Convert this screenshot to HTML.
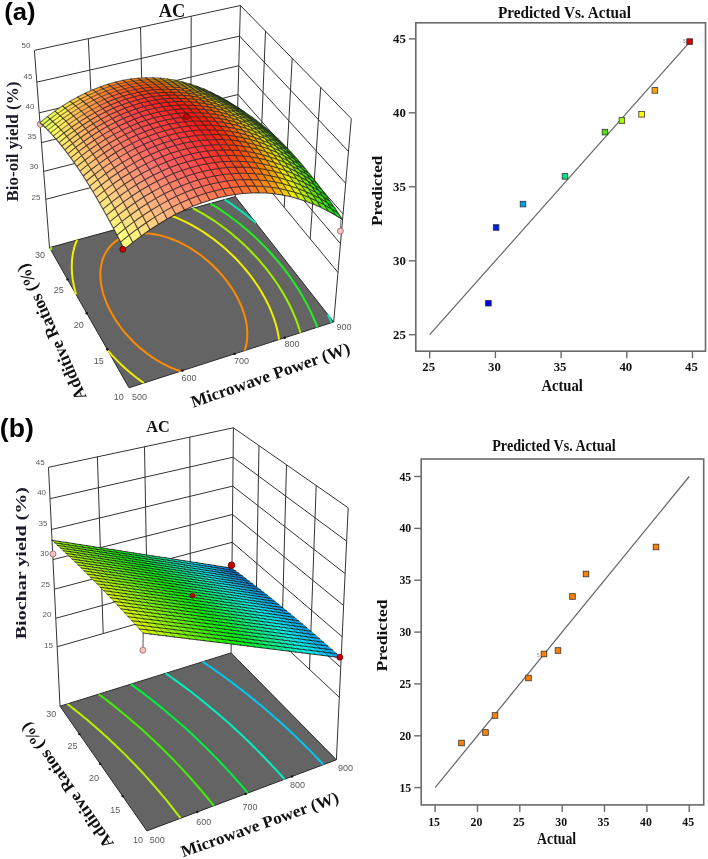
<!DOCTYPE html>
<html><head><meta charset="utf-8"><style>html,body{margin:0;padding:0;background:#fff;}svg{display:block;filter:blur(0.35px);}</style></head>
<body><svg width="708" height="859" viewBox="0 0 708 859">
<rect width="708" height="859" fill="#fff"/>
<path d="M49.5 247.6L34.4 50.4 M95.5 186.4L88.3 38.7 M143.8 173.8L140.5 27.3 M190.8 161.5L191.2 16.3 M235.3 196.6L240.4 5.5 M45.8 199.3L236.5 149.6 M43.7 171.4L237.3 122.4 M41.5 142.6L238.0 94.5 M39.2 112.8L238.8 65.7 M36.9 82.1L239.6 36.1 M34.4 50.4L240.4 5.5 M333.7 322.0L351.3 118.6 M310.2 238.8L320.7 87.4 M284.2 207.3L292.2 58.3 M259.6 177.6L265.5 31.0 M236.5 149.6L338.0 272.5 M237.3 122.4L340.5 243.7 M238.0 94.5L343.1 214.0 M238.8 65.7L345.7 183.3 M239.6 36.1L348.5 151.5 M240.4 5.5L351.3 118.6" stroke="#333" stroke-width="1" fill="none"/>
<polygon points="49.5,247.6 235.3,196.6 333.7,322.0 129.0,387.8" fill="#646464" stroke="#2a2a2a" stroke-width="1"/>
<polyline points="180.4,371.3 175.9,369.6 172.8,368.4 169.6,367.0 165.8,365.2 162.2,363.3 158.8,361.4 155.5,359.4 152.4,357.4 149.5,355.3 146.6,353.2 143.1,350.4 140.0,347.9 137.6,345.7 134.3,342.7 131.9,340.2 129.1,337.3 126.7,334.6 123.8,331.3 122.0,329.0 119.4,325.5 117.0,322.1 114.7,318.6 112.6,315.1 110.7,311.6 108.9,308.0 107.2,304.5 106.2,302.0 104.9,298.5 103.6,294.9 102.9,292.5 102.0,288.8 101.5,286.3 101.0,283.4 100.6,280.1 100.5,277.6 100.4,275.1 100.4,272.6 100.6,269.7 100.9,267.0 101.3,264.6 101.9,262.1 102.7,259.4 103.7,256.7 104.7,254.5 105.8,252.4 107.5,249.8 108.8,248.0 110.6,245.8 113.0,243.5 115.4,241.5 118.0,239.7 120.8,238.2 125.2,236.3 128.2,235.3 131.8,234.4 136.5,233.6 140.0,233.3 144.3,233.3 147.9,233.5 151.4,233.8 155.6,234.4 159.0,235.1 162.1,235.9 165.6,236.9 169.2,238.1 171.7,239.0 174.9,240.3 178.3,241.7 181.5,243.3 184.5,244.8 187.5,246.5 190.3,248.1 193.0,249.8 195.6,251.6 199.1,254.0 201.8,256.0 204.1,257.9 207.5,260.7 209.7,262.6 212.9,265.5 214.9,267.5 217.8,270.5 220.6,273.6 222.4,275.7 225.1,278.8 227.5,282.1 229.9,285.4 232.2,288.7 234.3,292.1 235.8,294.8 237.5,298.0 239.3,301.6 240.4,304.0 242.0,307.7 242.9,310.3 244.2,314.1 244.9,316.7 245.7,319.9 246.4,323.4 246.8,326.2 247.1,329.0 247.3,331.9 247.3,334.8 247.2,337.8 246.9,340.9 246.4,344.0 245.9,346.4 245.1,349.0 244.5,350.7" fill="none" stroke="#ff8a00" stroke-width="2"/>
<polyline points="143.8,383.0 140.8,380.9 137.9,378.7 135.0,376.5 131.6,373.8 128.3,371.0 125.7,368.8 123.2,366.5 119.7,363.1 117.4,360.9 114.1,357.4 111.9,355.2 108.8,351.7 107.9,350.7" fill="none" stroke="#f0f000" stroke-width="2"/>
<polyline points="77.1,240.0 76.0,242.7 75.0,245.3 74.2,247.9 73.7,250.1 73.1,252.5 72.7,255.0 72.3,257.6 72.0,260.4 71.9,263.2 71.8,265.7 71.8,268.2 71.9,270.6 72.1,273.8 72.4,276.8 72.7,279.2 73.3,282.6 73.8,285.3 74.4,288.0 75.2,291.3 76.1,294.6 76.1,294.6" fill="none" stroke="#f0f000" stroke-width="2"/>
<polyline points="279.0,339.6 278.6,336.7 278.1,333.9 277.3,330.1 276.5,327.0 275.8,324.3 274.8,321.2 273.7,317.8 272.7,315.2 271.2,311.4 270.2,308.9 268.5,305.2 267.3,302.7 265.5,299.1 263.5,295.5 262.2,293.2 260.1,289.7 258.0,286.3 255.7,283.0 253.4,279.6 251.0,276.4 248.5,273.2 245.9,270.0 243.3,266.9 240.6,263.8 238.7,261.8 235.9,258.8 232.9,255.8 230.9,253.9 227.8,251.0 225.7,249.1 222.5,246.3 220.3,244.4 216.9,241.7 214.6,239.9 212.0,238.0 208.6,235.6 206.1,233.9 203.6,232.2 201.0,230.5 197.7,228.5 194.5,226.6 191.4,224.9 188.5,223.4 185.6,221.9 182.8,220.6 180.1,219.4 177.5,218.2 174.1,216.8 170.6,215.5 168.7,214.9" fill="none" stroke="#f0f000" stroke-width="2"/>
<polyline points="51.3,247.1 50.9,249.6 50.8,250.0" fill="none" stroke="#a0f000" stroke-width="2"/>
<polyline points="300.5,332.7 299.6,330.0 298.3,326.0 297.4,323.3 296.3,320.4 294.9,316.8 293.8,314.3 292.2,310.5 291.0,308.0 289.2,304.3 287.3,300.7 286.0,298.3 284.0,294.8 282.0,291.3 280.5,289.0 278.4,285.5 276.1,282.2 273.8,278.8 271.4,275.5 269.0,272.3 266.5,269.1 263.9,265.9 261.3,262.8 258.6,259.7 256.3,257.1 254.0,254.7 251.2,251.7 248.3,248.8 246.3,246.9 243.3,244.0 240.9,241.8 238.2,239.3 235.3,236.9 232.8,234.7 230.4,232.8 227.2,230.3 225.0,228.5 221.7,226.1 219.1,224.2 216.7,222.5 214.0,220.7 210.5,218.4 207.9,216.8 205.3,215.2 202.6,213.6 199.9,212.0 197.1,210.5 194.3,209.0 192.9,208.2" fill="none" stroke="#a0f000" stroke-width="2"/>
<polyline points="317.3,327.3 316.3,324.6 314.8,320.9 313.6,318.2 312.2,314.9 310.8,311.8 308.9,308.1 307.7,305.6 305.8,302.0 304.4,299.6 302.4,296.0 300.3,292.5 298.5,289.5 296.7,286.7 294.5,283.3 292.2,280.0 289.9,276.7 287.5,273.4 285.0,270.1 282.5,266.9 280.0,263.8 277.4,260.6 274.7,257.6 272.0,254.5 269.3,251.5 267.3,249.4 264.6,246.6 261.7,243.6 258.8,240.8 256.8,238.9 253.8,236.0 251.8,234.2 248.7,231.4 246.2,229.3 243.4,226.9 241.1,225.0 237.9,222.5 235.7,220.7 232.2,218.2 229.9,216.5 227.6,214.8 224.0,212.3 221.6,210.6 219.2,209.0 216.7,207.4 213.3,205.3 210.3,203.5 210.3,203.5" fill="none" stroke="#20f020" stroke-width="2"/>
<polyline points="256.1,223.1 253.1,220.6 250.8,218.7 247.7,216.2 245.5,214.4 242.1,211.9 239.9,210.2 237.2,208.2 234.1,206.0 231.8,204.4 229.3,202.7 225.8,200.3 224.5,199.5" fill="none" stroke="#00e8b0" stroke-width="2"/>
<polyline points="331.6,322.7 330.5,320.1 328.7,316.3 327.9,314.6" fill="none" stroke="#00e8b0" stroke-width="2"/>
<circle cx="107.2" cy="349.3" r="1.2" fill="#111"/>
<circle cx="86.7" cy="313.2" r="1.2" fill="#111"/>
<circle cx="67.5" cy="279.4" r="1.2" fill="#111"/>
<circle cx="182.5" cy="370.6" r="1.2" fill="#111"/>
<circle cx="234.5" cy="353.9" r="1.2" fill="#111"/>
<circle cx="284.8" cy="337.7" r="1.2" fill="#111"/>
<circle cx="40.4" cy="124.2" r="3.1" fill="#f4c4c4" stroke="#9a6060" stroke-width="0.8"/>
<polygon points="124.2,249.4 132.8,242.4 129.1,235.2 120.5,242.1" fill="#fbff80"/>
<polygon points="132.8,242.4 141.4,235.9 137.7,228.7 129.1,235.2" fill="#ffef80"/>
<polygon points="141.4,235.9 150.0,229.8 146.2,222.7 137.7,228.7" fill="#ffde80"/>
<polygon points="150.0,229.8 158.6,224.2 154.8,217.1 146.2,222.7" fill="#ffce80"/>
<polygon points="158.6,224.2 167.2,219.0 163.4,211.9 154.8,217.1" fill="#ffc080"/>
<polygon points="167.2,219.0 175.8,214.3 171.9,207.3 163.4,211.9" fill="#ffb37d"/>
<polygon points="175.8,214.3 184.4,210.1 180.5,203.1 171.9,207.3" fill="#ffa677"/>
<polygon points="120.5,242.1 129.1,235.2 125.5,228.2 116.9,235.1" fill="#fffc80"/>
<polygon points="129.1,235.2 137.7,228.7 134.0,221.7 125.5,228.2" fill="#ffe880"/>
<polygon points="137.7,228.7 146.2,222.7 142.5,215.7 134.0,221.7" fill="#ffd680"/>
<polygon points="146.2,222.7 154.8,217.1 151.1,210.2 142.5,215.7" fill="#ffc780"/>
<polygon points="184.4,210.1 192.9,206.3 189.0,199.3 180.5,203.1" fill="#ff9971"/>
<polygon points="154.8,217.1 163.4,211.9 159.6,205.1 151.1,210.2" fill="#ffb980"/>
<polygon points="163.4,211.9 171.9,207.3 168.1,200.5 159.6,205.1" fill="#ffab7c"/>
<polygon points="192.9,206.3 201.4,203.0 197.4,196.1 189.0,199.3" fill="#ff8d69"/>
<polygon points="171.9,207.3 180.5,203.1 176.6,196.3 168.1,200.5" fill="#ff9d76"/>
<polygon points="116.9,235.1 125.5,228.2 121.9,221.4 113.4,228.3" fill="#fff580"/>
<polygon points="125.5,228.2 134.0,221.7 130.4,215.0 121.9,221.4" fill="#ffe280"/>
<polygon points="134.0,221.7 142.5,215.7 138.9,209.0 130.4,215.0" fill="#ffd080"/>
<polygon points="201.4,203.0 209.9,200.2 205.9,193.3 197.4,196.1" fill="#ff8361"/>
<polygon points="142.5,215.7 151.1,210.2 147.3,203.5 138.9,209.0" fill="#ffc080"/>
<polygon points="180.5,203.1 189.0,199.3 185.1,192.6 176.6,196.3" fill="#ff906f"/>
<polygon points="151.1,210.2 159.6,205.1 155.8,198.4 147.3,203.5" fill="#ffb27f"/>
<polygon points="159.6,205.1 168.1,200.5 164.3,193.8 155.8,198.4" fill="#ffa37a"/>
<polygon points="209.9,200.2 218.3,197.8 214.3,190.9 205.9,193.3" fill="#ff7a58"/>
<polygon points="189.0,199.3 197.4,196.1 193.5,189.3 185.1,192.6" fill="#ff8367"/>
<polygon points="168.1,200.5 176.6,196.3 172.8,189.7 164.3,193.8" fill="#ff9574"/>
<polygon points="113.4,228.3 121.9,221.4 118.3,214.8 109.9,221.7" fill="#fff080"/>
<polygon points="121.9,221.4 130.4,215.0 126.8,208.5 118.3,214.8" fill="#ffdc80"/>
<polygon points="130.4,215.0 138.9,209.0 135.2,202.5 126.8,208.5" fill="#ffca80"/>
<polygon points="197.4,196.1 205.9,193.3 201.9,186.6 193.5,189.3" fill="#ff785f"/>
<polygon points="218.3,197.8 226.7,195.9 222.6,189.0 214.3,190.9" fill="#ff734f"/>
<polygon points="138.9,209.0 147.3,203.5 143.7,197.0 135.2,202.5" fill="#ffba80"/>
<polygon points="176.6,196.3 185.1,192.6 181.2,186.0 172.8,189.7" fill="#ff876d"/>
<polygon points="147.3,203.5 155.8,198.4 152.1,192.0 143.7,197.0" fill="#ffab7d"/>
<polygon points="205.9,193.3 214.3,190.9 210.3,184.3 201.9,186.6" fill="#ff6f56"/>
<polygon points="155.8,198.4 164.3,193.8 160.6,187.4 152.1,192.0" fill="#ff9c78"/>
<polygon points="185.1,192.6 193.5,189.3 189.6,182.8 181.2,186.0" fill="#ff7a66"/>
<polygon points="226.7,195.9 235.0,194.4 230.9,187.6 222.6,189.0" fill="#ff7045"/>
<polygon points="164.3,193.8 172.8,189.7 169.0,183.3 160.6,187.4" fill="#ff8d72"/>
<polygon points="109.9,221.7 118.3,214.8 114.8,208.5 106.4,215.3" fill="#ffea80"/>
<polygon points="118.3,214.8 126.8,208.5 123.2,202.1 114.8,208.5" fill="#ffd780"/>
<polygon points="193.5,189.3 201.9,186.6 198.0,180.1 189.6,182.8" fill="#ff6f5d"/>
<polygon points="126.8,208.5 135.2,202.5 131.6,196.2 123.2,202.1" fill="#ffc580"/>
<polygon points="214.3,190.9 222.6,189.0 218.6,182.4 210.3,184.3" fill="#ff684d"/>
<polygon points="135.2,202.5 143.7,197.0 140.0,190.8 131.6,196.2" fill="#ffb580"/>
<polygon points="172.8,189.7 181.2,186.0 177.4,179.7 169.0,183.3" fill="#ff7f6b"/>
<polygon points="143.7,197.0 152.1,192.0 148.5,185.8 140.0,190.8" fill="#ffa57b"/>
<polygon points="235.0,194.4 243.2,193.4 239.1,186.7 230.9,187.6" fill="#ff6f3a"/>
<polygon points="201.9,186.6 210.3,184.3 206.4,177.8 198.0,180.1" fill="#ff6554"/>
<polygon points="152.1,192.0 160.6,187.4 156.9,181.2 148.5,185.8" fill="#ff9576"/>
<polygon points="181.2,186.0 189.6,182.8 185.8,176.5 177.4,179.7" fill="#ff7264"/>
<polygon points="222.6,189.0 230.9,187.6 226.9,181.0 218.6,182.4" fill="#ff6443"/>
<polygon points="160.6,187.4 169.0,183.3 165.3,177.2 156.9,181.2" fill="#ff8670"/>
<polygon points="106.4,215.3 114.8,208.5 111.3,202.3 102.9,209.1" fill="#ffe680"/>
<polygon points="114.8,208.5 123.2,202.1 119.7,196.0 111.3,202.3" fill="#ffd280"/>
<polygon points="189.6,182.8 198.0,180.1 194.1,173.8 185.8,176.5" fill="#ff665b"/>
<polygon points="123.2,202.1 131.6,196.2 128.1,190.1 119.7,196.0" fill="#ffc080"/>
<polygon points="210.3,184.3 218.6,182.4 214.6,176.0 206.4,177.8" fill="#ff5e4b"/>
<polygon points="243.2,193.4 251.4,192.9 247.3,186.1 239.1,186.7" fill="#fe7230"/>
<polygon points="131.6,196.2 140.0,190.8 136.4,184.7 128.1,190.1" fill="#ffb07e"/>
<polygon points="169.0,183.3 177.4,179.7 173.6,173.6 165.3,177.2" fill="#ff7769"/>
<polygon points="230.9,187.6 239.1,186.7 235.1,180.1 226.9,181.0" fill="#ff6338"/>
<polygon points="140.0,190.8 148.5,185.8 144.8,179.7 136.4,184.7" fill="#ff9f7a"/>
<polygon points="198.0,180.1 206.4,177.8 202.5,171.6 194.1,173.8" fill="#ff5c52"/>
<polygon points="177.4,179.7 185.8,176.5 182.0,170.4 173.6,173.6" fill="#ff6961"/>
<polygon points="148.5,185.8 156.9,181.2 153.2,175.3 144.8,179.7" fill="#ff8f74"/>
<polygon points="218.6,182.4 226.9,181.0 222.9,174.6 214.6,176.0" fill="#ff5941"/>
<polygon points="251.4,192.9 259.5,192.8 255.4,186.1 247.3,186.1" fill="#fc7925"/>
<polygon points="156.9,181.2 165.3,177.2 161.6,171.2 153.2,175.3" fill="#ff7f6e"/>
<polygon points="102.9,209.1 111.3,202.3 107.9,196.3 99.5,203.1" fill="#ffe280"/>
<polygon points="111.3,202.3 119.7,196.0 116.2,190.1 107.9,196.3" fill="#ffce80"/>
<polygon points="185.8,176.5 194.1,173.8 190.3,167.7 182.0,170.4" fill="#ff5d59"/>
<polygon points="239.1,186.7 247.3,186.1 243.2,179.6 235.1,180.1" fill="#fd652e"/>
<polygon points="206.4,177.8 214.6,176.0 210.7,169.8 202.5,171.6" fill="#ff5449"/>
<polygon points="119.7,196.0 128.1,190.1 124.5,184.2 116.2,190.1" fill="#ffbd80"/>
<polygon points="165.3,177.2 173.6,173.6 169.9,167.6 161.6,171.2" fill="#ff7067"/>
<polygon points="128.1,190.1 136.4,184.7 132.9,178.8 124.5,184.2" fill="#ffab7c"/>
<polygon points="226.9,181.0 235.1,180.1 231.1,173.7 222.9,174.6" fill="#ff5736"/>
<polygon points="136.4,184.7 144.8,179.7 141.2,173.9 132.9,178.8" fill="#ff9977"/>
<polygon points="194.1,173.8 202.5,171.6 198.6,165.5 190.3,167.7" fill="#ff5350"/>
<polygon points="173.6,173.6 182.0,170.4 178.2,164.5 169.9,167.6" fill="#ff625f"/>
<polygon points="259.5,192.8 267.5,193.1 263.4,186.5 255.4,186.1" fill="#fa851a"/>
<polygon points="144.8,179.7 153.2,175.3 149.6,169.5 141.2,173.9" fill="#ff8972"/>
<polygon points="214.6,176.0 222.9,174.6 218.9,168.4 210.7,169.8" fill="#ff4e3f"/>
<polygon points="247.3,186.1 255.4,186.1 251.3,179.6 243.2,179.6" fill="#fc6c23"/>
<polygon points="153.2,175.3 161.6,171.2 157.9,165.5 149.6,169.5" fill="#ff796c"/>
<polygon points="235.1,180.1 243.2,179.6 239.2,173.3 231.1,173.7" fill="#fd592c"/>
<polygon points="99.5,203.1 107.9,196.3 104.4,190.6 96.2,197.3" fill="#ffdf80"/>
<polygon points="182.0,170.4 190.3,167.7 186.5,161.9 178.2,164.5" fill="#ff5757"/>
<polygon points="202.5,171.6 210.7,169.8 206.8,163.8 198.6,165.5" fill="#ff4a47"/>
<polygon points="107.9,196.3 116.2,190.1 112.7,184.3 104.4,190.6" fill="#ffcb80"/>
<polygon points="116.2,190.1 124.5,184.2 121.0,178.5 112.7,184.3" fill="#ffb97e"/>
<polygon points="161.6,171.2 169.9,167.6 166.2,161.9 157.9,165.5" fill="#ff6965"/>
<polygon points="124.5,184.2 132.9,178.8 129.4,173.2 121.0,178.5" fill="#ffa67a"/>
<polygon points="222.9,174.6 231.1,173.7 227.1,167.6 218.9,168.4" fill="#fe4d34"/>
<polygon points="132.9,178.8 141.2,173.9 137.7,168.3 129.4,173.2" fill="#ff9475"/>
<polygon points="267.5,193.1 275.5,193.9 271.3,187.3 263.4,186.5" fill="#f8960f"/>
<polygon points="190.3,167.7 198.6,165.5 194.8,159.7 186.5,161.9" fill="#ff4e4e"/>
<polygon points="255.4,186.1 263.4,186.5 259.3,180.0 251.3,179.6" fill="#fa7818"/>
<polygon points="169.9,167.6 178.2,164.5 174.5,158.8 166.2,161.9" fill="#ff5d5d"/>
<polygon points="210.7,169.8 218.9,168.4 215.0,162.4 206.8,163.8" fill="#ff453d"/>
<polygon points="141.2,173.9 149.6,169.5 146.0,163.9 137.7,168.3" fill="#ff8370"/>
<polygon points="243.2,179.6 251.3,179.6 247.2,173.3 239.2,173.3" fill="#fb6021"/>
<polygon points="149.6,169.5 157.9,165.5 154.3,159.9 146.0,163.9" fill="#ff736a"/>
<polygon points="231.1,173.7 239.2,173.3 235.2,167.1 227.1,167.6" fill="#fd4e29"/>
<polygon points="198.6,165.5 206.8,163.8 203.0,157.9 194.8,159.7" fill="#ff4444"/>
<polygon points="178.2,164.5 186.5,161.9 182.7,156.2 174.5,158.8" fill="#ff5555"/>
<polygon points="96.2,197.3 104.4,190.6 101.1,185.0 92.8,191.6" fill="#ffdc80"/>
<polygon points="104.4,190.6 112.7,184.3 109.3,178.8 101.1,185.0" fill="#ffc980"/>
<polygon points="112.7,184.3 121.0,178.5 117.6,173.0 109.3,178.8" fill="#ffb57c"/>
<polygon points="218.9,168.4 227.1,167.6 223.1,161.6 215.0,162.4" fill="#fe4332"/>
<polygon points="157.9,165.5 166.2,161.9 162.5,156.4 154.3,159.9" fill="#ff6363"/>
<polygon points="121.0,178.5 129.4,173.2 125.9,167.7 117.6,173.0" fill="#ffa278"/>
<polygon points="275.5,193.9 283.4,195.2 279.2,188.5 271.3,187.3" fill="#f6ad04"/>
<polygon points="263.4,186.5 271.3,187.3 267.2,180.8 259.3,180.0" fill="#f8880d"/>
<polygon points="129.4,173.2 137.7,168.3 134.1,162.9 125.9,167.7" fill="#ff9073"/>
<polygon points="251.3,179.6 259.3,180.0 255.2,173.7 247.2,173.3" fill="#f96b16"/>
<polygon points="186.5,161.9 194.8,159.7 191.0,154.0 182.7,156.2" fill="#ff4c4c"/>
<polygon points="206.8,163.8 215.0,162.4 211.1,156.7 203.0,157.9" fill="#ff3c3a"/>
<polygon points="166.2,161.9 174.5,158.8 170.8,153.3 162.5,156.4" fill="#ff5b5b"/>
<polygon points="239.2,173.3 247.2,173.3 243.2,167.1 235.2,167.1" fill="#fb551f"/>
<polygon points="137.7,168.3 146.0,163.9 142.4,158.5 134.1,162.9" fill="#ff7f6e"/>
<polygon points="227.1,167.6 235.2,167.1 231.2,161.2 223.1,161.6" fill="#fc4427"/>
<polygon points="146.0,163.9 154.3,159.9 150.7,154.5 142.4,158.5" fill="#ff6e67"/>
<polygon points="194.8,159.7 203.0,157.9 199.1,152.3 191.0,154.0" fill="#ff4242"/>
<polygon points="174.5,158.8 182.7,156.2 179.0,150.7 170.8,153.3" fill="#ff5252"/>
<polygon points="92.8,191.6 101.1,185.0 97.8,179.6 89.6,186.2" fill="#ffda80"/>
<polygon points="101.1,185.0 109.3,178.8 106.0,173.5 97.8,179.6" fill="#ffc67d"/>
<polygon points="109.3,178.8 117.6,173.0 114.2,167.7 106.0,173.5" fill="#ffb27a"/>
<polygon points="215.0,162.4 223.1,161.6 219.2,155.8 211.1,156.7" fill="#fe3a30"/>
<polygon points="283.4,195.2 291.1,196.8 286.9,190.2 279.2,188.5" fill="#f4cb00"/>
<polygon points="271.3,187.3 279.2,188.5 275.0,182.1 267.2,180.8" fill="#f59f02"/>
<polygon points="154.3,159.9 162.5,156.4 158.9,151.0 150.7,154.5" fill="#ff6060"/>
<polygon points="259.3,180.0 267.2,180.8 263.1,174.6 255.2,173.7" fill="#f77c0b"/>
<polygon points="117.6,173.0 125.9,167.7 122.4,162.5 114.2,167.7" fill="#ff9f76"/>
<polygon points="247.2,173.3 255.2,173.7 251.1,167.6 243.2,167.1" fill="#f96014"/>
<polygon points="125.9,167.7 134.1,162.9 130.7,157.6 122.4,162.5" fill="#ff8c71"/>
<polygon points="182.7,156.2 191.0,154.0 187.2,148.6 179.0,150.7" fill="#ff4949"/>
<polygon points="203.0,157.9 211.1,156.7 207.3,151.1 199.1,152.3" fill="#ff3838"/>
<polygon points="235.2,167.1 243.2,167.1 239.2,161.2 231.2,161.2" fill="#fa4a1c"/>
<polygon points="162.5,156.4 170.8,153.3 167.1,148.0 158.9,151.0" fill="#ff5959"/>
<polygon points="134.1,162.9 142.4,158.5 138.9,153.3 130.7,157.6" fill="#ff7b6b"/>
<polygon points="223.1,161.6 231.2,161.2 227.2,155.5 219.2,155.8" fill="#fc3b25"/>
<polygon points="142.4,158.5 150.7,154.5 147.1,149.4 138.9,153.3" fill="#ff6a65"/>
<polygon points="191.0,154.0 199.1,152.3 195.3,146.9 187.2,148.6" fill="#ff4040"/>
<polygon points="170.8,153.3 179.0,150.7 175.3,145.4 167.1,148.0" fill="#ff5050"/>
<polygon points="89.6,186.2 97.8,179.6 94.5,174.5 86.3,181.0" fill="#ffd97e"/>
<polygon points="279.2,188.5 286.9,190.2 282.8,183.8 275.0,182.1" fill="#f3be00"/>
<polygon points="97.8,179.6 106.0,173.5 102.6,168.3 94.5,174.5" fill="#ffc47b"/>
<polygon points="267.2,180.8 275.0,182.1 270.9,175.9 263.1,174.6" fill="#f59200"/>
<polygon points="291.1,196.8 298.8,198.9 294.6,192.3 286.9,190.2" fill="#f2ee00"/>
<polygon points="211.1,156.7 219.2,155.8 215.3,150.3 207.3,151.1" fill="#fd322d"/>
<polygon points="106.0,173.5 114.2,167.7 110.8,162.6 102.6,168.3" fill="#ffaf78"/>
<polygon points="255.2,173.7 263.1,174.6 259.0,168.5 251.1,167.6" fill="#f77009"/>
<polygon points="150.7,154.5 158.9,151.0 155.3,145.9 147.1,149.4" fill="#ff5e5e"/>
<polygon points="114.2,167.7 122.4,162.5 119.0,157.4 110.8,162.6" fill="#ff9c73"/>
<polygon points="243.2,167.1 251.1,167.6 247.1,161.7 239.2,161.2" fill="#f85511"/>
<polygon points="179.0,150.7 187.2,148.6 183.5,143.3 175.3,145.4" fill="#ff4747"/>
<polygon points="122.4,162.5 130.7,157.6 127.2,152.6 119.0,157.4" fill="#ff896f"/>
<polygon points="199.1,152.3 207.3,151.1 203.4,145.7 195.3,146.9" fill="#ff3636"/>
<polygon points="231.2,161.2 239.2,161.2 235.2,155.5 227.2,155.5" fill="#fa411a"/>
<polygon points="158.9,151.0 167.1,148.0 163.5,142.9 155.3,145.9" fill="#ff5656"/>
<polygon points="130.7,157.6 138.9,153.3 135.4,148.3 127.2,152.6" fill="#ff7769"/>
<polygon points="219.2,155.8 227.2,155.5 223.3,149.9 215.3,150.3" fill="#fc3323"/>
<polygon points="138.9,153.3 147.1,149.4 143.6,144.4 135.4,148.3" fill="#ff6663"/>
<polygon points="187.2,148.6 195.3,146.9 191.6,141.7 183.5,143.3" fill="#ff3d3d"/>
<polygon points="275.0,182.1 282.8,183.8 278.6,177.6 270.9,175.9" fill="#f3b200"/>
<polygon points="167.1,148.0 175.3,145.4 171.7,140.4 163.5,142.9" fill="#ff4e4e"/>
<polygon points="263.1,174.6 270.9,175.9 266.8,169.8 259.0,168.5" fill="#f48700"/>
<polygon points="286.9,190.2 294.6,192.3 290.4,185.9 282.8,183.8" fill="#f1e000"/>
<polygon points="86.3,181.0 94.5,174.5 91.2,169.5 83.1,176.0" fill="#ffd87c"/>
<polygon points="251.1,167.6 259.0,168.5 255.0,162.6 247.1,161.7" fill="#f66506"/>
<polygon points="298.8,198.9 306.4,201.4 302.1,194.8 294.6,192.3" fill="#d1f000"/>
<polygon points="207.3,151.1 215.3,150.3 211.5,144.9 203.4,145.7" fill="#fd2b2b"/>
<polygon points="94.5,174.5 102.6,168.3 99.4,163.4 91.2,169.5" fill="#ffc279"/>
<polygon points="102.6,168.3 110.8,162.6 107.5,157.7 99.4,163.4" fill="#ffad75"/>
<polygon points="147.1,149.4 155.3,145.9 151.8,141.0 143.6,144.4" fill="#ff5b5b"/>
<polygon points="239.2,161.2 247.1,161.7 243.1,156.0 235.2,155.5" fill="#f84c0f"/>
<polygon points="110.8,162.6 119.0,157.4 115.7,152.5 107.5,157.7" fill="#ff9a71"/>
<polygon points="175.3,145.4 183.5,143.3 179.8,138.3 171.7,140.4" fill="#ff4444"/>
<polygon points="227.2,155.5 235.2,155.5 231.3,150.0 223.3,149.9" fill="#fa3918"/>
<polygon points="119.0,157.4 127.2,152.6 123.8,147.8 115.7,152.5" fill="#ff876c"/>
<polygon points="195.3,146.9 203.4,145.7 199.6,140.5 191.6,141.7" fill="#fe3333"/>
<polygon points="155.3,145.9 163.5,142.9 159.9,138.0 151.8,141.0" fill="#ff5454"/>
<polygon points="127.2,152.6 135.4,148.3 132.0,143.5 123.8,147.8" fill="#ff7466"/>
<polygon points="215.3,150.3 223.3,149.9 219.5,144.6 211.5,144.9" fill="#fb2c20"/>
<polygon points="270.9,175.9 278.6,177.6 274.5,171.6 266.8,169.8" fill="#f2a700"/>
<polygon points="282.8,183.8 290.4,185.9 286.2,179.7 278.6,177.6" fill="#f1d500"/>
<polygon points="259.0,168.5 266.8,169.8 262.7,164.0 255.0,162.6" fill="#f47e00"/>
<polygon points="183.5,143.3 191.6,141.7 187.9,136.7 179.8,138.3" fill="#ff3b3b"/>
<polygon points="135.4,148.3 143.6,144.4 140.1,139.6 132.0,143.5" fill="#ff6360"/>
<polygon points="294.6,192.3 302.1,194.8 297.9,188.5 290.4,185.9" fill="#dcf000"/>
<polygon points="163.5,142.9 171.7,140.4 168.0,135.5 159.9,138.0" fill="#ff4b4b"/>
<polygon points="247.1,161.7 255.0,162.6 251.0,157.0 243.1,156.0" fill="#f65c04"/>
<polygon points="203.4,145.7 211.5,144.9 207.7,139.7 199.6,140.5" fill="#fd2929"/>
<polygon points="306.4,201.4 313.8,204.3 309.6,197.7 302.1,194.8" fill="#aaee00"/>
<polygon points="83.1,176.0 91.2,169.5 88.0,164.7 80.0,171.2" fill="#ffd77a"/>
<polygon points="91.2,169.5 99.4,163.4 96.1,158.6 88.0,164.7" fill="#ffc177"/>
<polygon points="235.2,155.5 243.1,156.0 239.2,150.5 231.3,150.0" fill="#f8430d"/>
<polygon points="99.4,163.4 107.5,157.7 104.2,153.0 96.1,158.6" fill="#ffac73"/>
<polygon points="143.6,144.4 151.8,141.0 148.3,136.2 140.1,139.6" fill="#ff5959"/>
<polygon points="107.5,157.7 115.7,152.5 112.3,147.8 104.2,153.0" fill="#ff986f"/>
<polygon points="223.3,149.9 231.3,150.0 227.4,144.7 219.5,144.6" fill="#f93115"/>
<polygon points="171.7,140.4 179.8,138.3 176.1,133.4 168.0,135.5" fill="#ff4242"/>
<polygon points="191.6,141.7 199.6,140.5 195.9,135.5 187.9,136.7" fill="#fe3131"/>
<polygon points="115.7,152.5 123.8,147.8 120.5,143.1 112.3,147.8" fill="#ff856a"/>
<polygon points="151.8,141.0 159.9,138.0 156.4,133.3 148.3,136.2" fill="#ff5151"/>
<polygon points="211.5,144.9 219.5,144.6 215.6,139.4 207.7,139.7" fill="#fb251e"/>
<polygon points="123.8,147.8 132.0,143.5 128.6,138.8 120.5,143.1" fill="#ff7264"/>
<polygon points="266.8,169.8 274.5,171.6 270.4,165.8 262.7,164.0" fill="#f29d00"/>
<polygon points="278.6,177.6 286.2,179.7 282.1,173.8 274.5,171.6" fill="#f1ca00"/>
<polygon points="255.0,162.6 262.7,164.0 258.7,158.3 251.0,157.0" fill="#f47500"/>
<polygon points="290.4,185.9 297.9,188.5 293.8,182.3 286.2,179.7" fill="#e5ef00"/>
<polygon points="179.8,138.3 187.9,136.7 184.2,131.8 176.1,133.4" fill="#ff3838"/>
<polygon points="243.1,156.0 251.0,157.0 247.0,151.5 239.2,150.5" fill="#f55302"/>
<polygon points="302.1,194.8 309.6,197.7 305.4,191.4 297.9,188.5" fill="#b4ee00"/>
<polygon points="132.0,143.5 140.1,139.6 136.7,135.0 128.6,138.8" fill="#ff615e"/>
<polygon points="159.9,138.0 168.0,135.5 164.5,130.8 156.4,133.3" fill="#ff4949"/>
<polygon points="199.6,140.5 207.7,139.7 203.9,134.7 195.9,135.5" fill="#fc2626"/>
<polygon points="231.3,150.0 239.2,150.5 235.3,145.2 227.4,144.7" fill="#f73c0a"/>
<polygon points="80.0,171.2 88.0,164.7 84.9,160.1 76.8,166.5" fill="#ffd777"/>
<polygon points="313.8,204.3 321.2,207.6 316.9,201.1 309.6,197.7" fill="#80ec00"/>
<polygon points="88.0,164.7 96.1,158.6 92.9,154.1 84.9,160.1" fill="#ffc174"/>
<polygon points="96.1,158.6 104.2,153.0 101.0,148.5 92.9,154.1" fill="#ffac71"/>
<polygon points="140.1,139.6 148.3,136.2 144.8,131.7 136.7,135.0" fill="#ff5656"/>
<polygon points="104.2,153.0 112.3,147.8 109.1,143.3 101.0,148.5" fill="#ff976c"/>
<polygon points="219.5,144.6 227.4,144.7 223.5,139.6 215.6,139.4" fill="#f92b13"/>
<polygon points="168.0,135.5 176.1,133.4 172.5,128.8 164.5,130.8" fill="#ff3f3f"/>
<polygon points="187.9,136.7 195.9,135.5 192.2,130.7 184.2,131.8" fill="#fd2e2e"/>
<polygon points="112.3,147.8 120.5,143.1 117.1,138.7 109.1,143.3" fill="#ff8467"/>
<polygon points="148.3,136.2 156.4,133.3 152.9,128.7 144.8,131.7" fill="#ff4e4e"/>
<polygon points="207.7,139.7 215.6,139.4 211.8,134.5 203.9,134.7" fill="#fa201b"/>
<polygon points="274.5,171.6 282.1,173.8 278.0,168.0 270.4,165.8" fill="#f0c100"/>
<polygon points="262.7,164.0 270.4,165.8 266.4,160.1 258.7,158.3" fill="#f29500"/>
<polygon points="286.2,179.7 293.8,182.3 289.6,176.3 282.1,173.8" fill="#edef00"/>
<polygon points="120.5,143.1 128.6,138.8 125.2,134.4 117.1,138.7" fill="#ff7161"/>
<polygon points="251.0,157.0 258.7,158.3 254.7,152.9 247.0,151.5" fill="#f36f00"/>
<polygon points="297.9,188.5 305.4,191.4 301.2,185.3 293.8,182.3" fill="#beed00"/>
<polygon points="239.2,150.5 247.0,151.5 243.0,146.2 235.3,145.2" fill="#f54d00"/>
<polygon points="176.1,133.4 184.2,131.8 180.5,127.2 172.5,128.8" fill="#ff3636"/>
<polygon points="128.6,138.8 136.7,135.0 133.3,130.6 125.2,134.4" fill="#ff5f5b"/>
<polygon points="309.6,197.7 316.9,201.1 312.7,194.7 305.4,191.4" fill="#8bec00"/>
<polygon points="156.4,133.3 164.5,130.8 160.9,126.3 152.9,128.7" fill="#ff4646"/>
<polygon points="195.9,135.5 203.9,134.7 200.1,130.0 192.2,130.7" fill="#fc2424"/>
<polygon points="227.4,144.7 235.3,145.2 231.4,140.1 223.5,139.6" fill="#f73608"/>
<polygon points="76.8,166.5 84.9,160.1 81.7,155.7 73.8,162.1" fill="#ffd875"/>
<polygon points="84.9,160.1 92.9,154.1 89.7,149.7 81.7,155.7" fill="#ffc272"/>
<polygon points="321.2,207.6 328.4,211.2 324.2,204.8 316.9,201.1" fill="#54eb00"/>
<polygon points="92.9,154.1 101.0,148.5 97.8,144.1 89.7,149.7" fill="#ffac6e"/>
<polygon points="136.7,135.0 144.8,131.7 141.3,127.3 133.3,130.6" fill="#ff5454"/>
<polygon points="215.6,139.4 223.5,139.6 219.7,134.6 211.8,134.5" fill="#f82611"/>
<polygon points="101.0,148.5 109.1,143.3 105.8,139.0 97.8,144.1" fill="#ff976a"/>
<polygon points="164.5,130.8 172.5,128.8 168.9,124.3 160.9,126.3" fill="#ff3d3d"/>
<polygon points="184.2,131.8 192.2,130.7 188.5,126.0 180.5,127.2" fill="#fd2c2c"/>
<polygon points="109.1,143.3 117.1,138.7 113.8,134.4 105.8,139.0" fill="#ff8465"/>
<polygon points="270.4,165.8 278.0,168.0 274.0,162.4 266.4,160.1" fill="#f0b800"/>
<polygon points="258.7,158.3 266.4,160.1 262.4,154.7 254.7,152.9" fill="#f18e00"/>
<polygon points="282.1,173.8 289.6,176.3 285.5,170.6 278.0,168.0" fill="#eee700"/>
<polygon points="144.8,131.7 152.9,128.7 149.4,124.4 141.3,127.3" fill="#ff4c4c"/>
<polygon points="203.9,134.7 211.8,134.5 208.1,129.7 200.1,130.0" fill="#fa1c19"/>
<polygon points="247.0,151.5 254.7,152.9 250.8,147.6 243.0,146.2" fill="#f36900"/>
<polygon points="293.8,182.3 301.2,185.3 297.1,179.3 289.6,176.3" fill="#c6ed00"/>
<polygon points="117.1,138.7 125.2,134.4 121.9,130.2 113.8,134.4" fill="#ff715f"/>
<polygon points="235.3,145.2 243.0,146.2 239.1,141.1 231.4,140.1" fill="#f44800"/>
<polygon points="305.4,191.4 312.7,194.7 308.5,188.6 301.2,185.3" fill="#94ec00"/>
<polygon points="172.5,128.8 180.5,127.2 176.9,122.7 168.9,124.3" fill="#fe3333"/>
<polygon points="125.2,134.4 133.3,130.6 129.9,126.4 121.9,130.2" fill="#ff5f58"/>
<polygon points="192.2,130.7 200.1,130.0 196.4,125.4 188.5,126.0" fill="#fb2121"/>
<polygon points="152.9,128.7 160.9,126.3 157.4,122.0 149.4,124.4" fill="#ff4343"/>
<polygon points="223.5,139.6 231.4,140.1 227.5,135.2 219.7,134.6" fill="#f63106"/>
<polygon points="316.9,201.1 324.2,204.8 320.0,198.5 312.7,194.7" fill="#5eea00"/>
<polygon points="73.8,162.1 81.7,155.7 78.7,151.4 70.7,157.8" fill="#ffda73"/>
<polygon points="81.7,155.7 89.7,149.7 86.6,145.5 78.7,151.4" fill="#ffc36f"/>
<polygon points="211.8,134.5 219.7,134.6 215.9,129.9 208.1,129.7" fill="#f8220e"/>
<polygon points="133.3,130.6 141.3,127.3 137.9,123.1 129.9,126.4" fill="#ff5151"/>
<polygon points="89.7,149.7 97.8,144.1 94.6,140.0 86.6,145.5" fill="#ffad6c"/>
<polygon points="328.4,211.2 335.6,215.3 331.3,208.8 324.2,204.8" fill="#25e900"/>
<polygon points="97.8,144.1 105.8,139.0 102.6,134.9 94.6,140.0" fill="#ff9867"/>
<polygon points="180.5,127.2 188.5,126.0 184.9,121.6 176.9,122.7" fill="#fd2929"/>
<polygon points="160.9,126.3 168.9,124.3 165.4,120.0 157.4,122.0" fill="#ff3a3a"/>
<polygon points="266.4,160.1 274.0,162.4 269.9,156.9 262.4,154.7" fill="#efb200"/>
<polygon points="278.0,168.0 285.5,170.6 281.5,165.0 274.0,162.4" fill="#eedf00"/>
<polygon points="254.7,152.9 262.4,154.7 258.4,149.5 250.8,147.6" fill="#f18900"/>
<polygon points="289.6,176.3 297.1,179.3 292.9,173.6 285.5,170.6" fill="#ceed00"/>
<polygon points="105.8,139.0 113.8,134.4 110.6,130.3 102.6,134.9" fill="#ff8462"/>
<polygon points="200.1,130.0 208.1,129.7 204.3,125.1 196.4,125.4" fill="#f91916"/>
<polygon points="243.0,146.2 250.8,147.6 246.8,142.6 239.1,141.1" fill="#f26500"/>
<polygon points="141.3,127.3 149.4,124.4 146.0,120.2 137.9,123.1" fill="#ff4949"/>
<polygon points="301.2,185.3 308.5,188.6 304.4,182.7 297.1,179.3" fill="#9deb00"/>
<polygon points="231.4,140.1 239.1,141.1 235.3,136.2 227.5,135.2" fill="#f44500"/>
<polygon points="113.8,134.4 121.9,130.2 118.6,126.1 110.6,130.3" fill="#ff715c"/>
<polygon points="312.7,194.7 320.0,198.5 315.8,192.4 308.5,188.6" fill="#68ea00"/>
<polygon points="168.9,124.3 176.9,122.7 173.4,118.4 165.4,120.0" fill="#fe3030"/>
<polygon points="219.7,134.6 227.5,135.2 223.7,130.5 215.9,129.9" fill="#f62d03"/>
<polygon points="188.5,126.0 196.4,125.4 192.8,120.9 184.9,121.6" fill="#fb1f1f"/>
<polygon points="149.4,124.4 157.4,122.0 153.9,117.8 146.0,120.2" fill="#ff4141"/>
<polygon points="121.9,130.2 129.9,126.4 126.6,122.4 118.6,126.1" fill="#ff5f56"/>
<polygon points="324.2,204.8 331.3,208.8 327.1,202.6 320.0,198.5" fill="#2fe900"/>
<polygon points="70.7,157.8 78.7,151.4 75.6,147.4 67.7,153.8" fill="#ffdc70"/>
<polygon points="78.7,151.4 86.6,145.5 83.5,141.5 75.6,147.4" fill="#ffc56d"/>
<polygon points="208.1,129.7 215.9,129.9 212.1,125.3 204.3,125.1" fill="#f71f0c"/>
<polygon points="129.9,126.4 137.9,123.1 134.6,119.1 126.6,122.4" fill="#ff4e4e"/>
<polygon points="86.6,145.5 94.6,140.0 91.5,136.0 83.5,141.5" fill="#ffaf69"/>
<polygon points="262.4,154.7 269.9,156.9 265.9,151.7 258.4,149.5" fill="#efac00"/>
<polygon points="274.0,162.4 281.5,165.0 277.4,159.6 269.9,156.9" fill="#eed800"/>
<polygon points="176.9,122.7 184.9,121.6 181.3,117.4 173.4,118.4" fill="#fc2626"/>
<polygon points="250.8,147.6 258.4,149.5 254.4,144.4 246.8,142.6" fill="#f08400"/>
<polygon points="157.4,122.0 165.4,120.0 161.9,115.9 153.9,117.8" fill="#ff3737"/>
<polygon points="94.6,140.0 102.6,134.9 99.4,131.0 91.5,136.0" fill="#ff9a64"/>
<polygon points="285.5,170.6 292.9,173.6 288.8,168.0 281.5,165.0" fill="#d4ec00"/>
<polygon points="335.6,215.3 342.6,219.7 338.3,213.3 331.3,208.8" fill="#00e815"/>
<polygon points="239.1,141.1 246.8,142.6 242.9,137.7 235.3,136.2" fill="#f26200"/>
<polygon points="297.1,179.3 304.4,182.7 300.2,177.0 292.9,173.6" fill="#a4eb00"/>
<polygon points="196.4,125.4 204.3,125.1 200.6,120.7 192.8,120.9" fill="#f91714"/>
<polygon points="102.6,134.9 110.6,130.3 107.4,126.4 99.4,131.0" fill="#ff865f"/>
<polygon points="137.9,123.1 146.0,120.2 142.6,116.3 134.6,119.1" fill="#ff4646"/>
<polygon points="227.5,135.2 235.3,136.2 231.4,131.5 223.7,130.5" fill="#f34300"/>
<polygon points="308.5,188.6 315.8,192.4 311.6,186.5 304.4,182.7" fill="#70ea00"/>
<polygon points="110.6,130.3 118.6,126.1 115.4,122.2 107.4,126.4" fill="#ff7259"/>
<polygon points="165.4,120.0 173.4,118.4 169.8,114.4 161.9,115.9" fill="#fd2e2e"/>
<polygon points="215.9,129.9 223.7,130.5 219.9,125.9 212.1,125.3" fill="#f52a01"/>
<polygon points="184.9,121.6 192.8,120.9 189.1,116.7 181.3,117.4" fill="#fa1c1c"/>
<polygon points="320.0,198.5 327.1,202.6 322.9,196.5 315.8,192.4" fill="#39e800"/>
<polygon points="146.0,120.2 153.9,117.8 150.5,113.9 142.6,116.3" fill="#ff3e3e"/>
<polygon points="118.6,126.1 126.6,122.4 123.3,118.5 115.4,122.2" fill="#ff6053"/>
<polygon points="204.3,125.1 212.1,125.3 208.4,120.9 200.6,120.7" fill="#f71d09"/>
<polygon points="331.3,208.8 338.3,213.3 334.1,207.0 327.1,202.6" fill="#00e703"/>
<polygon points="67.7,153.8 75.6,147.4 72.6,143.5 64.8,149.9" fill="#ffdf6e"/>
<polygon points="269.9,156.9 277.4,159.6 273.4,154.4 265.9,151.7" fill="#edd200"/>
<polygon points="75.6,147.4 83.5,141.5 80.5,137.7 72.6,143.5" fill="#ffc86a"/>
<polygon points="258.4,149.5 265.9,151.7 262.0,146.7 254.4,144.4" fill="#efa800"/>
<polygon points="281.5,165.0 288.8,168.0 284.8,162.6 277.4,159.6" fill="#d9ec00"/>
<polygon points="126.6,122.4 134.6,119.1 131.3,115.3 123.3,118.5" fill="#ff4f4b"/>
<polygon points="83.5,141.5 91.5,136.0 88.4,132.2 80.5,137.7" fill="#ffb266"/>
<polygon points="246.8,142.6 254.4,144.4 250.5,139.5 242.9,137.7" fill="#f08100"/>
<polygon points="173.4,118.4 181.3,117.4 177.7,113.3 169.8,114.4" fill="#fc2424"/>
<polygon points="292.9,173.6 300.2,177.0 296.1,171.4 288.8,168.0" fill="#aaeb00"/>
<polygon points="153.9,117.8 161.9,115.9 158.4,112.0 150.5,113.9" fill="#fe3535"/>
<polygon points="91.5,136.0 99.4,131.0 96.3,127.2 88.4,132.2" fill="#ff9c62"/>
<polygon points="235.3,136.2 242.9,137.7 239.1,133.0 231.4,131.5" fill="#f26000"/>
<polygon points="192.8,120.9 200.6,120.7 197.0,116.5 189.1,116.7" fill="#f81611"/>
<polygon points="304.4,182.7 311.6,186.5 307.4,180.7 300.2,177.0" fill="#77e900"/>
<polygon points="99.4,131.0 107.4,126.4 104.2,122.7 96.3,127.2" fill="#ff885d"/>
<polygon points="134.6,119.1 142.6,116.3 139.2,112.5 131.3,115.3" fill="#ff4343"/>
<polygon points="223.7,130.5 231.4,131.5 227.6,127.0 219.9,125.9" fill="#f34300"/>
<polygon points="315.8,192.4 322.9,196.5 318.7,190.6 311.6,186.5" fill="#41e800"/>
<polygon points="107.4,126.4 115.4,122.2 112.2,118.6 104.2,122.7" fill="#ff7557"/>
<polygon points="212.1,125.3 219.9,125.9 216.2,121.6 208.4,120.9" fill="#f42b00"/>
<polygon points="161.9,115.9 169.8,114.4 166.3,110.5 158.4,112.0" fill="#fd2b2b"/>
<polygon points="181.3,117.4 189.1,116.7 185.5,112.7 177.7,113.3" fill="#fa1919"/>
<polygon points="142.6,116.3 150.5,113.9 147.1,110.1 139.2,112.5" fill="#ff3b3b"/>
<polygon points="115.4,122.2 123.3,118.5 120.1,114.9 112.2,118.6" fill="#ff6350"/>
<polygon points="327.1,202.6 334.1,207.0 329.9,201.0 322.9,196.5" fill="#07e700"/>
<polygon points="265.9,151.7 273.4,154.4 269.4,149.3 262.0,146.7" fill="#edce00"/>
<polygon points="200.6,120.7 208.4,120.9 204.7,116.7 197.0,116.5" fill="#f61d06"/>
<polygon points="254.4,144.4 262.0,146.7 258.0,141.8 250.5,139.5" fill="#eea500"/>
<polygon points="277.4,159.6 284.8,162.6 280.8,157.4 273.4,154.4" fill="#ddeb00"/>
<polygon points="242.9,137.7 250.5,139.5 246.6,134.9 239.1,133.0" fill="#f08000"/>
<polygon points="64.8,149.9 72.6,143.5 69.7,139.9 61.8,146.1" fill="#ffe46b"/>
<polygon points="288.8,168.0 296.1,171.4 292.1,166.0 284.8,162.6" fill="#afea00"/>
<polygon points="72.6,143.5 80.5,137.7 77.5,134.0 69.7,139.9" fill="#ffcc68"/>
<polygon points="123.3,118.5 131.3,115.3 128.0,111.7 120.1,114.9" fill="#ff5249"/>
<polygon points="80.5,137.7 88.4,132.2 85.4,128.6 77.5,134.0" fill="#ffb564"/>
<polygon points="169.8,114.4 177.7,113.3 174.2,109.4 166.3,110.5" fill="#fb2121"/>
<polygon points="231.4,131.5 239.1,133.0 235.2,128.5 227.6,127.0" fill="#f15f00"/>
<polygon points="150.5,113.9 158.4,112.0 155.0,108.2 147.1,110.1" fill="#fe3232"/>
<polygon points="300.2,177.0 307.4,180.7 303.3,175.2 296.1,171.4" fill="#7ee900"/>
<polygon points="88.4,132.2 96.3,127.2 93.2,123.7 85.4,128.6" fill="#ffa05f"/>
<polygon points="189.1,116.7 197.0,116.5 193.3,112.5 185.5,112.7" fill="#f8170f"/>
<polygon points="219.9,125.9 227.6,127.0 223.8,122.6 216.2,121.6" fill="#f34300"/>
<polygon points="311.6,186.5 318.7,190.6 314.5,184.9 307.4,180.7" fill="#49e800"/>
<polygon points="96.3,127.2 104.2,122.7 101.1,119.1 93.2,123.7" fill="#ff8b5a"/>
<polygon points="131.3,115.3 139.2,112.5 135.9,108.9 128.0,111.7" fill="#ff4341"/>
<polygon points="104.2,122.7 112.2,118.6 109.0,115.0 101.1,119.1" fill="#ff7854"/>
<polygon points="208.4,120.9 216.2,121.6 212.4,117.4 204.7,116.7" fill="#f42d00"/>
<polygon points="158.4,112.0 166.3,110.5 162.9,106.7 155.0,108.2" fill="#fc2828"/>
<polygon points="322.9,196.5 329.9,201.0 325.7,195.1 318.7,190.6" fill="#10e700"/>
<polygon points="177.7,113.3 185.5,112.7 182.0,108.8 174.2,109.4" fill="#f91616"/>
<polygon points="139.2,112.5 147.1,110.1 143.8,106.5 135.9,108.9" fill="#ff3838"/>
<polygon points="262.0,146.7 269.4,149.3 265.4,144.5 258.0,141.8" fill="#eccb00"/>
<polygon points="112.2,118.6 120.1,114.9 116.9,111.4 109.0,115.0" fill="#ff664d"/>
<polygon points="273.4,154.4 280.8,157.4 276.8,152.4 269.4,149.3" fill="#e0eb00"/>
<polygon points="250.5,139.5 258.0,141.8 254.1,137.2 246.6,134.9" fill="#eea300"/>
<polygon points="197.0,116.5 204.7,116.7 201.1,112.7 193.3,112.5" fill="#f61e04"/>
<polygon points="284.8,162.6 292.1,166.0 288.0,160.9 280.8,157.4" fill="#b3ea00"/>
<polygon points="239.1,133.0 246.6,134.9 242.8,130.4 235.2,128.5" fill="#ef7f00"/>
<polygon points="296.1,171.4 303.3,175.2 299.2,169.9 292.1,166.0" fill="#83e900"/>
<polygon points="61.8,146.1 69.7,139.9 66.7,136.4 59.0,142.6" fill="#ffe969"/>
<polygon points="69.7,139.9 77.5,134.0 74.5,130.6 66.7,136.4" fill="#ffd165"/>
<polygon points="227.6,127.0 235.2,128.5 231.4,124.1 223.8,122.6" fill="#f16000"/>
<polygon points="120.1,114.9 128.0,111.7 124.8,108.2 116.9,111.4" fill="#ff5546"/>
<polygon points="166.3,110.5 174.2,109.4 170.7,105.7 162.9,106.7" fill="#fb1e1e"/>
<polygon points="77.5,134.0 85.4,128.6 82.4,125.2 74.5,130.6" fill="#ffba61"/>
<polygon points="147.1,110.1 155.0,108.2 151.6,104.7 143.8,106.5" fill="#fe2f2f"/>
<polygon points="307.4,180.7 314.5,184.9 310.4,179.4 303.3,175.2" fill="#4fe700"/>
<polygon points="185.5,112.7 193.3,112.5 189.8,108.6 182.0,108.8" fill="#f7190c"/>
<polygon points="85.4,128.6 93.2,123.7 90.2,120.3 82.4,125.2" fill="#ffa45c"/>
<polygon points="216.2,121.6 223.8,122.6 220.1,118.5 212.4,117.4" fill="#f24500"/>
<polygon points="93.2,123.7 101.1,119.1 98.0,115.8 90.2,120.3" fill="#ff9057"/>
<polygon points="128.0,111.7 135.9,108.9 132.6,105.4 124.8,108.2" fill="#ff463e"/>
<polygon points="318.7,190.6 325.7,195.1 321.5,189.4 314.5,184.9" fill="#17e600"/>
<polygon points="204.7,116.7 212.4,117.4 208.8,113.4 201.1,112.7" fill="#f43000"/>
<polygon points="101.1,119.1 109.0,115.0 105.9,111.7 98.0,115.8" fill="#ff7c51"/>
<polygon points="155.0,108.2 162.9,106.7 159.4,103.2 151.6,104.7" fill="#fc2525"/>
<polygon points="174.2,109.4 182.0,108.8 178.5,105.1 170.7,105.7" fill="#f91914"/>
<polygon points="258.0,141.8 265.4,144.5 261.5,139.9 254.1,137.2" fill="#ecc900"/>
<polygon points="269.4,149.3 276.8,152.4 272.8,147.6 265.4,144.5" fill="#e2eb00"/>
<polygon points="246.6,134.9 254.1,137.2 250.2,132.7 242.8,130.4" fill="#eda200"/>
<polygon points="135.9,108.9 143.8,106.5 140.5,103.1 132.6,105.4" fill="#fe3935"/>
<polygon points="280.8,157.4 288.0,160.9 284.0,155.9 276.8,152.4" fill="#b6e900"/>
<polygon points="109.0,115.0 116.9,111.4 113.7,108.1 105.9,111.7" fill="#ff6a4a"/>
<polygon points="193.3,112.5 201.1,112.7 197.5,108.9 189.8,108.6" fill="#f52001"/>
<polygon points="235.2,128.5 242.8,130.4 239.0,126.0 231.4,124.1" fill="#ef8000"/>
<polygon points="292.1,166.0 299.2,169.9 295.2,164.7 288.0,160.9" fill="#87e800"/>
<polygon points="223.8,122.6 231.4,124.1 227.7,120.0 220.1,118.5" fill="#f06200"/>
<polygon points="303.3,175.2 310.4,179.4 306.3,174.0 299.2,169.9" fill="#54e700"/>
<polygon points="59.0,142.6 66.7,136.4 63.9,133.0 56.1,139.2" fill="#ffef66"/>
<polygon points="66.7,136.4 74.5,130.6 71.6,127.3 63.9,133.0" fill="#ffd762"/>
<polygon points="162.9,106.7 170.7,105.7 167.2,102.2 159.4,103.2" fill="#fa1d1b"/>
<polygon points="116.9,111.4 124.8,108.2 121.6,104.9 113.7,108.1" fill="#ff5a43"/>
<polygon points="74.5,130.6 82.4,125.2 79.4,121.9 71.6,127.3" fill="#ffc05e"/>
<polygon points="143.8,106.5 151.6,104.7 148.3,101.3 140.5,103.1" fill="#fd2e2c"/>
<polygon points="182.0,108.8 189.8,108.6 186.2,105.0 178.5,105.1" fill="#f71c09"/>
<polygon points="212.4,117.4 220.1,118.5 216.4,114.5 208.8,113.4" fill="#f24900"/>
<polygon points="82.4,125.2 90.2,120.3 87.2,117.0 79.4,121.9" fill="#ffaa59"/>
<polygon points="314.5,184.9 321.5,189.4 317.4,183.9 310.4,179.4" fill="#1de600"/>
<polygon points="124.8,108.2 132.6,105.4 129.4,102.2 121.6,104.9" fill="#ff4b3b"/>
<polygon points="90.2,120.3 98.0,115.8 95.0,112.6 87.2,117.0" fill="#ff9554"/>
<polygon points="201.1,112.7 208.8,113.4 205.1,109.6 197.5,108.9" fill="#f33400"/>
<polygon points="265.4,144.5 272.8,147.6 268.8,142.9 261.5,139.9" fill="#e3ea00"/>
<polygon points="254.1,137.2 261.5,139.9 257.6,135.4 250.2,132.7" fill="#ecc900"/>
<polygon points="151.6,104.7 159.4,103.2 156.1,99.8 148.3,101.3" fill="#fc2722"/>
<polygon points="98.0,115.8 105.9,111.7 102.8,108.6 95.0,112.6" fill="#ff824e"/>
<polygon points="170.7,105.7 178.5,105.1 175.0,101.6 167.2,102.2" fill="#f81d11"/>
<polygon points="276.8,152.4 284.0,155.9 280.0,151.1 272.8,147.6" fill="#b8e900"/>
<polygon points="242.8,130.4 250.2,132.7 246.4,128.4 239.0,126.0" fill="#eda300"/>
<polygon points="288.0,160.9 295.2,164.7 291.2,159.7 284.0,155.9" fill="#8ae800"/>
<polygon points="132.6,105.4 140.5,103.1 137.2,99.9 129.4,102.2" fill="#fe3e32"/>
<polygon points="231.4,124.1 239.0,126.0 235.2,121.9 227.7,120.0" fill="#ee8200"/>
<polygon points="189.8,108.6 197.5,108.9 193.9,105.2 186.2,105.0" fill="#f52500"/>
<polygon points="105.9,111.7 113.7,108.1 110.6,105.0 102.8,108.6" fill="#ff7047"/>
<polygon points="299.2,169.9 306.3,174.0 302.3,168.9 295.2,164.7" fill="#58e700"/>
<polygon points="220.1,118.5 227.7,120.0 223.9,116.0 216.4,114.5" fill="#f06500"/>
<polygon points="159.4,103.2 167.2,102.2 163.8,98.8 156.1,99.8" fill="#fa2218"/>
<polygon points="56.1,139.2 63.9,133.0 61.0,129.9 53.3,136.0" fill="#fff663"/>
<polygon points="310.4,179.4 317.4,183.9 313.3,178.6 306.3,174.0" fill="#22e600"/>
<polygon points="113.7,108.1 121.6,104.9 118.4,101.8 110.6,105.0" fill="#ff5f40"/>
<polygon points="63.9,133.0 71.6,127.3 68.7,124.2 61.0,129.9" fill="#ffdd60"/>
<polygon points="140.5,103.1 148.3,101.3 145.0,98.1 137.2,99.9" fill="#fd3429"/>
<polygon points="208.8,113.4 216.4,114.5 212.7,110.7 205.1,109.6" fill="#f14d00"/>
<polygon points="178.5,105.1 186.2,105.0 182.7,101.5 175.0,101.6" fill="#f62006"/>
<polygon points="71.6,127.3 79.4,121.9 76.5,118.9 68.7,124.2" fill="#ffc65b"/>
<polygon points="79.4,121.9 87.2,117.0 84.2,114.0 76.5,118.9" fill="#ffb057"/>
<polygon points="121.6,104.9 129.4,102.2 126.2,99.1 118.4,101.8" fill="#ff5138"/>
<polygon points="87.2,117.0 95.0,112.6 92.0,109.6 84.2,114.0" fill="#ff9c51"/>
<polygon points="197.5,108.9 205.1,109.6 201.5,105.9 193.9,105.2" fill="#f33a00"/>
<polygon points="261.5,139.9 268.8,142.9 264.9,138.5 257.6,135.4" fill="#e3ea00"/>
<polygon points="250.2,132.7 257.6,135.4 253.8,131.1 246.4,128.4" fill="#ebc900"/>
<polygon points="272.8,147.6 280.0,151.1 276.1,146.4 268.8,142.9" fill="#b9e900"/>
<polygon points="239.0,126.0 246.4,128.4 242.6,124.2 235.2,121.9" fill="#eda500"/>
<polygon points="167.2,102.2 175.0,101.6 171.5,98.3 163.8,98.8" fill="#f8220e"/>
<polygon points="148.3,101.3 156.1,99.8 152.7,96.6 145.0,98.1" fill="#fb2c1f"/>
<polygon points="284.0,155.9 291.2,159.7 287.2,154.9 280.0,151.1" fill="#8ce700"/>
<polygon points="95.0,112.6 102.8,108.6 99.7,105.6 92.0,109.6" fill="#ff884b"/>
<polygon points="227.7,120.0 235.2,121.9 231.4,118.0 223.9,116.0" fill="#ee8500"/>
<polygon points="295.2,164.7 302.3,168.9 298.2,163.9 291.2,159.7" fill="#5be600"/>
<polygon points="186.2,105.0 193.9,105.2 190.4,101.8 182.7,101.5" fill="#f42c00"/>
<polygon points="129.4,102.2 137.2,99.9 134.0,96.8 126.2,99.1" fill="#fe442f"/>
<polygon points="102.8,108.6 110.6,105.0 107.5,102.0 99.7,105.6" fill="#ff7744"/>
<polygon points="216.4,114.5 223.9,116.0 220.3,112.2 212.7,110.7" fill="#ef6900"/>
<polygon points="306.3,174.0 313.3,178.6 309.2,173.5 302.3,168.9" fill="#26e500"/>
<polygon points="156.1,99.8 163.8,98.8 160.5,95.7 152.7,96.6" fill="#f92815"/>
<polygon points="53.3,136.0 61.0,129.9 58.2,126.9 50.6,133.0" fill="#fffe61"/>
<polygon points="205.1,109.6 212.7,110.7 209.1,107.1 201.5,105.9" fill="#f15300"/>
<polygon points="110.6,105.0 118.4,101.8 115.3,98.9 107.5,102.0" fill="#ff663d"/>
<polygon points="61.0,129.9 68.7,124.2 65.9,121.2 58.2,126.9" fill="#ffe65d"/>
<polygon points="175.0,101.6 182.7,101.5 179.2,98.2 171.5,98.3" fill="#f62604"/>
<polygon points="137.2,99.9 145.0,98.1 141.7,95.0 134.0,96.8" fill="#fc3a26"/>
<polygon points="68.7,124.2 76.5,118.9 73.6,116.0 65.9,121.2" fill="#ffce59"/>
<polygon points="76.5,118.9 84.2,114.0 81.3,111.1 73.6,116.0" fill="#ffb854"/>
<polygon points="257.6,135.4 264.9,138.5 261.1,134.2 253.8,131.1" fill="#e2ea00"/>
<polygon points="268.8,142.9 276.1,146.4 272.2,142.0 264.9,138.5" fill="#b9e800"/>
<polygon points="193.9,105.2 201.5,105.9 198.0,102.5 190.4,101.8" fill="#f24100"/>
<polygon points="246.4,128.4 253.8,131.1 250.0,127.0 242.6,124.2" fill="#ebcb00"/>
<polygon points="118.4,101.8 126.2,99.1 123.0,96.2 115.3,98.9" fill="#fe5835"/>
<polygon points="84.2,114.0 92.0,109.6 89.0,106.7 81.3,111.1" fill="#ffa44e"/>
<polygon points="280.0,151.1 287.2,154.9 283.2,150.3 276.1,146.4" fill="#8de700"/>
<polygon points="235.2,121.9 242.6,124.2 238.8,120.3 231.4,118.0" fill="#eca800"/>
<polygon points="163.8,98.8 171.5,98.3 168.1,95.1 160.5,95.7" fill="#f7280b"/>
<polygon points="145.0,98.1 152.7,96.6 149.4,93.6 141.7,95.0" fill="#fa331c"/>
<polygon points="291.2,159.7 298.2,163.9 294.2,159.1 287.2,154.9" fill="#5de600"/>
<polygon points="223.9,116.0 231.4,118.0 227.7,114.2 220.3,112.2" fill="#ed8900"/>
<polygon points="92.0,109.6 99.7,105.6 96.7,102.7 89.0,106.7" fill="#ff9048"/>
<polygon points="182.7,101.5 190.4,101.8 186.8,98.5 179.2,98.2" fill="#f43400"/>
<polygon points="126.2,99.1 134.0,96.8 130.8,94.0 123.0,96.2" fill="#fd4c2c"/>
<polygon points="302.3,168.9 309.2,173.5 305.2,168.5 298.2,163.9" fill="#2ae500"/>
<polygon points="212.7,110.7 220.3,112.2 216.6,108.6 209.1,107.1" fill="#ef6f00"/>
<polygon points="99.7,105.6 107.5,102.0 104.5,99.2 96.7,102.7" fill="#ff7f41"/>
<polygon points="152.7,96.6 160.5,95.7 157.1,92.7 149.4,93.6" fill="#f93013"/>
<polygon points="201.5,105.9 209.1,107.1 205.5,103.6 198.0,102.5" fill="#f05a00"/>
<polygon points="171.5,98.3 179.2,98.2 175.8,95.0 168.1,95.1" fill="#f52d01"/>
<polygon points="50.6,133.0 58.2,126.9 55.5,124.1 47.9,130.2" fill="#f8ff5e"/>
<polygon points="107.5,102.0 115.3,98.9 112.2,96.1 104.5,99.2" fill="#ff6f3a"/>
<polygon points="58.2,126.9 65.9,121.2 63.1,118.4 55.5,124.1" fill="#ffef5a"/>
<polygon points="134.0,96.8 141.7,95.0 138.5,92.2 130.8,94.0" fill="#fc4223"/>
<polygon points="65.9,121.2 73.6,116.0 70.7,113.2 63.1,118.4" fill="#ffd756"/>
<polygon points="253.8,131.1 261.1,134.2 257.2,130.1 250.0,127.0" fill="#dfe900"/>
<polygon points="264.9,138.5 272.2,142.0 268.3,137.7 261.1,134.2" fill="#b8e800"/>
<polygon points="242.6,124.2 250.0,127.0 246.2,123.0 238.8,120.3" fill="#eace00"/>
<polygon points="73.6,116.0 81.3,111.1 78.4,108.4 70.7,113.2" fill="#ffc151"/>
<polygon points="276.1,146.4 283.2,150.3 279.3,145.8 272.2,142.0" fill="#8de700"/>
<polygon points="190.4,101.8 198.0,102.5 194.4,99.2 186.8,98.5" fill="#f24900"/>
<polygon points="231.4,118.0 238.8,120.3 235.1,116.5 227.7,114.2" fill="#ecac00"/>
<polygon points="115.3,98.9 123.0,96.2 119.9,93.5 112.2,96.1" fill="#fe6032"/>
<polygon points="287.2,154.9 294.2,159.1 290.2,154.5 283.2,150.3" fill="#5ee600"/>
<polygon points="81.3,111.1 89.0,106.7 86.1,104.0 78.4,108.4" fill="#ffad4b"/>
<polygon points="160.5,95.7 168.1,95.1 164.8,92.2 157.1,92.7" fill="#f73008"/>
<polygon points="220.3,112.2 227.7,114.2 224.0,110.6 216.6,108.6" fill="#ed8f00"/>
<polygon points="141.7,95.0 149.4,93.6 146.2,90.8 138.5,92.2" fill="#fa3c19"/>
<polygon points="298.2,163.9 305.2,168.5 301.2,163.7 294.2,159.1" fill="#2ce500"/>
<polygon points="89.0,106.7 96.7,102.7 93.8,100.1 86.1,104.0" fill="#ff9945"/>
<polygon points="179.2,98.2 186.8,98.5 183.4,95.3 175.8,95.0" fill="#f33e00"/>
<polygon points="209.1,107.1 216.6,108.6 213.0,105.2 205.5,103.6" fill="#ee7600"/>
<polygon points="123.0,96.2 130.8,94.0 127.6,91.2 119.9,93.5" fill="#fd5429"/>
<polygon points="96.7,102.7 104.5,99.2 101.5,96.6 93.8,100.1" fill="#ff883e"/>
<polygon points="198.0,102.5 205.5,103.6 201.9,100.3 194.4,99.2" fill="#f06200"/>
<polygon points="149.4,93.6 157.1,92.7 153.8,89.8 146.2,90.8" fill="#f83910"/>
<polygon points="168.1,95.1 175.8,95.0 172.4,92.1 164.8,92.2" fill="#f43700"/>
<polygon points="104.5,99.2 112.2,96.1 109.2,93.5 101.5,96.6" fill="#ff7837"/>
<polygon points="47.9,130.2 55.5,124.1 52.7,121.5 45.2,127.5" fill="#efff5b"/>
<polygon points="130.8,94.0 138.5,92.2 135.3,89.5 127.6,91.2" fill="#fb4b20"/>
<polygon points="261.1,134.2 268.3,137.7 264.4,133.6 257.2,130.1" fill="#b6e800"/>
<polygon points="55.5,124.1 63.1,118.4 60.3,115.8 52.7,121.5" fill="#fff957"/>
<polygon points="250.0,127.0 257.2,130.1 253.4,126.2 246.2,123.0" fill="#dce900"/>
<polygon points="272.2,142.0 279.3,145.8 275.4,141.6 268.3,137.7" fill="#8ce600"/>
<polygon points="238.8,120.3 246.2,123.0 242.4,119.3 235.1,116.5" fill="#ead200"/>
<polygon points="63.1,118.4 70.7,113.2 67.9,110.6 60.3,115.8" fill="#ffe153"/>
<polygon points="283.2,150.3 290.2,154.5 286.3,150.1 279.3,145.8" fill="#5ee500"/>
<polygon points="186.8,98.5 194.4,99.2 190.9,96.1 183.4,95.3" fill="#f15300"/>
<polygon points="227.7,114.2 235.1,116.5 231.4,112.9 224.0,110.6" fill="#ebb100"/>
<polygon points="70.7,113.2 78.4,108.4 75.6,105.9 67.9,110.6" fill="#ffcb4e"/>
<polygon points="112.2,96.1 119.9,93.5 116.8,90.9 109.2,93.5" fill="#fe6a2f"/>
<polygon points="294.2,159.1 301.2,163.7 297.2,159.1 290.2,154.5" fill="#2de400"/>
<polygon points="78.4,108.4 86.1,104.0 83.2,101.5 75.6,105.9" fill="#ffb748"/>
<polygon points="216.6,108.6 224.0,110.6 220.4,107.1 213.0,105.2" fill="#ed9500"/>
<polygon points="157.1,92.7 164.8,92.2 161.4,89.3 153.8,89.8" fill="#f63a05"/>
<polygon points="138.5,92.2 146.2,90.8 142.9,88.1 135.3,89.5" fill="#f94516"/>
<polygon points="86.1,104.0 93.8,100.1 90.9,97.6 83.2,101.5" fill="#ffa442"/>
<polygon points="175.8,95.0 183.4,95.3 180.0,92.4 172.4,92.1" fill="#f34800"/>
<polygon points="205.5,103.6 213.0,105.2 209.4,101.9 201.9,100.3" fill="#ee7e00"/>
<polygon points="119.9,93.5 127.6,91.2 124.5,88.7 116.8,90.9" fill="#fc5f26"/>
<polygon points="93.8,100.1 101.5,96.6 98.5,94.1 90.9,97.6" fill="#ff933b"/>
<polygon points="194.4,99.2 201.9,100.3 198.4,97.2 190.9,96.1" fill="#ef6b00"/>
<polygon points="146.2,90.8 153.8,89.8 150.6,87.2 142.9,88.1" fill="#f7430d"/>
<polygon points="257.2,130.1 264.4,133.6 260.6,129.7 253.4,126.2" fill="#b2e700"/>
<polygon points="164.8,92.2 172.4,92.1 169.0,89.3 161.4,89.3" fill="#f44300"/>
<polygon points="246.2,123.0 253.4,126.2 249.6,122.4 242.4,119.3" fill="#d8e800"/>
<polygon points="268.3,137.7 275.4,141.6 271.5,137.5 264.4,133.6" fill="#8ae600"/>
<polygon points="235.1,116.5 242.4,119.3 238.7,115.7 231.4,112.9" fill="#ead800"/>
<polygon points="101.5,96.6 109.2,93.5 106.1,91.1 98.5,94.1" fill="#fe8334"/>
<polygon points="127.6,91.2 135.3,89.5 132.1,86.9 124.5,88.7" fill="#fb561d"/>
<polygon points="45.2,127.5 52.7,121.5 50.1,119.0 42.5,125.0" fill="#e4ff58"/>
<polygon points="279.3,145.8 286.3,150.1 282.4,145.8 275.4,141.6" fill="#5de500"/>
<polygon points="52.7,121.5 60.3,115.8 57.6,113.4 50.1,119.0" fill="#faff54"/>
<polygon points="60.3,115.8 67.9,110.6 65.2,108.2 57.6,113.4" fill="#ffed50"/>
<polygon points="224.0,110.6 231.4,112.9 227.7,109.5 220.4,107.1" fill="#ebb800"/>
<polygon points="183.4,95.3 190.9,96.1 187.5,93.1 180.0,92.4" fill="#f15d00"/>
<polygon points="290.2,154.5 297.2,159.1 293.2,154.7 286.3,150.1" fill="#2de400"/>
<polygon points="67.9,110.6 75.6,105.9 72.8,103.5 65.2,108.2" fill="#ffd74b"/>
<polygon points="213.0,105.2 220.4,107.1 216.8,103.9 209.4,101.9" fill="#ec9d00"/>
<polygon points="109.2,93.5 116.8,90.9 113.8,88.5 106.1,91.1" fill="#fd752b"/>
<polygon points="75.6,105.9 83.2,101.5 80.4,99.2 72.8,103.5" fill="#ffc245"/>
<polygon points="153.8,89.8 161.4,89.3 158.1,86.7 150.6,87.2" fill="#f54503"/>
<polygon points="135.3,89.5 142.9,88.1 139.7,85.6 132.1,86.9" fill="#f95113"/>
<polygon points="172.4,92.1 180.0,92.4 176.6,89.6 169.0,89.3" fill="#f25400"/>
<polygon points="201.9,100.3 209.4,101.9 205.8,98.8 198.4,97.2" fill="#ee8700"/>
<polygon points="83.2,101.5 90.9,97.6 88.0,95.3 80.4,99.2" fill="#ffb03f"/>
<polygon points="116.8,90.9 124.5,88.7 121.4,86.3 113.8,88.5" fill="#fc6a23"/>
<polygon points="90.9,97.6 98.5,94.1 95.6,91.9 88.0,95.3" fill="#ff9f38"/>
<polygon points="190.9,96.1 198.4,97.2 194.9,94.3 187.5,93.1" fill="#ef7600"/>
<polygon points="253.4,126.2 260.6,129.7 256.8,125.9 249.6,122.4" fill="#aee700"/>
<polygon points="264.4,133.6 271.5,137.5 267.7,133.6 260.6,129.7" fill="#86e600"/>
<polygon points="242.4,119.3 249.6,122.4 245.9,118.8 238.7,115.7" fill="#d2e800"/>
<polygon points="142.9,88.1 150.6,87.2 147.3,84.7 139.7,85.6" fill="#f74f0a"/>
<polygon points="275.4,141.6 282.4,145.8 278.5,141.7 271.5,137.5" fill="#5be500"/>
<polygon points="161.4,89.3 169.0,89.3 165.7,86.6 158.1,86.7" fill="#f35000"/>
<polygon points="231.4,112.9 238.7,115.7 235.0,112.2 227.7,109.5" fill="#e9de00"/>
<polygon points="124.5,88.7 132.1,86.9 129.0,84.6 121.4,86.3" fill="#fa621a"/>
<polygon points="98.5,94.1 106.1,91.1 103.2,88.8 95.6,91.9" fill="#fe8f30"/>
<polygon points="286.3,150.1 293.2,154.7 289.3,150.4 282.4,145.8" fill="#2ce400"/>
<polygon points="42.5,125.0 50.1,119.0 47.4,116.7 40.0,122.6" fill="#d9ff55"/>
<polygon points="220.4,107.1 227.7,109.5 224.1,106.2 216.8,103.9" fill="#eac000"/>
<polygon points="50.1,119.0 57.6,113.4 54.9,111.1 47.4,116.7" fill="#efff51"/>
<polygon points="180.0,92.4 187.5,93.1 184.0,90.4 176.6,89.6" fill="#f06900"/>
<polygon points="57.6,113.4 65.2,108.2 62.5,106.0 54.9,111.1" fill="#fffa4d"/>
<polygon points="209.4,101.9 216.8,103.9 213.2,100.8 205.8,98.8" fill="#eca600"/>
<polygon points="65.2,108.2 72.8,103.5 70.0,101.3 62.5,106.0" fill="#ffe448"/>
<polygon points="106.1,91.1 113.8,88.5 110.8,86.3 103.2,88.8" fill="#fd8228"/>
<polygon points="150.6,87.2 158.1,86.7 154.9,84.2 147.3,84.7" fill="#f55100"/>
<polygon points="72.8,103.5 80.4,99.2 77.6,97.0 70.0,101.3" fill="#ffd042"/>
<polygon points="132.1,86.9 139.7,85.6 136.6,83.2 129.0,84.6" fill="#f85d10"/>
<polygon points="198.4,97.2 205.8,98.8 202.3,95.9 194.9,94.3" fill="#ed9200"/>
<polygon points="169.0,89.3 176.6,89.6 173.2,87.0 165.7,86.6" fill="#f26100"/>
<polygon points="80.4,99.2 88.0,95.3 85.1,93.2 77.6,97.0" fill="#ffbd3c"/>
<polygon points="113.8,88.5 121.4,86.3 118.4,84.1 110.8,86.3" fill="#fb7720"/>
<polygon points="249.6,122.4 256.8,125.9 253.0,122.3 245.9,118.8" fill="#a9e600"/>
<polygon points="260.6,129.7 267.7,133.6 263.8,129.8 256.8,125.9" fill="#82e500"/>
<polygon points="187.5,93.1 194.9,94.3 191.5,91.5 184.0,90.4" fill="#ee8100"/>
<polygon points="238.7,115.7 245.9,118.8 242.2,115.4 235.0,112.2" fill="#cce800"/>
<polygon points="88.0,95.3 95.6,91.9 92.7,89.7 85.1,93.2" fill="#feac35"/>
<polygon points="271.5,137.5 278.5,141.7 274.6,137.8 267.7,133.6" fill="#58e400"/>
<polygon points="227.7,109.5 235.0,112.2 231.4,109.0 224.1,106.2" fill="#e9e600"/>
<polygon points="139.7,85.6 147.3,84.7 144.2,82.4 136.6,83.2" fill="#f65c07"/>
<polygon points="282.4,145.8 289.3,150.4 285.4,146.4 278.5,141.7" fill="#2ae300"/>
<polygon points="158.1,86.7 165.7,86.6 162.4,84.1 154.9,84.2" fill="#f35f00"/>
<polygon points="216.8,103.9 224.1,106.2 220.5,103.1 213.2,100.8" fill="#eac900"/>
<polygon points="121.4,86.3 129.0,84.6 125.9,82.4 118.4,84.1" fill="#f97017"/>
<polygon points="95.6,91.9 103.2,88.8 100.3,86.7 92.7,89.7" fill="#fd9d2d"/>
<polygon points="176.6,89.6 184.0,90.4 180.7,87.7 173.2,87.0" fill="#f07600"/>
<polygon points="205.8,98.8 213.2,100.8 209.7,97.8 202.3,95.9" fill="#ebb100"/>
<polygon points="103.2,88.8 110.8,86.3 107.8,84.2 100.3,86.7" fill="#fc9025"/>
<polygon points="147.3,84.7 154.9,84.2 151.7,81.9 144.2,82.4" fill="#f46100"/>
<polygon points="194.9,94.3 202.3,95.9 198.9,93.1 191.5,91.5" fill="#ed9d00"/>
<polygon points="129.0,84.6 136.6,83.2 133.5,81.1 125.9,82.4" fill="#f86b0d"/>
<polygon points="165.7,86.6 173.2,87.0 169.9,84.5 162.4,84.1" fill="#f17000"/>
<polygon points="256.8,125.9 263.8,129.8 260.1,126.2 253.0,122.3" fill="#7de500"/>
<polygon points="245.9,118.8 253.0,122.3 249.3,118.9 242.2,115.4" fill="#a3e600"/>
<polygon points="110.8,86.3 118.4,84.1 115.4,82.0 107.8,84.2" fill="#fb861d"/>
<polygon points="267.7,133.6 274.6,137.8 270.8,134.1 263.8,129.8" fill="#54e400"/>
<polygon points="235.0,112.2 242.2,115.4 238.5,112.1 231.4,109.0" fill="#c5e700"/>
<polygon points="184.0,90.4 191.5,91.5 188.1,88.9 180.7,87.7" fill="#ee8e00"/>
<polygon points="278.5,141.7 285.4,146.4 281.5,142.4 274.6,137.8" fill="#27e300"/>
<polygon points="224.1,106.2 231.4,109.0 227.7,105.9 220.5,103.1" fill="#e3e800"/>
<polygon points="136.6,83.2 144.2,82.4 141.0,80.2 133.5,81.1" fill="#f66b04"/>
<polygon points="154.9,84.2 162.4,84.1 159.2,81.8 151.7,81.9" fill="#f26e00"/>
<polygon points="213.2,100.8 220.5,103.1 217.0,100.2 209.7,97.8" fill="#ead300"/>
<polygon points="118.4,84.1 125.9,82.4 122.9,80.3 115.4,82.0" fill="#f97f14"/>
<polygon points="173.2,87.0 180.7,87.7 177.3,85.3 169.9,84.5" fill="#ef8400"/>
<polygon points="202.3,95.9 209.7,97.8 206.2,95.1 198.9,93.1" fill="#ebbc00"/>
<polygon points="144.2,82.4 151.7,81.9 148.5,79.7 141.0,80.2" fill="#f47200"/>
<polygon points="191.5,91.5 198.9,93.1 195.4,90.5 188.1,88.9" fill="#ecaa00"/>
<polygon points="125.9,82.4 133.5,81.1 130.4,79.0 122.9,80.3" fill="#f77b0a"/>
<polygon points="162.4,84.1 169.9,84.5 166.6,82.2 159.2,81.8" fill="#f17f00"/>
<polygon points="253.0,122.3 260.1,126.2 256.3,122.8 249.3,118.9" fill="#77e400"/>
<polygon points="242.2,115.4 249.3,118.9 245.6,115.7 238.5,112.1" fill="#9be600"/>
<polygon points="263.8,129.8 270.8,134.1 267.0,130.5 260.1,126.2" fill="#4fe300"/>
<polygon points="231.4,109.0 238.5,112.1 234.9,109.1 227.7,105.9" fill="#bce700"/>
<polygon points="274.6,137.8 281.5,142.4 277.7,138.7 270.8,134.1" fill="#23e200"/>
<polygon points="180.7,87.7 188.1,88.9 184.7,86.5 177.3,85.3" fill="#ed9c00"/>
<polygon points="220.5,103.1 227.7,105.9 224.2,103.0 217.0,100.2" fill="#d9e800"/>
<polygon points="151.7,81.9 159.2,81.8 156.0,79.7 148.5,79.7" fill="#f27f00"/>
<polygon points="209.7,97.8 217.0,100.2 213.4,97.5 206.2,95.1" fill="#e9df00"/>
<polygon points="133.5,81.1 141.0,80.2 137.9,78.2 130.4,79.0" fill="#f57b01"/>
<polygon points="169.9,84.5 177.3,85.3 174.0,83.0 166.6,82.2" fill="#ef9400"/>
<polygon points="198.9,93.1 206.2,95.1 202.7,92.5 195.4,90.5" fill="#eac900"/>
<polygon points="188.1,88.9 195.4,90.5 192.0,88.1 184.7,86.5" fill="#ecb800"/>
<polygon points="141.0,80.2 148.5,79.7 145.4,77.7 137.9,78.2" fill="#f38400"/>
<polygon points="249.3,118.9 256.3,122.8 252.6,119.6 245.6,115.7" fill="#70e400"/>
<polygon points="159.2,81.8 166.6,82.2 163.4,80.1 156.0,79.7" fill="#f09000"/>
<polygon points="260.1,126.2 267.0,130.5 263.3,127.1 256.3,122.8" fill="#49e300"/>
<polygon points="238.5,112.1 245.6,115.7 242.0,112.6 234.9,109.1" fill="#93e500"/>
<polygon points="270.8,134.1 277.7,138.7 273.9,135.1 267.0,130.5" fill="#1ee200"/>
<polygon points="227.7,105.9 234.9,109.1 231.3,106.1 224.2,103.0" fill="#b3e600"/>
<polygon points="217.0,100.2 224.2,103.0 220.6,100.2 213.4,97.5" fill="#cfe700"/>
<polygon points="177.3,85.3 184.7,86.5 181.4,84.2 174.0,83.0" fill="#edac00"/>
<polygon points="206.2,95.1 213.4,97.5 209.9,94.9 202.7,92.5" fill="#e6e900"/>
<polygon points="148.5,79.7 156.0,79.7 152.8,77.7 145.4,77.7" fill="#f19100"/>
<polygon points="166.6,82.2 174.0,83.0 170.7,80.9 163.4,80.1" fill="#eea400"/>
<polygon points="195.4,90.5 202.7,92.5 199.3,90.0 192.0,88.1" fill="#ead700"/>
<polygon points="184.7,86.5 192.0,88.1 188.7,85.8 181.4,84.2" fill="#ebc700"/>
<polygon points="245.6,115.7 252.6,119.6 248.9,116.5 242.0,112.6" fill="#68e400"/>
<polygon points="256.3,122.8 263.3,127.1 259.5,123.8 252.6,119.6" fill="#41e300"/>
<polygon points="234.9,109.1 242.0,112.6 238.3,109.7 231.3,106.1" fill="#8ae500"/>
<polygon points="267.0,130.5 273.9,135.1 270.1,131.7 263.3,127.1" fill="#18e200"/>
<polygon points="156.0,79.7 163.4,80.1 160.2,78.1 152.8,77.7" fill="#f0a200"/>
<polygon points="224.2,103.0 231.3,106.1 227.7,103.4 220.6,100.2" fill="#a8e600"/>
<polygon points="213.4,97.5 220.6,100.2 217.1,97.6 209.9,94.9" fill="#c3e700"/>
<polygon points="174.0,83.0 181.4,84.2 178.1,82.1 170.7,80.9" fill="#ecbc00"/>
<polygon points="202.7,92.5 209.9,94.9 206.5,92.4 199.3,90.0" fill="#dae800"/>
<polygon points="163.4,80.1 170.7,80.9 167.5,78.9 160.2,78.1" fill="#eeb600"/>
<polygon points="192.0,88.1 199.3,90.0 195.9,87.8 188.7,85.8" fill="#eae600"/>
<polygon points="252.6,119.6 259.5,123.8 255.9,120.7 248.9,116.5" fill="#39e200"/>
<polygon points="242.0,112.6 248.9,116.5 245.3,113.6 238.3,109.7" fill="#5ee300"/>
<polygon points="181.4,84.2 188.7,85.8 185.3,83.7 178.1,82.1" fill="#ebd700"/>
<polygon points="263.3,127.1 270.1,131.7 266.4,128.4 259.5,123.8" fill="#11e100"/>
<polygon points="231.3,106.1 238.3,109.7 234.8,106.9 227.7,103.4" fill="#80e400"/>
<polygon points="220.6,100.2 227.7,103.4 224.2,100.8 217.1,97.6" fill="#9de600"/>
<polygon points="209.9,94.9 217.1,97.6 213.6,95.2 206.5,92.4" fill="#b7e700"/>
<polygon points="170.7,80.9 178.1,82.1 174.8,80.1 167.5,78.9" fill="#ecce00"/>
<polygon points="199.3,90.0 206.5,92.4 203.1,90.2 195.9,87.8" fill="#cce800"/>
<polygon points="188.7,85.8 195.9,87.8 192.5,85.6 185.3,83.7" fill="#dee900"/>
<polygon points="248.9,116.5 255.9,120.7 252.2,117.8 245.3,113.6" fill="#30e200"/>
<polygon points="238.3,109.7 245.3,113.6 241.7,110.8 234.8,106.9" fill="#54e300"/>
<polygon points="259.5,123.8 266.4,128.4 262.7,125.4 255.9,120.7" fill="#09e100"/>
<polygon points="227.7,103.4 234.8,106.9 231.2,104.3 224.2,100.8" fill="#74e400"/>
<polygon points="178.1,82.1 185.3,83.7 182.0,81.7 174.8,80.1" fill="#eae900"/>
<polygon points="217.1,97.6 224.2,100.8 220.7,98.3 213.6,95.2" fill="#91e500"/>
<polygon points="206.5,92.4 213.6,95.2 210.2,92.9 203.1,90.2" fill="#a9e600"/>
<polygon points="195.9,87.8 203.1,90.2 199.7,88.0 192.5,85.6" fill="#bee700"/>
<polygon points="185.3,83.7 192.5,85.6 189.2,83.7 182.0,81.7" fill="#cee900"/>
<polygon points="245.3,113.6 252.2,117.8 248.6,115.1 241.7,110.8" fill="#26e200"/>
<polygon points="255.9,120.7 262.7,125.4 259.0,122.4 252.2,117.8" fill="#00e101"/>
<polygon points="234.8,106.9 241.7,110.8 238.1,108.2 231.2,104.3" fill="#49e300"/>
<polygon points="224.2,100.8 231.2,104.3 227.7,101.9 220.7,98.3" fill="#68e400"/>
<polygon points="213.6,95.2 220.7,98.3 217.2,96.1 210.2,92.9" fill="#83e500"/>
<polygon points="203.1,90.2 210.2,92.9 206.8,90.8 199.7,88.0" fill="#9be600"/>
<polygon points="192.5,85.6 199.7,88.0 196.4,86.1 189.2,83.7" fill="#aee700"/>
<polygon points="241.7,110.8 248.6,115.1 245.0,112.4 238.1,108.2" fill="#1be100"/>
<polygon points="252.2,117.8 259.0,122.4 255.4,119.7 248.6,115.1" fill="#00e011"/>
<polygon points="231.2,104.3 238.1,108.2 234.6,105.7 227.7,101.9" fill="#3de200"/>
<polygon points="220.7,98.3 227.7,101.9 224.2,99.6 217.2,96.1" fill="#5be300"/>
<polygon points="210.2,92.9 217.2,96.1 213.8,93.9 206.8,90.8" fill="#75e400"/>
<polygon points="199.7,88.0 206.8,90.8 203.4,88.8 196.4,86.1" fill="#8be500"/>
<polygon points="238.1,108.2 245.0,112.4 241.4,110.0 234.6,105.7" fill="#0fe100"/>
<polygon points="248.6,115.1 255.4,119.7 251.7,117.0 245.0,112.4" fill="#00e023"/>
<polygon points="227.7,101.9 234.6,105.7 231.1,103.5 224.2,99.6" fill="#30e200"/>
<polygon points="217.2,96.1 224.2,99.6 220.7,97.4 213.8,93.9" fill="#4de300"/>
<polygon points="206.8,90.8 213.8,93.9 210.4,92.0 203.4,88.8" fill="#66e400"/>
<polygon points="245.0,112.4 251.7,117.0 248.2,114.6 241.4,110.0" fill="#00e037"/>
<polygon points="234.6,105.7 241.4,110.0 237.9,107.7 231.1,103.5" fill="#02e100"/>
<polygon points="224.2,99.6 231.1,103.5 227.6,101.3 220.7,97.4" fill="#22e200"/>
<polygon points="213.8,93.9 220.7,97.4 217.3,95.5 210.4,92.0" fill="#3ee300"/>
<polygon points="241.4,110.0 248.2,114.6 244.6,112.3 237.9,107.7" fill="#00e04d"/>
<polygon points="231.1,103.5 237.9,107.7 234.4,105.5 227.6,101.3" fill="#00e014"/>
<polygon points="220.7,97.4 227.6,101.3 224.2,99.3 217.3,95.5" fill="#13e100"/>
<polygon points="237.9,107.7 244.6,112.3 241.1,110.1 234.4,105.5" fill="#00e064"/>
<polygon points="227.6,101.3 234.4,105.5 231.0,103.5 224.2,99.3" fill="#00e02c"/>
<polygon points="234.4,105.5 241.1,110.1 237.7,108.1 231.0,103.5" fill="#00e07d"/>
<path d="M124.2 249.4L120.5 242.1 M120.5 242.1L116.9 235.1 M116.9 235.1L113.4 228.3 M113.4 228.3L109.9 221.7 M109.9 221.7L106.4 215.3 M106.4 215.3L102.9 209.1 M102.9 209.1L99.5 203.1 M99.5 203.1L96.2 197.3 M96.2 197.3L92.8 191.6 M92.8 191.6L89.6 186.2 M89.6 186.2L86.3 181.0 M86.3 181.0L83.1 176.0 M83.1 176.0L80.0 171.2 M80.0 171.2L76.8 166.5 M76.8 166.5L73.8 162.1 M73.8 162.1L70.7 157.8 M70.7 157.8L67.7 153.8 M67.7 153.8L64.8 149.9 M64.8 149.9L61.8 146.1 M61.8 146.1L59.0 142.6 M59.0 142.6L56.1 139.2 M56.1 139.2L53.3 136.0 M53.3 136.0L50.6 133.0 M50.6 133.0L47.9 130.2 M47.9 130.2L45.2 127.5 M45.2 127.5L42.5 125.0 M42.5 125.0L40.0 122.6 M132.8 242.4L129.1 235.2 M129.1 235.2L125.5 228.2 M125.5 228.2L121.9 221.4 M121.9 221.4L118.3 214.8 M118.3 214.8L114.8 208.5 M114.8 208.5L111.3 202.3 M111.3 202.3L107.9 196.3 M107.9 196.3L104.4 190.6 M104.4 190.6L101.1 185.0 M101.1 185.0L97.8 179.6 M97.8 179.6L94.5 174.5 M94.5 174.5L91.2 169.5 M91.2 169.5L88.0 164.7 M88.0 164.7L84.9 160.1 M84.9 160.1L81.7 155.7 M81.7 155.7L78.7 151.4 M78.7 151.4L75.6 147.4 M75.6 147.4L72.6 143.5 M72.6 143.5L69.7 139.9 M69.7 139.9L66.7 136.4 M66.7 136.4L63.9 133.0 M63.9 133.0L61.0 129.9 M61.0 129.9L58.2 126.9 M58.2 126.9L55.5 124.1 M55.5 124.1L52.7 121.5 M52.7 121.5L50.1 119.0 M50.1 119.0L47.4 116.7 M141.4 235.9L137.7 228.7 M137.7 228.7L134.0 221.7 M134.0 221.7L130.4 215.0 M130.4 215.0L126.8 208.5 M126.8 208.5L123.2 202.1 M123.2 202.1L119.7 196.0 M119.7 196.0L116.2 190.1 M116.2 190.1L112.7 184.3 M112.7 184.3L109.3 178.8 M109.3 178.8L106.0 173.5 M106.0 173.5L102.6 168.3 M102.6 168.3L99.4 163.4 M99.4 163.4L96.1 158.6 M96.1 158.6L92.9 154.1 M92.9 154.1L89.7 149.7 M89.7 149.7L86.6 145.5 M86.6 145.5L83.5 141.5 M83.5 141.5L80.5 137.7 M80.5 137.7L77.5 134.0 M77.5 134.0L74.5 130.6 M74.5 130.6L71.6 127.3 M71.6 127.3L68.7 124.2 M68.7 124.2L65.9 121.2 M65.9 121.2L63.1 118.4 M63.1 118.4L60.3 115.8 M60.3 115.8L57.6 113.4 M57.6 113.4L54.9 111.1 M150.0 229.8L146.2 222.7 M146.2 222.7L142.5 215.7 M142.5 215.7L138.9 209.0 M138.9 209.0L135.2 202.5 M135.2 202.5L131.6 196.2 M131.6 196.2L128.1 190.1 M128.1 190.1L124.5 184.2 M124.5 184.2L121.0 178.5 M121.0 178.5L117.6 173.0 M117.6 173.0L114.2 167.7 M114.2 167.7L110.8 162.6 M110.8 162.6L107.5 157.7 M107.5 157.7L104.2 153.0 M104.2 153.0L101.0 148.5 M101.0 148.5L97.8 144.1 M97.8 144.1L94.6 140.0 M94.6 140.0L91.5 136.0 M91.5 136.0L88.4 132.2 M88.4 132.2L85.4 128.6 M85.4 128.6L82.4 125.2 M82.4 125.2L79.4 121.9 M79.4 121.9L76.5 118.9 M76.5 118.9L73.6 116.0 M73.6 116.0L70.7 113.2 M70.7 113.2L67.9 110.6 M67.9 110.6L65.2 108.2 M65.2 108.2L62.5 106.0 M158.6 224.2L154.8 217.1 M154.8 217.1L151.1 210.2 M151.1 210.2L147.3 203.5 M147.3 203.5L143.7 197.0 M143.7 197.0L140.0 190.8 M140.0 190.8L136.4 184.7 M136.4 184.7L132.9 178.8 M132.9 178.8L129.4 173.2 M129.4 173.2L125.9 167.7 M125.9 167.7L122.4 162.5 M122.4 162.5L119.0 157.4 M119.0 157.4L115.7 152.5 M115.7 152.5L112.3 147.8 M112.3 147.8L109.1 143.3 M109.1 143.3L105.8 139.0 M105.8 139.0L102.6 134.9 M102.6 134.9L99.4 131.0 M99.4 131.0L96.3 127.2 M96.3 127.2L93.2 123.7 M93.2 123.7L90.2 120.3 M90.2 120.3L87.2 117.0 M87.2 117.0L84.2 114.0 M84.2 114.0L81.3 111.1 M81.3 111.1L78.4 108.4 M78.4 108.4L75.6 105.9 M75.6 105.9L72.8 103.5 M72.8 103.5L70.0 101.3 M167.2 219.0L163.4 211.9 M163.4 211.9L159.6 205.1 M159.6 205.1L155.8 198.4 M155.8 198.4L152.1 192.0 M152.1 192.0L148.5 185.8 M148.5 185.8L144.8 179.7 M144.8 179.7L141.2 173.9 M141.2 173.9L137.7 168.3 M137.7 168.3L134.1 162.9 M134.1 162.9L130.7 157.6 M130.7 157.6L127.2 152.6 M127.2 152.6L123.8 147.8 M123.8 147.8L120.5 143.1 M120.5 143.1L117.1 138.7 M117.1 138.7L113.8 134.4 M113.8 134.4L110.6 130.3 M110.6 130.3L107.4 126.4 M107.4 126.4L104.2 122.7 M104.2 122.7L101.1 119.1 M101.1 119.1L98.0 115.8 M98.0 115.8L95.0 112.6 M95.0 112.6L92.0 109.6 M92.0 109.6L89.0 106.7 M89.0 106.7L86.1 104.0 M86.1 104.0L83.2 101.5 M83.2 101.5L80.4 99.2 M80.4 99.2L77.6 97.0 M175.8 214.3L171.9 207.3 M171.9 207.3L168.1 200.5 M168.1 200.5L164.3 193.8 M164.3 193.8L160.6 187.4 M160.6 187.4L156.9 181.2 M156.9 181.2L153.2 175.3 M153.2 175.3L149.6 169.5 M149.6 169.5L146.0 163.9 M146.0 163.9L142.4 158.5 M142.4 158.5L138.9 153.3 M138.9 153.3L135.4 148.3 M135.4 148.3L132.0 143.5 M132.0 143.5L128.6 138.8 M128.6 138.8L125.2 134.4 M125.2 134.4L121.9 130.2 M121.9 130.2L118.6 126.1 M118.6 126.1L115.4 122.2 M115.4 122.2L112.2 118.6 M112.2 118.6L109.0 115.0 M109.0 115.0L105.9 111.7 M105.9 111.7L102.8 108.6 M102.8 108.6L99.7 105.6 M99.7 105.6L96.7 102.7 M96.7 102.7L93.8 100.1 M93.8 100.1L90.9 97.6 M90.9 97.6L88.0 95.3 M88.0 95.3L85.1 93.2 M184.4 210.1L180.5 203.1 M180.5 203.1L176.6 196.3 M176.6 196.3L172.8 189.7 M172.8 189.7L169.0 183.3 M169.0 183.3L165.3 177.2 M165.3 177.2L161.6 171.2 M161.6 171.2L157.9 165.5 M157.9 165.5L154.3 159.9 M154.3 159.9L150.7 154.5 M150.7 154.5L147.1 149.4 M147.1 149.4L143.6 144.4 M143.6 144.4L140.1 139.6 M140.1 139.6L136.7 135.0 M136.7 135.0L133.3 130.6 M133.3 130.6L129.9 126.4 M129.9 126.4L126.6 122.4 M126.6 122.4L123.3 118.5 M123.3 118.5L120.1 114.9 M120.1 114.9L116.9 111.4 M116.9 111.4L113.7 108.1 M113.7 108.1L110.6 105.0 M110.6 105.0L107.5 102.0 M107.5 102.0L104.5 99.2 M104.5 99.2L101.5 96.6 M101.5 96.6L98.5 94.1 M98.5 94.1L95.6 91.9 M95.6 91.9L92.7 89.7 M192.9 206.3L189.0 199.3 M189.0 199.3L185.1 192.6 M185.1 192.6L181.2 186.0 M181.2 186.0L177.4 179.7 M177.4 179.7L173.6 173.6 M173.6 173.6L169.9 167.6 M169.9 167.6L166.2 161.9 M166.2 161.9L162.5 156.4 M162.5 156.4L158.9 151.0 M158.9 151.0L155.3 145.9 M155.3 145.9L151.8 141.0 M151.8 141.0L148.3 136.2 M148.3 136.2L144.8 131.7 M144.8 131.7L141.3 127.3 M141.3 127.3L137.9 123.1 M137.9 123.1L134.6 119.1 M134.6 119.1L131.3 115.3 M131.3 115.3L128.0 111.7 M128.0 111.7L124.8 108.2 M124.8 108.2L121.6 104.9 M121.6 104.9L118.4 101.8 M118.4 101.8L115.3 98.9 M115.3 98.9L112.2 96.1 M112.2 96.1L109.2 93.5 M109.2 93.5L106.1 91.1 M106.1 91.1L103.2 88.8 M103.2 88.8L100.3 86.7 M201.4 203.0L197.4 196.1 M197.4 196.1L193.5 189.3 M193.5 189.3L189.6 182.8 M189.6 182.8L185.8 176.5 M185.8 176.5L182.0 170.4 M182.0 170.4L178.2 164.5 M178.2 164.5L174.5 158.8 M174.5 158.8L170.8 153.3 M170.8 153.3L167.1 148.0 M167.1 148.0L163.5 142.9 M163.5 142.9L159.9 138.0 M159.9 138.0L156.4 133.3 M156.4 133.3L152.9 128.7 M152.9 128.7L149.4 124.4 M149.4 124.4L146.0 120.2 M146.0 120.2L142.6 116.3 M142.6 116.3L139.2 112.5 M139.2 112.5L135.9 108.9 M135.9 108.9L132.6 105.4 M132.6 105.4L129.4 102.2 M129.4 102.2L126.2 99.1 M126.2 99.1L123.0 96.2 M123.0 96.2L119.9 93.5 M119.9 93.5L116.8 90.9 M116.8 90.9L113.8 88.5 M113.8 88.5L110.8 86.3 M110.8 86.3L107.8 84.2 M209.9 200.2L205.9 193.3 M205.9 193.3L201.9 186.6 M201.9 186.6L198.0 180.1 M198.0 180.1L194.1 173.8 M194.1 173.8L190.3 167.7 M190.3 167.7L186.5 161.9 M186.5 161.9L182.7 156.2 M182.7 156.2L179.0 150.7 M179.0 150.7L175.3 145.4 M175.3 145.4L171.7 140.4 M171.7 140.4L168.0 135.5 M168.0 135.5L164.5 130.8 M164.5 130.8L160.9 126.3 M160.9 126.3L157.4 122.0 M157.4 122.0L153.9 117.8 M153.9 117.8L150.5 113.9 M150.5 113.9L147.1 110.1 M147.1 110.1L143.8 106.5 M143.8 106.5L140.5 103.1 M140.5 103.1L137.2 99.9 M137.2 99.9L134.0 96.8 M134.0 96.8L130.8 94.0 M130.8 94.0L127.6 91.2 M127.6 91.2L124.5 88.7 M124.5 88.7L121.4 86.3 M121.4 86.3L118.4 84.1 M118.4 84.1L115.4 82.0 M218.3 197.8L214.3 190.9 M214.3 190.9L210.3 184.3 M210.3 184.3L206.4 177.8 M206.4 177.8L202.5 171.6 M202.5 171.6L198.6 165.5 M198.6 165.5L194.8 159.7 M194.8 159.7L191.0 154.0 M191.0 154.0L187.2 148.6 M187.2 148.6L183.5 143.3 M183.5 143.3L179.8 138.3 M179.8 138.3L176.1 133.4 M176.1 133.4L172.5 128.8 M172.5 128.8L168.9 124.3 M168.9 124.3L165.4 120.0 M165.4 120.0L161.9 115.9 M161.9 115.9L158.4 112.0 M158.4 112.0L155.0 108.2 M155.0 108.2L151.6 104.7 M151.6 104.7L148.3 101.3 M148.3 101.3L145.0 98.1 M145.0 98.1L141.7 95.0 M141.7 95.0L138.5 92.2 M138.5 92.2L135.3 89.5 M135.3 89.5L132.1 86.9 M132.1 86.9L129.0 84.6 M129.0 84.6L125.9 82.4 M125.9 82.4L122.9 80.3 M226.7 195.9L222.6 189.0 M222.6 189.0L218.6 182.4 M218.6 182.4L214.6 176.0 M214.6 176.0L210.7 169.8 M210.7 169.8L206.8 163.8 M206.8 163.8L203.0 157.9 M203.0 157.9L199.1 152.3 M199.1 152.3L195.3 146.9 M195.3 146.9L191.6 141.7 M191.6 141.7L187.9 136.7 M187.9 136.7L184.2 131.8 M184.2 131.8L180.5 127.2 M180.5 127.2L176.9 122.7 M176.9 122.7L173.4 118.4 M173.4 118.4L169.8 114.4 M169.8 114.4L166.3 110.5 M166.3 110.5L162.9 106.7 M162.9 106.7L159.4 103.2 M159.4 103.2L156.1 99.8 M156.1 99.8L152.7 96.6 M152.7 96.6L149.4 93.6 M149.4 93.6L146.2 90.8 M146.2 90.8L142.9 88.1 M142.9 88.1L139.7 85.6 M139.7 85.6L136.6 83.2 M136.6 83.2L133.5 81.1 M133.5 81.1L130.4 79.0 M235.0 194.4L230.9 187.6 M230.9 187.6L226.9 181.0 M226.9 181.0L222.9 174.6 M222.9 174.6L218.9 168.4 M218.9 168.4L215.0 162.4 M215.0 162.4L211.1 156.7 M211.1 156.7L207.3 151.1 M207.3 151.1L203.4 145.7 M203.4 145.7L199.6 140.5 M199.6 140.5L195.9 135.5 M195.9 135.5L192.2 130.7 M192.2 130.7L188.5 126.0 M188.5 126.0L184.9 121.6 M184.9 121.6L181.3 117.4 M181.3 117.4L177.7 113.3 M177.7 113.3L174.2 109.4 M174.2 109.4L170.7 105.7 M170.7 105.7L167.2 102.2 M167.2 102.2L163.8 98.8 M163.8 98.8L160.5 95.7 M160.5 95.7L157.1 92.7 M157.1 92.7L153.8 89.8 M153.8 89.8L150.6 87.2 M150.6 87.2L147.3 84.7 M147.3 84.7L144.2 82.4 M144.2 82.4L141.0 80.2 M141.0 80.2L137.9 78.2 M243.2 193.4L239.1 186.7 M239.1 186.7L235.1 180.1 M235.1 180.1L231.1 173.7 M231.1 173.7L227.1 167.6 M227.1 167.6L223.1 161.6 M223.1 161.6L219.2 155.8 M219.2 155.8L215.3 150.3 M215.3 150.3L211.5 144.9 M211.5 144.9L207.7 139.7 M207.7 139.7L203.9 134.7 M203.9 134.7L200.1 130.0 M200.1 130.0L196.4 125.4 M196.4 125.4L192.8 120.9 M192.8 120.9L189.1 116.7 M189.1 116.7L185.5 112.7 M185.5 112.7L182.0 108.8 M182.0 108.8L178.5 105.1 M178.5 105.1L175.0 101.6 M175.0 101.6L171.5 98.3 M171.5 98.3L168.1 95.1 M168.1 95.1L164.8 92.2 M164.8 92.2L161.4 89.3 M161.4 89.3L158.1 86.7 M158.1 86.7L154.9 84.2 M154.9 84.2L151.7 81.9 M151.7 81.9L148.5 79.7 M148.5 79.7L145.4 77.7 M251.4 192.9L247.3 186.1 M247.3 186.1L243.2 179.6 M243.2 179.6L239.2 173.3 M239.2 173.3L235.2 167.1 M235.2 167.1L231.2 161.2 M231.2 161.2L227.2 155.5 M227.2 155.5L223.3 149.9 M223.3 149.9L219.5 144.6 M219.5 144.6L215.6 139.4 M215.6 139.4L211.8 134.5 M211.8 134.5L208.1 129.7 M208.1 129.7L204.3 125.1 M204.3 125.1L200.6 120.7 M200.6 120.7L197.0 116.5 M197.0 116.5L193.3 112.5 M193.3 112.5L189.8 108.6 M189.8 108.6L186.2 105.0 M186.2 105.0L182.7 101.5 M182.7 101.5L179.2 98.2 M179.2 98.2L175.8 95.0 M175.8 95.0L172.4 92.1 M172.4 92.1L169.0 89.3 M169.0 89.3L165.7 86.6 M165.7 86.6L162.4 84.1 M162.4 84.1L159.2 81.8 M159.2 81.8L156.0 79.7 M156.0 79.7L152.8 77.7 M259.5 192.8L255.4 186.1 M255.4 186.1L251.3 179.6 M251.3 179.6L247.2 173.3 M247.2 173.3L243.2 167.1 M243.2 167.1L239.2 161.2 M239.2 161.2L235.2 155.5 M235.2 155.5L231.3 150.0 M231.3 150.0L227.4 144.7 M227.4 144.7L223.5 139.6 M223.5 139.6L219.7 134.6 M219.7 134.6L215.9 129.9 M215.9 129.9L212.1 125.3 M212.1 125.3L208.4 120.9 M208.4 120.9L204.7 116.7 M204.7 116.7L201.1 112.7 M201.1 112.7L197.5 108.9 M197.5 108.9L193.9 105.2 M193.9 105.2L190.4 101.8 M190.4 101.8L186.8 98.5 M186.8 98.5L183.4 95.3 M183.4 95.3L180.0 92.4 M180.0 92.4L176.6 89.6 M176.6 89.6L173.2 87.0 M173.2 87.0L169.9 84.5 M169.9 84.5L166.6 82.2 M166.6 82.2L163.4 80.1 M163.4 80.1L160.2 78.1 M267.5 193.1L263.4 186.5 M263.4 186.5L259.3 180.0 M259.3 180.0L255.2 173.7 M255.2 173.7L251.1 167.6 M251.1 167.6L247.1 161.7 M247.1 161.7L243.1 156.0 M243.1 156.0L239.2 150.5 M239.2 150.5L235.3 145.2 M235.3 145.2L231.4 140.1 M231.4 140.1L227.5 135.2 M227.5 135.2L223.7 130.5 M223.7 130.5L219.9 125.9 M219.9 125.9L216.2 121.6 M216.2 121.6L212.4 117.4 M212.4 117.4L208.8 113.4 M208.8 113.4L205.1 109.6 M205.1 109.6L201.5 105.9 M201.5 105.9L198.0 102.5 M198.0 102.5L194.4 99.2 M194.4 99.2L190.9 96.1 M190.9 96.1L187.5 93.1 M187.5 93.1L184.0 90.4 M184.0 90.4L180.7 87.7 M180.7 87.7L177.3 85.3 M177.3 85.3L174.0 83.0 M174.0 83.0L170.7 80.9 M170.7 80.9L167.5 78.9 M275.5 193.9L271.3 187.3 M271.3 187.3L267.2 180.8 M267.2 180.8L263.1 174.6 M263.1 174.6L259.0 168.5 M259.0 168.5L255.0 162.6 M255.0 162.6L251.0 157.0 M251.0 157.0L247.0 151.5 M247.0 151.5L243.0 146.2 M243.0 146.2L239.1 141.1 M239.1 141.1L235.3 136.2 M235.3 136.2L231.4 131.5 M231.4 131.5L227.6 127.0 M227.6 127.0L223.8 122.6 M223.8 122.6L220.1 118.5 M220.1 118.5L216.4 114.5 M216.4 114.5L212.7 110.7 M212.7 110.7L209.1 107.1 M209.1 107.1L205.5 103.6 M205.5 103.6L201.9 100.3 M201.9 100.3L198.4 97.2 M198.4 97.2L194.9 94.3 M194.9 94.3L191.5 91.5 M191.5 91.5L188.1 88.9 M188.1 88.9L184.7 86.5 M184.7 86.5L181.4 84.2 M181.4 84.2L178.1 82.1 M178.1 82.1L174.8 80.1 M283.4 195.2L279.2 188.5 M279.2 188.5L275.0 182.1 M275.0 182.1L270.9 175.9 M270.9 175.9L266.8 169.8 M266.8 169.8L262.7 164.0 M262.7 164.0L258.7 158.3 M258.7 158.3L254.7 152.9 M254.7 152.9L250.8 147.6 M250.8 147.6L246.8 142.6 M246.8 142.6L242.9 137.7 M242.9 137.7L239.1 133.0 M239.1 133.0L235.2 128.5 M235.2 128.5L231.4 124.1 M231.4 124.1L227.7 120.0 M227.7 120.0L223.9 116.0 M223.9 116.0L220.3 112.2 M220.3 112.2L216.6 108.6 M216.6 108.6L213.0 105.2 M213.0 105.2L209.4 101.9 M209.4 101.9L205.8 98.8 M205.8 98.8L202.3 95.9 M202.3 95.9L198.9 93.1 M198.9 93.1L195.4 90.5 M195.4 90.5L192.0 88.1 M192.0 88.1L188.7 85.8 M188.7 85.8L185.3 83.7 M185.3 83.7L182.0 81.7 M291.1 196.8L286.9 190.2 M286.9 190.2L282.8 183.8 M282.8 183.8L278.6 177.6 M278.6 177.6L274.5 171.6 M274.5 171.6L270.4 165.8 M270.4 165.8L266.4 160.1 M266.4 160.1L262.4 154.7 M262.4 154.7L258.4 149.5 M258.4 149.5L254.4 144.4 M254.4 144.4L250.5 139.5 M250.5 139.5L246.6 134.9 M246.6 134.9L242.8 130.4 M242.8 130.4L239.0 126.0 M239.0 126.0L235.2 121.9 M235.2 121.9L231.4 118.0 M231.4 118.0L227.7 114.2 M227.7 114.2L224.0 110.6 M224.0 110.6L220.4 107.1 M220.4 107.1L216.8 103.9 M216.8 103.9L213.2 100.8 M213.2 100.8L209.7 97.8 M209.7 97.8L206.2 95.1 M206.2 95.1L202.7 92.5 M202.7 92.5L199.3 90.0 M199.3 90.0L195.9 87.8 M195.9 87.8L192.5 85.6 M192.5 85.6L189.2 83.7 M298.8 198.9L294.6 192.3 M294.6 192.3L290.4 185.9 M290.4 185.9L286.2 179.7 M286.2 179.7L282.1 173.8 M282.1 173.8L278.0 168.0 M278.0 168.0L274.0 162.4 M274.0 162.4L269.9 156.9 M269.9 156.9L265.9 151.7 M265.9 151.7L262.0 146.7 M262.0 146.7L258.0 141.8 M258.0 141.8L254.1 137.2 M254.1 137.2L250.2 132.7 M250.2 132.7L246.4 128.4 M246.4 128.4L242.6 124.2 M242.6 124.2L238.8 120.3 M238.8 120.3L235.1 116.5 M235.1 116.5L231.4 112.9 M231.4 112.9L227.7 109.5 M227.7 109.5L224.1 106.2 M224.1 106.2L220.5 103.1 M220.5 103.1L217.0 100.2 M217.0 100.2L213.4 97.5 M213.4 97.5L209.9 94.9 M209.9 94.9L206.5 92.4 M206.5 92.4L203.1 90.2 M203.1 90.2L199.7 88.0 M199.7 88.0L196.4 86.1 M306.4 201.4L302.1 194.8 M302.1 194.8L297.9 188.5 M297.9 188.5L293.8 182.3 M293.8 182.3L289.6 176.3 M289.6 176.3L285.5 170.6 M285.5 170.6L281.5 165.0 M281.5 165.0L277.4 159.6 M277.4 159.6L273.4 154.4 M273.4 154.4L269.4 149.3 M269.4 149.3L265.4 144.5 M265.4 144.5L261.5 139.9 M261.5 139.9L257.6 135.4 M257.6 135.4L253.8 131.1 M253.8 131.1L250.0 127.0 M250.0 127.0L246.2 123.0 M246.2 123.0L242.4 119.3 M242.4 119.3L238.7 115.7 M238.7 115.7L235.0 112.2 M235.0 112.2L231.4 109.0 M231.4 109.0L227.7 105.9 M227.7 105.9L224.2 103.0 M224.2 103.0L220.6 100.2 M220.6 100.2L217.1 97.6 M217.1 97.6L213.6 95.2 M213.6 95.2L210.2 92.9 M210.2 92.9L206.8 90.8 M206.8 90.8L203.4 88.8 M313.8 204.3L309.6 197.7 M309.6 197.7L305.4 191.4 M305.4 191.4L301.2 185.3 M301.2 185.3L297.1 179.3 M297.1 179.3L292.9 173.6 M292.9 173.6L288.8 168.0 M288.8 168.0L284.8 162.6 M284.8 162.6L280.8 157.4 M280.8 157.4L276.8 152.4 M276.8 152.4L272.8 147.6 M272.8 147.6L268.8 142.9 M268.8 142.9L264.9 138.5 M264.9 138.5L261.1 134.2 M261.1 134.2L257.2 130.1 M257.2 130.1L253.4 126.2 M253.4 126.2L249.6 122.4 M249.6 122.4L245.9 118.8 M245.9 118.8L242.2 115.4 M242.2 115.4L238.5 112.1 M238.5 112.1L234.9 109.1 M234.9 109.1L231.3 106.1 M231.3 106.1L227.7 103.4 M227.7 103.4L224.2 100.8 M224.2 100.8L220.7 98.3 M220.7 98.3L217.2 96.1 M217.2 96.1L213.8 93.9 M213.8 93.9L210.4 92.0 M321.2 207.6L316.9 201.1 M316.9 201.1L312.7 194.7 M312.7 194.7L308.5 188.6 M308.5 188.6L304.4 182.7 M304.4 182.7L300.2 177.0 M300.2 177.0L296.1 171.4 M296.1 171.4L292.1 166.0 M292.1 166.0L288.0 160.9 M288.0 160.9L284.0 155.9 M284.0 155.9L280.0 151.1 M280.0 151.1L276.1 146.4 M276.1 146.4L272.2 142.0 M272.2 142.0L268.3 137.7 M268.3 137.7L264.4 133.6 M264.4 133.6L260.6 129.7 M260.6 129.7L256.8 125.9 M256.8 125.9L253.0 122.3 M253.0 122.3L249.3 118.9 M249.3 118.9L245.6 115.7 M245.6 115.7L242.0 112.6 M242.0 112.6L238.3 109.7 M238.3 109.7L234.8 106.9 M234.8 106.9L231.2 104.3 M231.2 104.3L227.7 101.9 M227.7 101.9L224.2 99.6 M224.2 99.6L220.7 97.4 M220.7 97.4L217.3 95.5 M328.4 211.2L324.2 204.8 M324.2 204.8L320.0 198.5 M320.0 198.5L315.8 192.4 M315.8 192.4L311.6 186.5 M311.6 186.5L307.4 180.7 M307.4 180.7L303.3 175.2 M303.3 175.2L299.2 169.9 M299.2 169.9L295.2 164.7 M295.2 164.7L291.2 159.7 M291.2 159.7L287.2 154.9 M287.2 154.9L283.2 150.3 M283.2 150.3L279.3 145.8 M279.3 145.8L275.4 141.6 M275.4 141.6L271.5 137.5 M271.5 137.5L267.7 133.6 M267.7 133.6L263.8 129.8 M263.8 129.8L260.1 126.2 M260.1 126.2L256.3 122.8 M256.3 122.8L252.6 119.6 M252.6 119.6L248.9 116.5 M248.9 116.5L245.3 113.6 M245.3 113.6L241.7 110.8 M241.7 110.8L238.1 108.2 M238.1 108.2L234.6 105.7 M234.6 105.7L231.1 103.5 M231.1 103.5L227.6 101.3 M227.6 101.3L224.2 99.3 M335.6 215.3L331.3 208.8 M331.3 208.8L327.1 202.6 M327.1 202.6L322.9 196.5 M322.9 196.5L318.7 190.6 M318.7 190.6L314.5 184.9 M314.5 184.9L310.4 179.4 M310.4 179.4L306.3 174.0 M306.3 174.0L302.3 168.9 M302.3 168.9L298.2 163.9 M298.2 163.9L294.2 159.1 M294.2 159.1L290.2 154.5 M290.2 154.5L286.3 150.1 M286.3 150.1L282.4 145.8 M282.4 145.8L278.5 141.7 M278.5 141.7L274.6 137.8 M274.6 137.8L270.8 134.1 M270.8 134.1L267.0 130.5 M267.0 130.5L263.3 127.1 M263.3 127.1L259.5 123.8 M259.5 123.8L255.9 120.7 M255.9 120.7L252.2 117.8 M252.2 117.8L248.6 115.1 M248.6 115.1L245.0 112.4 M245.0 112.4L241.4 110.0 M241.4 110.0L237.9 107.7 M237.9 107.7L234.4 105.5 M234.4 105.5L231.0 103.5 M342.6 219.7L338.3 213.3 M338.3 213.3L334.1 207.0 M334.1 207.0L329.9 201.0 M329.9 201.0L325.7 195.1 M325.7 195.1L321.5 189.4 M321.5 189.4L317.4 183.9 M317.4 183.9L313.3 178.6 M313.3 178.6L309.2 173.5 M309.2 173.5L305.2 168.5 M305.2 168.5L301.2 163.7 M301.2 163.7L297.2 159.1 M297.2 159.1L293.2 154.7 M293.2 154.7L289.3 150.4 M289.3 150.4L285.4 146.4 M285.4 146.4L281.5 142.4 M281.5 142.4L277.7 138.7 M277.7 138.7L273.9 135.1 M273.9 135.1L270.1 131.7 M270.1 131.7L266.4 128.4 M266.4 128.4L262.7 125.4 M262.7 125.4L259.0 122.4 M259.0 122.4L255.4 119.7 M255.4 119.7L251.7 117.0 M251.7 117.0L248.2 114.6 M248.2 114.6L244.6 112.3 M244.6 112.3L241.1 110.1 M241.1 110.1L237.7 108.1 M124.2 249.4L132.8 242.4 M132.8 242.4L141.4 235.9 M141.4 235.9L150.0 229.8 M150.0 229.8L158.6 224.2 M158.6 224.2L167.2 219.0 M167.2 219.0L175.8 214.3 M175.8 214.3L184.4 210.1 M184.4 210.1L192.9 206.3 M192.9 206.3L201.4 203.0 M201.4 203.0L209.9 200.2 M209.9 200.2L218.3 197.8 M218.3 197.8L226.7 195.9 M226.7 195.9L235.0 194.4 M235.0 194.4L243.2 193.4 M243.2 193.4L251.4 192.9 M251.4 192.9L259.5 192.8 M259.5 192.8L267.5 193.1 M267.5 193.1L275.5 193.9 M275.5 193.9L283.4 195.2 M283.4 195.2L291.1 196.8 M291.1 196.8L298.8 198.9 M298.8 198.9L306.4 201.4 M306.4 201.4L313.8 204.3 M313.8 204.3L321.2 207.6 M321.2 207.6L328.4 211.2 M328.4 211.2L335.6 215.3 M335.6 215.3L342.6 219.7 M120.5 242.1L129.1 235.2 M129.1 235.2L137.7 228.7 M137.7 228.7L146.2 222.7 M146.2 222.7L154.8 217.1 M154.8 217.1L163.4 211.9 M163.4 211.9L171.9 207.3 M171.9 207.3L180.5 203.1 M180.5 203.1L189.0 199.3 M189.0 199.3L197.4 196.1 M197.4 196.1L205.9 193.3 M205.9 193.3L214.3 190.9 M214.3 190.9L222.6 189.0 M222.6 189.0L230.9 187.6 M230.9 187.6L239.1 186.7 M239.1 186.7L247.3 186.1 M247.3 186.1L255.4 186.1 M255.4 186.1L263.4 186.5 M263.4 186.5L271.3 187.3 M271.3 187.3L279.2 188.5 M279.2 188.5L286.9 190.2 M286.9 190.2L294.6 192.3 M294.6 192.3L302.1 194.8 M302.1 194.8L309.6 197.7 M309.6 197.7L316.9 201.1 M316.9 201.1L324.2 204.8 M324.2 204.8L331.3 208.8 M331.3 208.8L338.3 213.3 M116.9 235.1L125.5 228.2 M125.5 228.2L134.0 221.7 M134.0 221.7L142.5 215.7 M142.5 215.7L151.1 210.2 M151.1 210.2L159.6 205.1 M159.6 205.1L168.1 200.5 M168.1 200.5L176.6 196.3 M176.6 196.3L185.1 192.6 M185.1 192.6L193.5 189.3 M193.5 189.3L201.9 186.6 M201.9 186.6L210.3 184.3 M210.3 184.3L218.6 182.4 M218.6 182.4L226.9 181.0 M226.9 181.0L235.1 180.1 M235.1 180.1L243.2 179.6 M243.2 179.6L251.3 179.6 M251.3 179.6L259.3 180.0 M259.3 180.0L267.2 180.8 M267.2 180.8L275.0 182.1 M275.0 182.1L282.8 183.8 M282.8 183.8L290.4 185.9 M290.4 185.9L297.9 188.5 M297.9 188.5L305.4 191.4 M305.4 191.4L312.7 194.7 M312.7 194.7L320.0 198.5 M320.0 198.5L327.1 202.6 M327.1 202.6L334.1 207.0 M113.4 228.3L121.9 221.4 M121.9 221.4L130.4 215.0 M130.4 215.0L138.9 209.0 M138.9 209.0L147.3 203.5 M147.3 203.5L155.8 198.4 M155.8 198.4L164.3 193.8 M164.3 193.8L172.8 189.7 M172.8 189.7L181.2 186.0 M181.2 186.0L189.6 182.8 M189.6 182.8L198.0 180.1 M198.0 180.1L206.4 177.8 M206.4 177.8L214.6 176.0 M214.6 176.0L222.9 174.6 M222.9 174.6L231.1 173.7 M231.1 173.7L239.2 173.3 M239.2 173.3L247.2 173.3 M247.2 173.3L255.2 173.7 M255.2 173.7L263.1 174.6 M263.1 174.6L270.9 175.9 M270.9 175.9L278.6 177.6 M278.6 177.6L286.2 179.7 M286.2 179.7L293.8 182.3 M293.8 182.3L301.2 185.3 M301.2 185.3L308.5 188.6 M308.5 188.6L315.8 192.4 M315.8 192.4L322.9 196.5 M322.9 196.5L329.9 201.0 M109.9 221.7L118.3 214.8 M118.3 214.8L126.8 208.5 M126.8 208.5L135.2 202.5 M135.2 202.5L143.7 197.0 M143.7 197.0L152.1 192.0 M152.1 192.0L160.6 187.4 M160.6 187.4L169.0 183.3 M169.0 183.3L177.4 179.7 M177.4 179.7L185.8 176.5 M185.8 176.5L194.1 173.8 M194.1 173.8L202.5 171.6 M202.5 171.6L210.7 169.8 M210.7 169.8L218.9 168.4 M218.9 168.4L227.1 167.6 M227.1 167.6L235.2 167.1 M235.2 167.1L243.2 167.1 M243.2 167.1L251.1 167.6 M251.1 167.6L259.0 168.5 M259.0 168.5L266.8 169.8 M266.8 169.8L274.5 171.6 M274.5 171.6L282.1 173.8 M282.1 173.8L289.6 176.3 M289.6 176.3L297.1 179.3 M297.1 179.3L304.4 182.7 M304.4 182.7L311.6 186.5 M311.6 186.5L318.7 190.6 M318.7 190.6L325.7 195.1 M106.4 215.3L114.8 208.5 M114.8 208.5L123.2 202.1 M123.2 202.1L131.6 196.2 M131.6 196.2L140.0 190.8 M140.0 190.8L148.5 185.8 M148.5 185.8L156.9 181.2 M156.9 181.2L165.3 177.2 M165.3 177.2L173.6 173.6 M173.6 173.6L182.0 170.4 M182.0 170.4L190.3 167.7 M190.3 167.7L198.6 165.5 M198.6 165.5L206.8 163.8 M206.8 163.8L215.0 162.4 M215.0 162.4L223.1 161.6 M223.1 161.6L231.2 161.2 M231.2 161.2L239.2 161.2 M239.2 161.2L247.1 161.7 M247.1 161.7L255.0 162.6 M255.0 162.6L262.7 164.0 M262.7 164.0L270.4 165.8 M270.4 165.8L278.0 168.0 M278.0 168.0L285.5 170.6 M285.5 170.6L292.9 173.6 M292.9 173.6L300.2 177.0 M300.2 177.0L307.4 180.7 M307.4 180.7L314.5 184.9 M314.5 184.9L321.5 189.4 M102.9 209.1L111.3 202.3 M111.3 202.3L119.7 196.0 M119.7 196.0L128.1 190.1 M128.1 190.1L136.4 184.7 M136.4 184.7L144.8 179.7 M144.8 179.7L153.2 175.3 M153.2 175.3L161.6 171.2 M161.6 171.2L169.9 167.6 M169.9 167.6L178.2 164.5 M178.2 164.5L186.5 161.9 M186.5 161.9L194.8 159.7 M194.8 159.7L203.0 157.9 M203.0 157.9L211.1 156.7 M211.1 156.7L219.2 155.8 M219.2 155.8L227.2 155.5 M227.2 155.5L235.2 155.5 M235.2 155.5L243.1 156.0 M243.1 156.0L251.0 157.0 M251.0 157.0L258.7 158.3 M258.7 158.3L266.4 160.1 M266.4 160.1L274.0 162.4 M274.0 162.4L281.5 165.0 M281.5 165.0L288.8 168.0 M288.8 168.0L296.1 171.4 M296.1 171.4L303.3 175.2 M303.3 175.2L310.4 179.4 M310.4 179.4L317.4 183.9 M99.5 203.1L107.9 196.3 M107.9 196.3L116.2 190.1 M116.2 190.1L124.5 184.2 M124.5 184.2L132.9 178.8 M132.9 178.8L141.2 173.9 M141.2 173.9L149.6 169.5 M149.6 169.5L157.9 165.5 M157.9 165.5L166.2 161.9 M166.2 161.9L174.5 158.8 M174.5 158.8L182.7 156.2 M182.7 156.2L191.0 154.0 M191.0 154.0L199.1 152.3 M199.1 152.3L207.3 151.1 M207.3 151.1L215.3 150.3 M215.3 150.3L223.3 149.9 M223.3 149.9L231.3 150.0 M231.3 150.0L239.2 150.5 M239.2 150.5L247.0 151.5 M247.0 151.5L254.7 152.9 M254.7 152.9L262.4 154.7 M262.4 154.7L269.9 156.9 M269.9 156.9L277.4 159.6 M277.4 159.6L284.8 162.6 M284.8 162.6L292.1 166.0 M292.1 166.0L299.2 169.9 M299.2 169.9L306.3 174.0 M306.3 174.0L313.3 178.6 M96.2 197.3L104.4 190.6 M104.4 190.6L112.7 184.3 M112.7 184.3L121.0 178.5 M121.0 178.5L129.4 173.2 M129.4 173.2L137.7 168.3 M137.7 168.3L146.0 163.9 M146.0 163.9L154.3 159.9 M154.3 159.9L162.5 156.4 M162.5 156.4L170.8 153.3 M170.8 153.3L179.0 150.7 M179.0 150.7L187.2 148.6 M187.2 148.6L195.3 146.9 M195.3 146.9L203.4 145.7 M203.4 145.7L211.5 144.9 M211.5 144.9L219.5 144.6 M219.5 144.6L227.4 144.7 M227.4 144.7L235.3 145.2 M235.3 145.2L243.0 146.2 M243.0 146.2L250.8 147.6 M250.8 147.6L258.4 149.5 M258.4 149.5L265.9 151.7 M265.9 151.7L273.4 154.4 M273.4 154.4L280.8 157.4 M280.8 157.4L288.0 160.9 M288.0 160.9L295.2 164.7 M295.2 164.7L302.3 168.9 M302.3 168.9L309.2 173.5 M92.8 191.6L101.1 185.0 M101.1 185.0L109.3 178.8 M109.3 178.8L117.6 173.0 M117.6 173.0L125.9 167.7 M125.9 167.7L134.1 162.9 M134.1 162.9L142.4 158.5 M142.4 158.5L150.7 154.5 M150.7 154.5L158.9 151.0 M158.9 151.0L167.1 148.0 M167.1 148.0L175.3 145.4 M175.3 145.4L183.5 143.3 M183.5 143.3L191.6 141.7 M191.6 141.7L199.6 140.5 M199.6 140.5L207.7 139.7 M207.7 139.7L215.6 139.4 M215.6 139.4L223.5 139.6 M223.5 139.6L231.4 140.1 M231.4 140.1L239.1 141.1 M239.1 141.1L246.8 142.6 M246.8 142.6L254.4 144.4 M254.4 144.4L262.0 146.7 M262.0 146.7L269.4 149.3 M269.4 149.3L276.8 152.4 M276.8 152.4L284.0 155.9 M284.0 155.9L291.2 159.7 M291.2 159.7L298.2 163.9 M298.2 163.9L305.2 168.5 M89.6 186.2L97.8 179.6 M97.8 179.6L106.0 173.5 M106.0 173.5L114.2 167.7 M114.2 167.7L122.4 162.5 M122.4 162.5L130.7 157.6 M130.7 157.6L138.9 153.3 M138.9 153.3L147.1 149.4 M147.1 149.4L155.3 145.9 M155.3 145.9L163.5 142.9 M163.5 142.9L171.7 140.4 M171.7 140.4L179.8 138.3 M179.8 138.3L187.9 136.7 M187.9 136.7L195.9 135.5 M195.9 135.5L203.9 134.7 M203.9 134.7L211.8 134.5 M211.8 134.5L219.7 134.6 M219.7 134.6L227.5 135.2 M227.5 135.2L235.3 136.2 M235.3 136.2L242.9 137.7 M242.9 137.7L250.5 139.5 M250.5 139.5L258.0 141.8 M258.0 141.8L265.4 144.5 M265.4 144.5L272.8 147.6 M272.8 147.6L280.0 151.1 M280.0 151.1L287.2 154.9 M287.2 154.9L294.2 159.1 M294.2 159.1L301.2 163.7 M86.3 181.0L94.5 174.5 M94.5 174.5L102.6 168.3 M102.6 168.3L110.8 162.6 M110.8 162.6L119.0 157.4 M119.0 157.4L127.2 152.6 M127.2 152.6L135.4 148.3 M135.4 148.3L143.6 144.4 M143.6 144.4L151.8 141.0 M151.8 141.0L159.9 138.0 M159.9 138.0L168.0 135.5 M168.0 135.5L176.1 133.4 M176.1 133.4L184.2 131.8 M184.2 131.8L192.2 130.7 M192.2 130.7L200.1 130.0 M200.1 130.0L208.1 129.7 M208.1 129.7L215.9 129.9 M215.9 129.9L223.7 130.5 M223.7 130.5L231.4 131.5 M231.4 131.5L239.1 133.0 M239.1 133.0L246.6 134.9 M246.6 134.9L254.1 137.2 M254.1 137.2L261.5 139.9 M261.5 139.9L268.8 142.9 M268.8 142.9L276.1 146.4 M276.1 146.4L283.2 150.3 M283.2 150.3L290.2 154.5 M290.2 154.5L297.2 159.1 M83.1 176.0L91.2 169.5 M91.2 169.5L99.4 163.4 M99.4 163.4L107.5 157.7 M107.5 157.7L115.7 152.5 M115.7 152.5L123.8 147.8 M123.8 147.8L132.0 143.5 M132.0 143.5L140.1 139.6 M140.1 139.6L148.3 136.2 M148.3 136.2L156.4 133.3 M156.4 133.3L164.5 130.8 M164.5 130.8L172.5 128.8 M172.5 128.8L180.5 127.2 M180.5 127.2L188.5 126.0 M188.5 126.0L196.4 125.4 M196.4 125.4L204.3 125.1 M204.3 125.1L212.1 125.3 M212.1 125.3L219.9 125.9 M219.9 125.9L227.6 127.0 M227.6 127.0L235.2 128.5 M235.2 128.5L242.8 130.4 M242.8 130.4L250.2 132.7 M250.2 132.7L257.6 135.4 M257.6 135.4L264.9 138.5 M264.9 138.5L272.2 142.0 M272.2 142.0L279.3 145.8 M279.3 145.8L286.3 150.1 M286.3 150.1L293.2 154.7 M80.0 171.2L88.0 164.7 M88.0 164.7L96.1 158.6 M96.1 158.6L104.2 153.0 M104.2 153.0L112.3 147.8 M112.3 147.8L120.5 143.1 M120.5 143.1L128.6 138.8 M128.6 138.8L136.7 135.0 M136.7 135.0L144.8 131.7 M144.8 131.7L152.9 128.7 M152.9 128.7L160.9 126.3 M160.9 126.3L168.9 124.3 M168.9 124.3L176.9 122.7 M176.9 122.7L184.9 121.6 M184.9 121.6L192.8 120.9 M192.8 120.9L200.6 120.7 M200.6 120.7L208.4 120.9 M208.4 120.9L216.2 121.6 M216.2 121.6L223.8 122.6 M223.8 122.6L231.4 124.1 M231.4 124.1L239.0 126.0 M239.0 126.0L246.4 128.4 M246.4 128.4L253.8 131.1 M253.8 131.1L261.1 134.2 M261.1 134.2L268.3 137.7 M268.3 137.7L275.4 141.6 M275.4 141.6L282.4 145.8 M282.4 145.8L289.3 150.4 M76.8 166.5L84.9 160.1 M84.9 160.1L92.9 154.1 M92.9 154.1L101.0 148.5 M101.0 148.5L109.1 143.3 M109.1 143.3L117.1 138.7 M117.1 138.7L125.2 134.4 M125.2 134.4L133.3 130.6 M133.3 130.6L141.3 127.3 M141.3 127.3L149.4 124.4 M149.4 124.4L157.4 122.0 M157.4 122.0L165.4 120.0 M165.4 120.0L173.4 118.4 M173.4 118.4L181.3 117.4 M181.3 117.4L189.1 116.7 M189.1 116.7L197.0 116.5 M197.0 116.5L204.7 116.7 M204.7 116.7L212.4 117.4 M212.4 117.4L220.1 118.5 M220.1 118.5L227.7 120.0 M227.7 120.0L235.2 121.9 M235.2 121.9L242.6 124.2 M242.6 124.2L250.0 127.0 M250.0 127.0L257.2 130.1 M257.2 130.1L264.4 133.6 M264.4 133.6L271.5 137.5 M271.5 137.5L278.5 141.7 M278.5 141.7L285.4 146.4 M73.8 162.1L81.7 155.7 M81.7 155.7L89.7 149.7 M89.7 149.7L97.8 144.1 M97.8 144.1L105.8 139.0 M105.8 139.0L113.8 134.4 M113.8 134.4L121.9 130.2 M121.9 130.2L129.9 126.4 M129.9 126.4L137.9 123.1 M137.9 123.1L146.0 120.2 M146.0 120.2L153.9 117.8 M153.9 117.8L161.9 115.9 M161.9 115.9L169.8 114.4 M169.8 114.4L177.7 113.3 M177.7 113.3L185.5 112.7 M185.5 112.7L193.3 112.5 M193.3 112.5L201.1 112.7 M201.1 112.7L208.8 113.4 M208.8 113.4L216.4 114.5 M216.4 114.5L223.9 116.0 M223.9 116.0L231.4 118.0 M231.4 118.0L238.8 120.3 M238.8 120.3L246.2 123.0 M246.2 123.0L253.4 126.2 M253.4 126.2L260.6 129.7 M260.6 129.7L267.7 133.6 M267.7 133.6L274.6 137.8 M274.6 137.8L281.5 142.4 M70.7 157.8L78.7 151.4 M78.7 151.4L86.6 145.5 M86.6 145.5L94.6 140.0 M94.6 140.0L102.6 134.9 M102.6 134.9L110.6 130.3 M110.6 130.3L118.6 126.1 M118.6 126.1L126.6 122.4 M126.6 122.4L134.6 119.1 M134.6 119.1L142.6 116.3 M142.6 116.3L150.5 113.9 M150.5 113.9L158.4 112.0 M158.4 112.0L166.3 110.5 M166.3 110.5L174.2 109.4 M174.2 109.4L182.0 108.8 M182.0 108.8L189.8 108.6 M189.8 108.6L197.5 108.9 M197.5 108.9L205.1 109.6 M205.1 109.6L212.7 110.7 M212.7 110.7L220.3 112.2 M220.3 112.2L227.7 114.2 M227.7 114.2L235.1 116.5 M235.1 116.5L242.4 119.3 M242.4 119.3L249.6 122.4 M249.6 122.4L256.8 125.9 M256.8 125.9L263.8 129.8 M263.8 129.8L270.8 134.1 M270.8 134.1L277.7 138.7 M67.7 153.8L75.6 147.4 M75.6 147.4L83.5 141.5 M83.5 141.5L91.5 136.0 M91.5 136.0L99.4 131.0 M99.4 131.0L107.4 126.4 M107.4 126.4L115.4 122.2 M115.4 122.2L123.3 118.5 M123.3 118.5L131.3 115.3 M131.3 115.3L139.2 112.5 M139.2 112.5L147.1 110.1 M147.1 110.1L155.0 108.2 M155.0 108.2L162.9 106.7 M162.9 106.7L170.7 105.7 M170.7 105.7L178.5 105.1 M178.5 105.1L186.2 105.0 M186.2 105.0L193.9 105.2 M193.9 105.2L201.5 105.9 M201.5 105.9L209.1 107.1 M209.1 107.1L216.6 108.6 M216.6 108.6L224.0 110.6 M224.0 110.6L231.4 112.9 M231.4 112.9L238.7 115.7 M238.7 115.7L245.9 118.8 M245.9 118.8L253.0 122.3 M253.0 122.3L260.1 126.2 M260.1 126.2L267.0 130.5 M267.0 130.5L273.9 135.1 M64.8 149.9L72.6 143.5 M72.6 143.5L80.5 137.7 M80.5 137.7L88.4 132.2 M88.4 132.2L96.3 127.2 M96.3 127.2L104.2 122.7 M104.2 122.7L112.2 118.6 M112.2 118.6L120.1 114.9 M120.1 114.9L128.0 111.7 M128.0 111.7L135.9 108.9 M135.9 108.9L143.8 106.5 M143.8 106.5L151.6 104.7 M151.6 104.7L159.4 103.2 M159.4 103.2L167.2 102.2 M167.2 102.2L175.0 101.6 M175.0 101.6L182.7 101.5 M182.7 101.5L190.4 101.8 M190.4 101.8L198.0 102.5 M198.0 102.5L205.5 103.6 M205.5 103.6L213.0 105.2 M213.0 105.2L220.4 107.1 M220.4 107.1L227.7 109.5 M227.7 109.5L235.0 112.2 M235.0 112.2L242.2 115.4 M242.2 115.4L249.3 118.9 M249.3 118.9L256.3 122.8 M256.3 122.8L263.3 127.1 M263.3 127.1L270.1 131.7 M61.8 146.1L69.7 139.9 M69.7 139.9L77.5 134.0 M77.5 134.0L85.4 128.6 M85.4 128.6L93.2 123.7 M93.2 123.7L101.1 119.1 M101.1 119.1L109.0 115.0 M109.0 115.0L116.9 111.4 M116.9 111.4L124.8 108.2 M124.8 108.2L132.6 105.4 M132.6 105.4L140.5 103.1 M140.5 103.1L148.3 101.3 M148.3 101.3L156.1 99.8 M156.1 99.8L163.8 98.8 M163.8 98.8L171.5 98.3 M171.5 98.3L179.2 98.2 M179.2 98.2L186.8 98.5 M186.8 98.5L194.4 99.2 M194.4 99.2L201.9 100.3 M201.9 100.3L209.4 101.9 M209.4 101.9L216.8 103.9 M216.8 103.9L224.1 106.2 M224.1 106.2L231.4 109.0 M231.4 109.0L238.5 112.1 M238.5 112.1L245.6 115.7 M245.6 115.7L252.6 119.6 M252.6 119.6L259.5 123.8 M259.5 123.8L266.4 128.4 M59.0 142.6L66.7 136.4 M66.7 136.4L74.5 130.6 M74.5 130.6L82.4 125.2 M82.4 125.2L90.2 120.3 M90.2 120.3L98.0 115.8 M98.0 115.8L105.9 111.7 M105.9 111.7L113.7 108.1 M113.7 108.1L121.6 104.9 M121.6 104.9L129.4 102.2 M129.4 102.2L137.2 99.9 M137.2 99.9L145.0 98.1 M145.0 98.1L152.7 96.6 M152.7 96.6L160.5 95.7 M160.5 95.7L168.1 95.1 M168.1 95.1L175.8 95.0 M175.8 95.0L183.4 95.3 M183.4 95.3L190.9 96.1 M190.9 96.1L198.4 97.2 M198.4 97.2L205.8 98.8 M205.8 98.8L213.2 100.8 M213.2 100.8L220.5 103.1 M220.5 103.1L227.7 105.9 M227.7 105.9L234.9 109.1 M234.9 109.1L242.0 112.6 M242.0 112.6L248.9 116.5 M248.9 116.5L255.9 120.7 M255.9 120.7L262.7 125.4 M56.1 139.2L63.9 133.0 M63.9 133.0L71.6 127.3 M71.6 127.3L79.4 121.9 M79.4 121.9L87.2 117.0 M87.2 117.0L95.0 112.6 M95.0 112.6L102.8 108.6 M102.8 108.6L110.6 105.0 M110.6 105.0L118.4 101.8 M118.4 101.8L126.2 99.1 M126.2 99.1L134.0 96.8 M134.0 96.8L141.7 95.0 M141.7 95.0L149.4 93.6 M149.4 93.6L157.1 92.7 M157.1 92.7L164.8 92.2 M164.8 92.2L172.4 92.1 M172.4 92.1L180.0 92.4 M180.0 92.4L187.5 93.1 M187.5 93.1L194.9 94.3 M194.9 94.3L202.3 95.9 M202.3 95.9L209.7 97.8 M209.7 97.8L217.0 100.2 M217.0 100.2L224.2 103.0 M224.2 103.0L231.3 106.1 M231.3 106.1L238.3 109.7 M238.3 109.7L245.3 113.6 M245.3 113.6L252.2 117.8 M252.2 117.8L259.0 122.4 M107.5 102.0L115.3 98.9 M115.3 98.9L123.0 96.2 M123.0 96.2L130.8 94.0 M130.8 94.0L138.5 92.2 M138.5 92.2L146.2 90.8 M146.2 90.8L153.8 89.8 M153.8 89.8L161.4 89.3 M161.4 89.3L169.0 89.3 M169.0 89.3L176.6 89.6 M176.6 89.6L184.0 90.4 M184.0 90.4L191.5 91.5 M191.5 91.5L198.9 93.1 M198.9 93.1L206.2 95.1 M206.2 95.1L213.4 97.5 M213.4 97.5L220.6 100.2 M220.6 100.2L227.7 103.4 M227.7 103.4L234.8 106.9 M234.8 106.9L241.7 110.8 M241.7 110.8L248.6 115.1 M248.6 115.1L255.4 119.7 M173.2 87.0L180.7 87.7 M180.7 87.7L188.1 88.9 M188.1 88.9L195.4 90.5 M195.4 90.5L202.7 92.5 M202.7 92.5L209.9 94.9 M209.9 94.9L217.1 97.6 M217.1 97.6L224.2 100.8 M224.2 100.8L231.2 104.3 M231.2 104.3L238.1 108.2 M238.1 108.2L245.0 112.4 M245.0 112.4L251.7 117.0 M213.6 95.2L220.7 98.3 M220.7 98.3L227.7 101.9 M227.7 101.9L234.6 105.7 M234.6 105.7L241.4 110.0 M241.4 110.0L248.2 114.6" fill="none" stroke="#1a1a1a" stroke-opacity="0.80" stroke-width="1.05" stroke-linecap="round"/>
<path d="M53.3 136.0L61.0 129.9 M61.0 129.9L68.7 124.2 M68.7 124.2L76.5 118.9 M76.5 118.9L84.2 114.0 M84.2 114.0L92.0 109.6 M92.0 109.6L99.7 105.6 M99.7 105.6L107.5 102.0 M50.6 133.0L58.2 126.9 M58.2 126.9L65.9 121.2 M65.9 121.2L73.6 116.0 M73.6 116.0L81.3 111.1 M81.3 111.1L89.0 106.7 M89.0 106.7L96.7 102.7 M96.7 102.7L104.5 99.2 M104.5 99.2L112.2 96.1 M112.2 96.1L119.9 93.5 M119.9 93.5L127.6 91.2 M127.6 91.2L135.3 89.5 M135.3 89.5L142.9 88.1 M142.9 88.1L150.6 87.2 M150.6 87.2L158.1 86.7 M158.1 86.7L165.7 86.6 M165.7 86.6L173.2 87.0 M47.9 130.2L55.5 124.1 M55.5 124.1L63.1 118.4 M63.1 118.4L70.7 113.2 M70.7 113.2L78.4 108.4 M78.4 108.4L86.1 104.0 M86.1 104.0L93.8 100.1 M93.8 100.1L101.5 96.6 M101.5 96.6L109.2 93.5 M109.2 93.5L116.8 90.9 M116.8 90.9L124.5 88.7 M124.5 88.7L132.1 86.9 M132.1 86.9L139.7 85.6 M139.7 85.6L147.3 84.7 M147.3 84.7L154.9 84.2 M154.9 84.2L162.4 84.1 M162.4 84.1L169.9 84.5 M169.9 84.5L177.3 85.3 M177.3 85.3L184.7 86.5 M184.7 86.5L192.0 88.1 M192.0 88.1L199.3 90.0 M199.3 90.0L206.5 92.4 M206.5 92.4L213.6 95.2 M45.2 127.5L52.7 121.5 M52.7 121.5L60.3 115.8 M60.3 115.8L67.9 110.6 M67.9 110.6L75.6 105.9 M75.6 105.9L83.2 101.5 M83.2 101.5L90.9 97.6 M90.9 97.6L98.5 94.1 M98.5 94.1L106.1 91.1 M106.1 91.1L113.8 88.5 M113.8 88.5L121.4 86.3 M121.4 86.3L129.0 84.6 M129.0 84.6L136.6 83.2 M136.6 83.2L144.2 82.4 M144.2 82.4L151.7 81.9 M151.7 81.9L159.2 81.8 M159.2 81.8L166.6 82.2 M166.6 82.2L174.0 83.0 M174.0 83.0L181.4 84.2 M181.4 84.2L188.7 85.8 M188.7 85.8L195.9 87.8 M195.9 87.8L203.1 90.2 M203.1 90.2L210.2 92.9 M210.2 92.9L217.2 96.1 M217.2 96.1L224.2 99.6 M224.2 99.6L231.1 103.5 M231.1 103.5L237.9 107.7 M237.9 107.7L244.6 112.3 M42.5 125.0L50.1 119.0 M50.1 119.0L57.6 113.4 M57.6 113.4L65.2 108.2 M65.2 108.2L72.8 103.5 M72.8 103.5L80.4 99.2 M80.4 99.2L88.0 95.3 M88.0 95.3L95.6 91.9 M95.6 91.9L103.2 88.8 M103.2 88.8L110.8 86.3 M110.8 86.3L118.4 84.1 M118.4 84.1L125.9 82.4 M125.9 82.4L133.5 81.1 M133.5 81.1L141.0 80.2 M141.0 80.2L148.5 79.7 M148.5 79.7L156.0 79.7 M156.0 79.7L163.4 80.1 M163.4 80.1L170.7 80.9 M170.7 80.9L178.1 82.1 M178.1 82.1L185.3 83.7 M185.3 83.7L192.5 85.6 M192.5 85.6L199.7 88.0 M199.7 88.0L206.8 90.8 M206.8 90.8L213.8 93.9 M213.8 93.9L220.7 97.4 M220.7 97.4L227.6 101.3 M227.6 101.3L234.4 105.5 M234.4 105.5L241.1 110.1 M40.0 122.6L47.4 116.7 M47.4 116.7L54.9 111.1 M54.9 111.1L62.5 106.0 M62.5 106.0L70.0 101.3 M70.0 101.3L77.6 97.0 M77.6 97.0L85.1 93.2 M85.1 93.2L92.7 89.7 M92.7 89.7L100.3 86.7 M100.3 86.7L107.8 84.2 M107.8 84.2L115.4 82.0 M115.4 82.0L122.9 80.3 M122.9 80.3L130.4 79.0 M130.4 79.0L137.9 78.2 M137.9 78.2L145.4 77.7 M145.4 77.7L152.8 77.7 M152.8 77.7L160.2 78.1 M160.2 78.1L167.5 78.9 M167.5 78.9L174.8 80.1 M174.8 80.1L182.0 81.7 M182.0 81.7L189.2 83.7 M189.2 83.7L196.4 86.1 M196.4 86.1L203.4 88.8 M203.4 88.8L210.4 92.0 M210.4 92.0L217.3 95.5 M217.3 95.5L224.2 99.3 M224.2 99.3L231.0 103.5 M231.0 103.5L237.7 108.1" fill="none" stroke="#1a1a1a" stroke-opacity="0.60" stroke-width="1.05" stroke-linecap="round"/>
<path d="M60.0 706.2L48.5 467.3 M103.2 633.5L97.4 456.8 M147.6 620.8L144.5 446.8 M190.4 608.5L189.8 437.1 M231.1 652.9L233.4 427.8 M57.1 646.8L231.7 596.6 M55.7 618.3L232.0 569.7 M54.3 589.2L232.2 542.3 M52.9 559.6L232.5 514.5 M51.5 529.5L232.8 486.1 M50.0 498.7L233.1 457.2 M48.5 467.3L233.4 427.8 M336.4 759.8L348.2 507.8 M309.5 669.4L316.2 485.5 M281.7 643.4L286.5 464.8 M255.9 619.2L259.0 445.6 M231.7 596.6L339.3 697.3 M232.0 569.7L340.7 667.3 M232.2 542.3L342.2 636.7 M232.5 514.5L343.6 605.5 M232.8 486.1L345.1 573.6 M233.1 457.2L346.6 541.1 M233.4 427.8L348.2 507.8" stroke="#333" stroke-width="1" fill="none"/>
<polygon points="60.0,706.2 231.1,652.9 336.4,759.8 146.9,830.9" fill="#646464" stroke="#2a2a2a" stroke-width="1"/>
<polyline points="180.6,818.2 177.9,814.8 175.2,811.3 172.5,807.9 169.9,804.6 167.2,801.2 164.5,797.9 161.7,794.7 159.0,791.4 156.6,788.6 154.5,786.1 151.7,783.0 149.0,779.9 146.2,776.8 144.1,774.4 141.6,771.8 138.8,768.8 136.0,765.8 134.2,763.9 131.4,761.0 128.5,758.1 126.3,755.8 123.8,753.4 121.0,750.6 119.1,748.7 116.2,746.0 113.4,743.2 111.5,741.4 108.6,738.8 106.6,736.9 103.8,734.4 100.9,731.8 98.9,730.0 96.0,727.5 94.1,725.8 91.1,723.3 89.2,721.6 86.2,719.1 84.2,717.5 81.3,715.0 79.3,713.4 76.6,711.3 74.3,709.4 72.3,707.9 69.3,705.5 67.3,704.0 67.3,704.0" fill="none" stroke="#b8f000" stroke-width="2"/>
<polyline points="213.8,805.8 211.1,802.4 208.4,799.0 205.6,795.7 203.8,793.5 201.0,790.2 198.3,787.0 195.5,783.8 192.7,780.7 189.9,777.5 187.1,774.4 184.3,771.4 182.5,769.4 179.7,766.4 176.8,763.4 174.0,760.4 171.7,758.0 169.3,755.6 166.4,752.7 163.6,749.9 161.7,748.0 158.8,745.2 155.9,742.5 154.0,740.6 151.1,737.9 148.2,735.2 146.3,733.5 143.4,730.8 140.6,728.3 138.5,726.5 135.6,723.9 133.6,722.2 130.7,719.7 128.7,718.0 125.8,715.5 123.5,713.7 120.8,711.4 118.4,709.5 115.8,707.4 113.6,705.6 110.8,703.4 108.8,701.9 105.8,699.5 103.8,698.0 100.7,695.7 98.7,694.2 98.7,694.2" fill="none" stroke="#40f000" stroke-width="2"/>
<polyline points="247.8,793.0 245.0,789.7 242.2,786.4 239.4,783.2 236.6,780.0 233.8,776.8 231.0,773.7 228.1,770.6 226.2,768.6 223.4,765.5 220.5,762.5 217.7,759.5 214.8,756.6 212.0,753.6 210.1,751.7 207.2,748.8 204.3,746.0 201.4,743.2 199.3,741.1 196.6,738.6 193.7,735.8 190.8,733.1 188.8,731.3 185.9,728.6 182.9,726.0 181.0,724.3 178.0,721.7 175.2,719.2 173.1,717.4 170.1,714.9 168.2,713.2 165.2,710.7 162.7,708.6 160.2,706.6 157.2,704.2 155.2,702.6 152.2,700.2 150.2,698.6 147.1,696.3 145.1,694.7 142.1,692.4 140.0,690.9 137.1,688.7 134.9,687.1 132.6,685.4 130.8,684.2" fill="none" stroke="#00f040" stroke-width="2"/>
<polyline points="284.5,779.3 281.6,776.0 278.8,772.9 275.9,769.7 273.0,766.6 270.1,763.5 268.2,761.5 265.3,758.5 262.4,755.5 259.5,752.5 256.6,749.6 253.7,746.7 250.8,743.8 247.9,741.0 245.9,739.1 243.0,736.3 240.1,733.6 237.1,730.8 235.1,728.9 232.2,726.3 229.3,723.6 226.3,721.0 224.3,719.3 221.3,716.7 218.4,714.1 216.4,712.4 213.4,709.9 210.4,707.4 208.4,705.7 205.4,703.2 202.7,701.1 200.4,699.2 197.3,696.8 195.3,695.2 192.3,692.8 190.3,691.3 187.2,689.0 185.1,687.4 182.1,685.1 179.9,683.5 177.0,681.4 174.9,679.9 171.8,677.7 169.8,676.2 166.7,674.0 165.6,673.3" fill="none" stroke="#00f0c0" stroke-width="2"/>
<polyline points="323.4,764.6 320.5,761.5 317.6,758.5 314.6,755.4 311.7,752.4 308.8,749.4 305.8,746.5 302.9,743.5 300.9,741.6 297.9,738.7 295.0,735.9 292.0,733.1 289.0,730.3 286.1,727.5 283.1,724.8 281.1,723.0 278.1,720.3 275.1,717.7 272.1,715.0 269.1,712.4 267.1,710.7 264.1,708.1 261.1,705.6 259.1,703.9 256.1,701.4 253.0,698.9 250.7,697.1 248.0,694.9 244.9,692.5 242.9,690.9 239.9,688.5 236.8,686.2 234.8,684.6 231.7,682.3 229.6,680.8 226.6,678.5 224.1,676.7 221.4,674.7 218.6,672.7 216.2,671.1 213.3,669.0 211.1,667.4 208.2,665.5 205.9,663.9 203.4,662.2 202.7,661.8" fill="none" stroke="#00c8f0" stroke-width="2"/>
<circle cx="122.6" cy="796.1" r="1.2" fill="#111"/>
<circle cx="100.2" cy="763.9" r="1.2" fill="#111"/>
<circle cx="79.4" cy="734.1" r="1.2" fill="#111"/>
<circle cx="197.3" cy="812.0" r="1.2" fill="#111"/>
<circle cx="245.6" cy="793.9" r="1.2" fill="#111"/>
<circle cx="291.9" cy="776.5" r="1.2" fill="#111"/>
<circle cx="53.0" cy="553.9" r="3.0" fill="#f4c4c4" stroke="#9a6060" stroke-width="0.8"/>
<polygon points="143.0,633.1 151.0,634.1 147.1,629.9 139.2,628.9" fill="#d9f700"/>
<polygon points="151.0,634.1 158.8,635.1 154.9,630.8 147.1,629.9" fill="#c7f700"/>
<polygon points="139.2,628.9 147.1,629.9 143.3,625.7 135.5,624.7" fill="#d9f700"/>
<polygon points="158.8,635.1 166.6,636.0 162.7,631.8 154.9,630.8" fill="#b6f700"/>
<polygon points="147.1,629.9 154.9,630.8 151.1,626.7 143.3,625.7" fill="#c7f700"/>
<polygon points="135.5,624.7 143.3,625.7 139.6,621.7 131.8,620.7" fill="#d8f700"/>
<polygon points="166.6,636.0 174.3,637.0 170.4,632.8 162.7,631.8" fill="#a4f700"/>
<polygon points="154.9,630.8 162.7,631.8 158.8,627.7 151.1,626.7" fill="#b6f700"/>
<polygon points="143.3,625.7 151.1,626.7 147.3,622.6 139.6,621.7" fill="#c7f700"/>
<polygon points="174.3,637.0 181.9,637.9 178.0,633.7 170.4,632.8" fill="#93f700"/>
<polygon points="131.8,620.7 139.6,621.7 135.9,617.7 128.1,616.7" fill="#d7f700"/>
<polygon points="162.7,631.8 170.4,632.8 166.5,628.7 158.8,627.7" fill="#a4f700"/>
<polygon points="151.1,626.7 158.8,627.7 155.0,623.6 147.3,622.6" fill="#b5f700"/>
<polygon points="181.9,637.9 189.5,638.9 185.5,634.7 178.0,633.7" fill="#81f700"/>
<polygon points="139.6,621.7 147.3,622.6 143.6,618.7 135.9,617.7" fill="#c6f700"/>
<polygon points="170.4,632.8 178.0,633.7 174.1,629.6 166.5,628.7" fill="#92f700"/>
<polygon points="128.1,616.7 135.9,617.7 132.2,613.7 124.5,612.7" fill="#d7f700"/>
<polygon points="158.8,627.7 166.5,628.7 162.6,624.6 155.0,623.6" fill="#a4f700"/>
<polygon points="189.5,638.9 197.0,639.8 193.0,635.6 185.5,634.7" fill="#70f700"/>
<polygon points="147.3,622.6 155.0,623.6 151.3,619.7 143.6,618.7" fill="#b4f700"/>
<polygon points="178.0,633.7 185.5,634.7 181.6,630.6 174.1,629.6" fill="#81f700"/>
<polygon points="135.9,617.7 143.6,618.7 139.9,614.7 132.2,613.7" fill="#c5f700"/>
<polygon points="166.5,628.7 174.1,629.6 170.2,625.6 162.6,624.6" fill="#92f700"/>
<polygon points="197.0,639.8 204.5,640.7 200.4,636.5 193.0,635.6" fill="#5ef700"/>
<polygon points="124.5,612.7 132.2,613.7 128.6,609.9 120.9,608.9" fill="#d6f700"/>
<polygon points="155.0,623.6 162.6,624.6 158.8,620.6 151.3,619.7" fill="#a3f700"/>
<polygon points="185.5,634.7 193.0,635.6 189.0,631.5 181.6,630.6" fill="#6ff700"/>
<polygon points="143.6,618.7 151.3,619.7 147.5,615.7 139.9,614.7" fill="#b4f700"/>
<polygon points="174.1,629.6 181.6,630.6 177.7,626.5 170.2,625.6" fill="#81f700"/>
<polygon points="204.5,640.7 211.8,641.6 207.8,637.5 200.4,636.5" fill="#4df700"/>
<polygon points="132.2,613.7 139.9,614.7 136.3,610.9 128.6,609.9" fill="#c4f700"/>
<polygon points="162.6,624.6 170.2,625.6 166.4,621.6 158.8,620.6" fill="#91f700"/>
<polygon points="193.0,635.6 200.4,636.5 196.4,632.5 189.0,631.5" fill="#5ef700"/>
<polygon points="120.9,608.9 128.6,609.9 125.0,606.1 117.4,605.1" fill="#d5f700"/>
<polygon points="151.3,619.7 158.8,620.6 155.1,616.7 147.5,615.7" fill="#a2f700"/>
<polygon points="181.6,630.6 189.0,631.5 185.1,627.5 177.7,626.5" fill="#6ff700"/>
<polygon points="211.8,641.6 219.2,642.5 215.1,638.4 207.8,637.5" fill="#3bf700"/>
<polygon points="139.9,614.7 147.5,615.7 143.9,611.9 136.3,610.9" fill="#b3f700"/>
<polygon points="170.2,625.6 177.7,626.5 173.8,622.6 166.4,621.6" fill="#80f700"/>
<polygon points="200.4,636.5 207.8,637.5 203.8,633.4 196.4,632.5" fill="#4cf700"/>
<polygon points="128.6,609.9 136.3,610.9 132.7,607.1 125.0,606.1" fill="#c3f700"/>
<polygon points="158.8,620.6 166.4,621.6 162.6,617.7 155.1,616.7" fill="#91f700"/>
<polygon points="189.0,631.5 196.4,632.5 192.5,628.4 185.1,627.5" fill="#5df700"/>
<polygon points="117.4,605.1 125.0,606.1 121.5,602.4 113.9,601.4" fill="#d3f700"/>
<polygon points="219.2,642.5 226.4,643.4 222.3,639.3 215.1,638.4" fill="#29f700"/>
<polygon points="147.5,615.7 155.1,616.7 151.4,612.9 143.9,611.9" fill="#a1f700"/>
<polygon points="177.7,626.5 185.1,627.5 181.2,623.5 173.8,622.6" fill="#6ef700"/>
<polygon points="207.8,637.5 215.1,638.4 211.0,634.3 203.8,633.4" fill="#3bf700"/>
<polygon points="136.3,610.9 143.9,611.9 140.2,608.1 132.7,607.1" fill="#b2f700"/>
<polygon points="166.4,621.6 173.8,622.6 170.0,618.7 162.6,617.7" fill="#7ff700"/>
<polygon points="196.4,632.5 203.8,633.4 199.8,629.4 192.5,628.4" fill="#4cf700"/>
<polygon points="125.0,606.1 132.7,607.1 129.1,603.4 121.5,602.4" fill="#c2f700"/>
<polygon points="226.4,643.4 233.6,644.3 229.5,640.2 222.3,639.3" fill="#18f700"/>
<polygon points="155.1,616.7 162.6,617.7 158.9,613.9 151.4,612.9" fill="#90f700"/>
<polygon points="185.1,627.5 192.5,628.4 188.6,624.5 181.2,623.5" fill="#5df700"/>
<polygon points="113.9,601.4 121.5,602.4 118.0,598.8 110.4,597.7" fill="#d2f700"/>
<polygon points="215.1,638.4 222.3,639.3 218.2,635.2 211.0,634.3" fill="#29f700"/>
<polygon points="143.9,611.9 151.4,612.9 147.7,609.2 140.2,608.1" fill="#a0f700"/>
<polygon points="173.8,622.6 181.2,623.5 177.4,619.7 170.0,618.7" fill="#6ef700"/>
<polygon points="203.8,633.4 211.0,634.3 207.0,630.3 199.8,629.4" fill="#3af700"/>
<polygon points="132.7,607.1 140.2,608.1 136.7,604.5 129.1,603.4" fill="#b1f700"/>
<polygon points="233.6,644.3 240.8,645.2 236.6,641.1 229.5,640.2" fill="#06f700"/>
<polygon points="162.6,617.7 170.0,618.7 166.3,614.9 158.9,613.9" fill="#7ef700"/>
<polygon points="192.5,628.4 199.8,629.4 195.9,625.4 188.6,624.5" fill="#4bf700"/>
<polygon points="121.5,602.4 129.1,603.4 125.6,599.8 118.0,598.8" fill="#c1f700"/>
<polygon points="222.3,639.3 229.5,640.2 225.4,636.1 218.2,635.2" fill="#18f700"/>
<polygon points="151.4,612.9 158.9,613.9 155.2,610.1 147.7,609.2" fill="#8ff700"/>
<polygon points="181.2,623.5 188.6,624.5 184.7,620.6 177.4,619.7" fill="#5cf700"/>
<polygon points="110.4,597.7 118.0,598.8 114.6,595.2 107.0,594.2" fill="#d0f700"/>
<polygon points="211.0,634.3 218.2,635.2 214.2,631.2 207.0,630.3" fill="#29f700"/>
<polygon points="140.2,608.1 147.7,609.2 144.1,605.5 136.7,604.5" fill="#9ff700"/>
<polygon points="240.8,645.2 247.9,646.1 243.7,642.0 236.6,641.1" fill="#00f70f"/>
<polygon points="170.0,618.7 177.4,619.7 173.6,615.9 166.3,614.9" fill="#6df700"/>
<polygon points="199.8,629.4 207.0,630.3 203.1,626.4 195.9,625.4" fill="#3af700"/>
<polygon points="129.1,603.4 136.7,604.5 133.1,600.8 125.6,599.8" fill="#aff700"/>
<polygon points="229.5,640.2 236.6,641.1 232.5,637.0 225.4,636.1" fill="#06f700"/>
<polygon points="158.9,613.9 166.3,614.9 162.6,611.1 155.2,610.1" fill="#7df700"/>
<polygon points="188.6,624.5 195.9,625.4 192.0,621.6 184.7,620.6" fill="#4bf700"/>
<polygon points="118.0,598.8 125.6,599.8 122.1,596.2 114.6,595.2" fill="#bff700"/>
<polygon points="218.2,635.2 225.4,636.1 221.3,632.2 214.2,631.2" fill="#17f700"/>
<polygon points="147.7,609.2 155.2,610.1 151.5,606.5 144.1,605.5" fill="#8ef700"/>
<polygon points="247.9,646.1 254.9,647.0 250.7,642.9 243.7,642.0" fill="#00f727"/>
<polygon points="177.4,619.7 184.7,620.6 180.9,616.8 173.6,615.9" fill="#5bf700"/>
<polygon points="107.0,594.2 114.6,595.2 111.2,591.7 103.6,590.6" fill="#cff700"/>
<polygon points="207.0,630.3 214.2,631.2 210.2,627.3 203.1,626.4" fill="#28f700"/>
<polygon points="136.7,604.5 144.1,605.5 140.6,601.8 133.1,600.8" fill="#9ef700"/>
<polygon points="236.6,641.1 243.7,642.0 239.5,637.9 232.5,637.0" fill="#00f70f"/>
<polygon points="166.3,614.9 173.6,615.9 169.9,612.1 162.6,611.1" fill="#6cf700"/>
<polygon points="195.9,625.4 203.1,626.4 199.2,622.5 192.0,621.6" fill="#39f700"/>
<polygon points="125.6,599.8 133.1,600.8 129.6,597.3 122.1,596.2" fill="#aef700"/>
<polygon points="225.4,636.1 232.5,637.0 228.4,633.1 221.3,632.2" fill="#06f700"/>
<polygon points="155.2,610.1 162.6,611.1 158.9,607.5 151.5,606.5" fill="#7cf700"/>
<polygon points="254.9,647.0 261.8,647.8 257.6,643.7 250.7,642.9" fill="#00f73e"/>
<polygon points="184.7,620.6 192.0,621.6 188.1,617.8 180.9,616.8" fill="#4af700"/>
<polygon points="114.6,595.2 122.1,596.2 118.7,592.7 111.2,591.7" fill="#bdf700"/>
<polygon points="214.2,631.2 221.3,632.2 217.3,628.2 210.2,627.3" fill="#17f700"/>
<polygon points="144.1,605.5 151.5,606.5 147.9,602.9 140.6,601.8" fill="#8cf700"/>
<polygon points="243.7,642.0 250.7,642.9 246.5,638.8 239.5,637.9" fill="#00f727"/>
<polygon points="173.6,615.9 180.9,616.8 177.1,613.1 169.9,612.1" fill="#5bf700"/>
<polygon points="103.6,590.6 111.2,591.7 107.8,588.3 100.3,587.2" fill="#cdf700"/>
<polygon points="203.1,626.4 210.2,627.3 206.3,623.5 199.2,622.5" fill="#28f700"/>
<polygon points="133.1,600.8 140.6,601.8 137.0,598.3 129.6,597.3" fill="#9cf700"/>
<polygon points="232.5,637.0 239.5,637.9 235.4,634.0 228.4,633.1" fill="#00f710"/>
<polygon points="162.6,611.1 169.9,612.1 166.2,608.5 158.9,607.5" fill="#6bf700"/>
<polygon points="261.8,647.8 268.8,648.7 264.5,644.6 257.6,643.7" fill="#00f756"/>
<polygon points="192.0,621.6 199.2,622.5 195.3,618.7 188.1,617.8" fill="#39f700"/>
<polygon points="122.1,596.2 129.6,597.3 126.2,593.8 118.7,592.7" fill="#acf700"/>
<polygon points="221.3,632.2 228.4,633.1 224.4,629.2 217.3,628.2" fill="#05f700"/>
<polygon points="151.5,606.5 158.9,607.5 155.3,603.9 147.9,602.9" fill="#7bf700"/>
<polygon points="250.7,642.9 257.6,643.7 253.4,639.7 246.5,638.8" fill="#00f73e"/>
<polygon points="180.9,616.8 188.1,617.8 184.3,614.1 177.1,613.1" fill="#49f700"/>
<polygon points="111.2,591.7 118.7,592.7 115.3,589.3 107.8,588.3" fill="#bcf700"/>
<polygon points="210.2,627.3 217.3,628.2 213.4,624.4 206.3,623.5" fill="#16f700"/>
<polygon points="140.6,601.8 147.9,602.9 144.4,599.3 137.0,598.3" fill="#8bf700"/>
<polygon points="239.5,637.9 246.5,638.8 242.4,634.9 235.4,634.0" fill="#00f727"/>
<polygon points="169.9,612.1 177.1,613.1 173.4,609.4 166.2,608.5" fill="#59f700"/>
<polygon points="100.3,587.2 107.8,588.3 104.5,584.9 97.0,583.8" fill="#cbf700"/>
<polygon points="268.8,648.7 275.6,649.5 271.3,645.5 264.5,644.6" fill="#00f76d"/>
<polygon points="199.2,622.5 206.3,623.5 202.4,619.7 195.3,618.7" fill="#27f700"/>
<polygon points="129.6,597.3 137.0,598.3 133.5,594.8 126.2,593.8" fill="#9bf700"/>
<polygon points="228.4,633.1 235.4,634.0 231.4,630.1 224.4,629.2" fill="#00f710"/>
<polygon points="158.9,607.5 166.2,608.5 162.5,604.8 155.3,603.9" fill="#6af700"/>
<polygon points="257.6,643.7 264.5,644.6 260.3,640.6 253.4,639.7" fill="#00f756"/>
<polygon points="188.1,617.8 195.3,618.7 191.5,615.0 184.3,614.1" fill="#38f700"/>
<polygon points="118.7,592.7 126.2,593.8 122.7,590.3 115.3,589.3" fill="#aaf700"/>
<polygon points="217.3,628.2 224.4,629.2 220.4,625.3 213.4,624.4" fill="#05f700"/>
<polygon points="147.9,602.9 155.3,603.9 151.7,600.3 144.4,599.3" fill="#7af700"/>
<polygon points="246.5,638.8 253.4,639.7 249.3,635.8 242.4,634.9" fill="#00f73f"/>
<polygon points="177.1,613.1 184.3,614.1 180.6,610.4 173.4,609.4" fill="#48f700"/>
<polygon points="107.8,588.3 115.3,589.3 112.0,585.9 104.5,584.9" fill="#baf700"/>
<polygon points="275.6,649.5 282.4,650.4 278.1,646.3 271.3,645.5" fill="#00f785"/>
<polygon points="206.3,623.5 213.4,624.4 209.5,620.6 202.4,619.7" fill="#16f700"/>
<polygon points="137.0,598.3 144.4,599.3 140.9,595.8 133.5,594.8" fill="#89f700"/>
<polygon points="235.4,634.0 242.4,634.9 238.3,631.0 231.4,630.1" fill="#00f728"/>
<polygon points="166.2,608.5 173.4,609.4 169.7,605.8 162.5,604.8" fill="#58f700"/>
<polygon points="97.0,583.8 104.5,584.9 101.2,581.6 93.8,580.5" fill="#c9f700"/>
<polygon points="264.5,644.6 271.3,645.5 267.1,641.5 260.3,640.6" fill="#00f76d"/>
<polygon points="195.3,618.7 202.4,619.7 198.6,616.0 191.5,615.0" fill="#26f700"/>
<polygon points="126.2,593.8 133.5,594.8 130.1,591.4 122.7,590.3" fill="#99f700"/>
<polygon points="224.4,629.2 231.4,630.1 227.4,626.3 220.4,625.3" fill="#00f711"/>
<polygon points="155.3,603.9 162.5,604.8 158.9,601.3 151.7,600.3" fill="#68f700"/>
<polygon points="253.4,639.7 260.3,640.6 256.1,636.7 249.3,635.8" fill="#00f756"/>
<polygon points="184.3,614.1 191.5,615.0 187.7,611.4 180.6,610.4" fill="#37f700"/>
<polygon points="115.3,589.3 122.7,590.3 119.4,587.0 112.0,585.9" fill="#a8f700"/>
<polygon points="282.4,650.4 289.2,651.2 284.8,647.2 278.1,646.3" fill="#00f79d"/>
<polygon points="213.4,624.4 220.4,625.3 216.5,621.6 209.5,620.6" fill="#04f700"/>
<polygon points="144.4,599.3 151.7,600.3 148.1,596.8 140.9,595.8" fill="#78f700"/>
<polygon points="242.4,634.9 249.3,635.8 245.2,631.9 238.3,631.0" fill="#00f73f"/>
<polygon points="173.4,609.4 180.6,610.4 176.9,606.8 169.7,605.8" fill="#47f700"/>
<polygon points="104.5,584.9 112.0,585.9 108.7,582.6 101.2,581.6" fill="#b8f700"/>
<polygon points="271.3,645.5 278.1,646.3 273.9,642.3 267.1,641.5" fill="#00f785"/>
<polygon points="202.4,619.7 209.5,620.6 205.6,616.9 198.6,616.0" fill="#15f700"/>
<polygon points="133.5,594.8 140.9,595.8 137.4,592.4 130.1,591.4" fill="#88f700"/>
<polygon points="231.4,630.1 238.3,631.0 234.3,627.2 227.4,626.3" fill="#00f728"/>
<polygon points="162.5,604.8 169.7,605.8 166.1,602.3 158.9,601.3" fill="#57f700"/>
<polygon points="260.3,640.6 267.1,641.5 262.9,637.5 256.1,636.7" fill="#00f76e"/>
<polygon points="93.8,580.5 101.2,581.6 98.0,578.3 90.5,577.3" fill="#c7f700"/>
<polygon points="191.5,615.0 198.6,616.0 194.8,612.3 187.7,611.4" fill="#25f700"/>
<polygon points="122.7,590.3 130.1,591.4 126.7,588.0 119.4,587.0" fill="#97f700"/>
<polygon points="289.2,651.2 295.8,652.1 291.5,648.0 284.8,647.2" fill="#00f7b4"/>
<polygon points="220.4,625.3 227.4,626.3 223.4,622.5 216.5,621.6" fill="#00f712"/>
<polygon points="151.7,600.3 158.9,601.3 155.3,597.8 148.1,596.8" fill="#67f700"/>
<polygon points="249.3,635.8 256.1,636.7 252.0,632.8 245.2,631.9" fill="#00f757"/>
<polygon points="180.6,610.4 187.7,611.4 184.0,607.8 176.9,606.8" fill="#35f700"/>
<polygon points="112.0,585.9 119.4,587.0 116.0,583.7 108.7,582.6" fill="#a6f700"/>
<polygon points="278.1,646.3 284.8,647.2 280.6,643.2 273.9,642.3" fill="#00f79d"/>
<polygon points="209.5,620.6 216.5,621.6 212.6,617.9 205.6,616.9" fill="#03f700"/>
<polygon points="140.9,595.8 148.1,596.8 144.6,593.4 137.4,592.4" fill="#76f700"/>
<polygon points="238.3,631.0 245.2,631.9 241.1,628.1 234.3,627.2" fill="#00f740"/>
<polygon points="169.7,605.8 176.9,606.8 173.2,603.3 166.1,602.3" fill="#45f700"/>
<polygon points="267.1,641.5 273.9,642.3 269.6,638.4 262.9,637.5" fill="#00f785"/>
<polygon points="101.2,581.6 108.7,582.6 105.4,579.4 98.0,578.3" fill="#b5f700"/>
<polygon points="198.6,616.0 205.6,616.9 201.8,613.3 194.8,612.3" fill="#14f700"/>
<polygon points="130.1,591.4 137.4,592.4 134.0,589.0 126.7,588.0" fill="#86f700"/>
<polygon points="295.8,652.1 302.5,652.9 298.1,648.9 291.5,648.0" fill="#00f7cc"/>
<polygon points="227.4,626.3 234.3,627.2 230.3,623.4 223.4,622.5" fill="#00f729"/>
<polygon points="158.9,601.3 166.1,602.3 162.5,598.8 155.3,597.8" fill="#55f700"/>
<polygon points="256.1,636.7 262.9,637.5 258.8,633.7 252.0,632.8" fill="#00f76e"/>
<polygon points="90.5,577.3 98.0,578.3 94.8,575.1 87.4,574.1" fill="#c4f700"/>
<polygon points="187.7,611.4 194.8,612.3 191.0,608.8 184.0,607.8" fill="#24f700"/>
<polygon points="119.4,587.0 126.7,588.0 123.3,584.7 116.0,583.7" fill="#95f700"/>
<polygon points="284.8,647.2 291.5,648.0 287.2,644.0 280.6,643.2" fill="#00f7b4"/>
<polygon points="216.5,621.6 223.4,622.5 219.5,618.8 212.6,617.9" fill="#00f713"/>
<polygon points="148.1,596.8 155.3,597.8 151.8,594.4 144.6,593.4" fill="#65f700"/>
<polygon points="245.2,631.9 252.0,632.8 247.9,629.0 241.1,628.1" fill="#00f757"/>
<polygon points="176.9,606.8 184.0,607.8 180.3,604.3 173.2,603.3" fill="#34f700"/>
<polygon points="273.9,642.3 280.6,643.2 276.3,639.3 269.6,638.4" fill="#00f79d"/>
<polygon points="108.7,582.6 116.0,583.7 112.7,580.4 105.4,579.4" fill="#a4f700"/>
<polygon points="205.6,616.9 212.6,617.9 208.7,614.2 201.8,613.3" fill="#02f700"/>
<polygon points="137.4,592.4 144.6,593.4 141.2,590.1 134.0,589.0" fill="#74f700"/>
<polygon points="302.5,652.9 309.1,653.7 304.7,649.7 298.1,648.9" fill="#00f7e3"/>
<polygon points="234.3,627.2 241.1,628.1 237.1,624.3 230.3,623.4" fill="#00f741"/>
<polygon points="166.1,602.3 173.2,603.3 169.6,599.8 162.5,598.8" fill="#44f700"/>
<polygon points="262.9,637.5 269.6,638.4 265.5,634.5 258.8,633.7" fill="#00f786"/>
<polygon points="98.0,578.3 105.4,579.4 102.1,576.2 94.8,575.1" fill="#b3f700"/>
<polygon points="194.8,612.3 201.8,613.3 198.0,609.7 191.0,608.8" fill="#13f700"/>
<polygon points="126.7,588.0 134.0,589.0 130.6,585.7 123.3,584.7" fill="#84f700"/>
<polygon points="291.5,648.0 298.1,648.9 293.8,644.9 287.2,644.0" fill="#00f7cc"/>
<polygon points="223.4,622.5 230.3,623.4 226.4,619.7 219.5,618.8" fill="#00f72a"/>
<polygon points="155.3,597.8 162.5,598.8 158.9,595.4 151.8,594.4" fill="#54f700"/>
<polygon points="252.0,632.8 258.8,633.7 254.7,629.9 247.9,629.0" fill="#00f76f"/>
<polygon points="184.0,607.8 191.0,608.8 187.3,605.2 180.3,604.3" fill="#23f700"/>
<polygon points="87.4,574.1 94.8,575.1 91.6,572.0 84.2,570.9" fill="#c2f700"/>
<polygon points="280.6,643.2 287.2,644.0 283.0,640.1 276.3,639.3" fill="#00f7b4"/>
<polygon points="116.0,583.7 123.3,584.7 120.0,581.5 112.7,580.4" fill="#93f700"/>
<polygon points="212.6,617.9 219.5,618.8 215.6,615.2 208.7,614.2" fill="#00f714"/>
<polygon points="144.6,593.4 151.8,594.4 148.3,591.1 141.2,590.1" fill="#63f700"/>
<polygon points="309.1,653.7 315.6,654.5 311.2,650.5 304.7,649.7" fill="#00f5f7"/>
<polygon points="241.1,628.1 247.9,629.0 243.9,625.2 237.1,624.3" fill="#00f758"/>
<polygon points="173.2,603.3 180.3,604.3 176.6,600.8 169.6,599.8" fill="#33f700"/>
<polygon points="269.6,638.4 276.3,639.3 272.1,635.4 265.5,634.5" fill="#00f79d"/>
<polygon points="105.4,579.4 112.7,580.4 109.4,577.3 102.1,576.2" fill="#a2f700"/>
<polygon points="201.8,613.3 208.7,614.2 204.9,610.7 198.0,609.7" fill="#01f700"/>
<polygon points="134.0,589.0 141.2,590.1 137.7,586.8 130.6,585.7" fill="#72f700"/>
<polygon points="298.1,648.9 304.7,649.7 300.3,645.7 293.8,644.9" fill="#00f7e3"/>
<polygon points="230.3,623.4 237.1,624.3 233.2,620.6 226.4,619.7" fill="#00f742"/>
<polygon points="162.5,598.8 169.6,599.8 166.0,596.4 158.9,595.4" fill="#42f700"/>
<polygon points="258.8,633.7 265.5,634.5 261.4,630.8 254.7,629.9" fill="#00f786"/>
<polygon points="191.0,608.8 198.0,609.7 194.3,606.2 187.3,605.2" fill="#11f700"/>
<polygon points="94.8,575.1 102.1,576.2 98.9,573.1 91.6,572.0" fill="#b1f700"/>
<polygon points="123.3,584.7 130.6,585.7 127.2,582.5 120.0,581.5" fill="#82f700"/>
<polygon points="287.2,644.0 293.8,644.9 289.5,641.0 283.0,640.1" fill="#00f7cc"/>
<polygon points="219.5,618.8 226.4,619.7 222.5,616.1 215.6,615.2" fill="#00f72c"/>
<polygon points="151.8,594.4 158.9,595.4 155.4,592.1 148.3,591.1" fill="#52f700"/>
<polygon points="315.6,654.5 322.1,655.3 317.6,651.3 311.2,650.5" fill="#00e2f7"/>
<polygon points="247.9,629.0 254.7,629.9 250.6,626.1 243.9,625.2" fill="#00f770"/>
<polygon points="180.3,604.3 187.3,605.2 183.6,601.8 176.6,600.8" fill="#21f700"/>
<polygon points="84.2,570.9 91.6,572.0 88.5,568.9 81.1,567.9" fill="#bff700"/>
<polygon points="276.3,639.3 283.0,640.1 278.8,636.3 272.1,635.4" fill="#00f7b5"/>
<polygon points="112.7,580.4 120.0,581.5 116.7,578.3 109.4,577.3" fill="#91f700"/>
<polygon points="208.7,614.2 215.6,615.2 211.8,611.6 204.9,610.7" fill="#00f716"/>
<polygon points="141.2,590.1 148.3,591.1 144.9,587.8 137.7,586.8" fill="#61f700"/>
<polygon points="304.7,649.7 311.2,650.5 306.8,646.6 300.3,645.7" fill="#00f5f7"/>
<polygon points="237.1,624.3 243.9,625.2 239.9,621.6 233.2,620.6" fill="#00f759"/>
<polygon points="169.6,599.8 176.6,600.8 173.0,597.4 166.0,596.4" fill="#31f700"/>
<polygon points="265.5,634.5 272.1,635.4 268.0,631.6 261.4,630.8" fill="#00f79e"/>
<polygon points="198.0,609.7 204.9,610.7 201.2,607.2 194.3,606.2" fill="#00f700"/>
<polygon points="102.1,576.2 109.4,577.3 106.2,574.1 98.9,573.1" fill="#9ff700"/>
<polygon points="130.6,585.7 137.7,586.8 134.4,583.5 127.2,582.5" fill="#70f700"/>
<polygon points="293.8,644.9 300.3,645.7 296.1,641.8 289.5,641.0" fill="#00f7e3"/>
<polygon points="226.4,619.7 233.2,620.6 229.3,617.0 222.5,616.1" fill="#00f743"/>
<polygon points="158.9,595.4 166.0,596.4 162.5,593.1 155.4,592.1" fill="#40f700"/>
<polygon points="322.1,655.3 328.5,656.2 324.1,652.1 317.6,651.3" fill="#00cff7"/>
<polygon points="254.7,629.9 261.4,630.8 257.3,627.0 250.6,626.1" fill="#00f787"/>
<polygon points="187.3,605.2 194.3,606.2 190.6,602.7 183.6,601.8" fill="#10f700"/>
<polygon points="91.6,572.0 98.9,573.1 95.8,570.0 88.5,568.9" fill="#aef700"/>
<polygon points="283.0,640.1 289.5,641.0 285.3,637.1 278.8,636.3" fill="#00f7cc"/>
<polygon points="120.0,581.5 127.2,582.5 123.9,579.3 116.7,578.3" fill="#7ff700"/>
<polygon points="215.6,615.2 222.5,616.1 218.6,612.5 211.8,611.6" fill="#00f72d"/>
<polygon points="148.3,591.1 155.4,592.1 152.0,588.8 144.9,587.8" fill="#50f700"/>
<polygon points="311.2,650.5 317.6,651.3 313.3,647.4 306.8,646.6" fill="#00e2f7"/>
<polygon points="243.9,625.2 250.6,626.1 246.6,622.5 239.9,621.6" fill="#00f771"/>
<polygon points="176.6,600.8 183.6,601.8 180.0,598.4 173.0,597.4" fill="#20f700"/>
<polygon points="81.1,567.9 88.5,568.9 85.4,565.9 78.1,564.9" fill="#bcf700"/>
<polygon points="272.1,635.4 278.8,636.3 274.6,632.5 268.0,631.6" fill="#00f7b5"/>
<polygon points="204.9,610.7 211.8,611.6 208.0,608.1 201.2,607.2" fill="#00f718"/>
<polygon points="109.4,577.3 116.7,578.3 113.4,575.2 106.2,574.1" fill="#8ef700"/>
<polygon points="137.7,586.8 144.9,587.8 141.5,584.6 134.4,583.5" fill="#5ff700"/>
<polygon points="300.3,645.7 306.8,646.6 302.5,642.7 296.1,641.8" fill="#00f5f7"/>
<polygon points="233.2,620.6 239.9,621.6 236.0,617.9 229.3,617.0" fill="#00f75b"/>
<polygon points="166.0,596.4 173.0,597.4 169.5,594.1 162.5,593.1" fill="#2ff700"/>
<polygon points="328.5,656.2 334.9,657.0 330.4,653.0 324.1,652.1" fill="#00bcf7"/>
<polygon points="261.4,630.8 268.0,631.6 263.9,627.9 257.3,627.0" fill="#00f79f"/>
<polygon points="194.3,606.2 201.2,607.2 197.4,603.7 190.6,602.7" fill="#00f702"/>
<polygon points="98.9,573.1 106.2,574.1 103.0,571.1 95.8,570.0" fill="#9df700"/>
<polygon points="289.5,641.0 296.1,641.8 291.8,638.0 285.3,637.1" fill="#00f7e4"/>
<polygon points="127.2,582.5 134.4,583.5 131.0,580.4 123.9,579.3" fill="#6ef700"/>
<polygon points="222.5,616.1 229.3,617.0 225.4,613.5 218.6,612.5" fill="#00f745"/>
<polygon points="155.4,592.1 162.5,593.1 159.0,589.8 152.0,588.8" fill="#3ff700"/>
<polygon points="317.6,651.3 324.1,652.1 319.7,648.2 313.3,647.4" fill="#00cff7"/>
<polygon points="250.6,626.1 257.3,627.0 253.3,623.4 246.6,622.5" fill="#00f788"/>
<polygon points="183.6,601.8 190.6,602.7 186.9,599.4 180.0,598.4" fill="#0ef700"/>
<polygon points="88.5,568.9 95.8,570.0 92.7,567.0 85.4,565.9" fill="#abf700"/>
<polygon points="278.8,636.3 285.3,637.1 281.1,633.4 274.6,632.5" fill="#00f7cd"/>
<polygon points="116.7,578.3 123.9,579.3 120.6,576.2 113.4,575.2" fill="#7df700"/>
<polygon points="211.8,611.6 218.6,612.5 214.8,609.0 208.0,608.1" fill="#00f72f"/>
<polygon points="144.9,587.8 152.0,588.8 148.5,585.6 141.5,584.6" fill="#4ef700"/>
<polygon points="306.8,646.6 313.3,647.4 309.0,643.5 302.5,642.7" fill="#00e2f7"/>
<polygon points="239.9,621.6 246.6,622.5 242.7,618.9 236.0,617.9" fill="#00f772"/>
<polygon points="173.0,597.4 180.0,598.4 176.4,595.1 169.5,594.1" fill="#1ef700"/>
<polygon points="78.1,564.9 85.4,565.9 82.3,563.0 75.0,561.9" fill="#b9f700"/>
<polygon points="268.0,631.6 274.6,632.5 270.5,628.8 263.9,627.9" fill="#00f7b6"/>
<polygon points="334.9,657.0 341.2,657.7 336.7,653.8 330.4,653.0" fill="#00aaf7"/>
<polygon points="201.2,607.2 208.0,608.1 204.3,604.7 197.4,603.7" fill="#00f719"/>
<polygon points="106.2,574.1 113.4,575.2 110.2,572.1 103.0,571.1" fill="#8cf700"/>
<polygon points="296.1,641.8 302.5,642.7 298.3,638.8 291.8,638.0" fill="#00f4f7"/>
<polygon points="134.4,583.5 141.5,584.6 138.1,581.4 131.0,580.4" fill="#5df700"/>
<polygon points="229.3,617.0 236.0,617.9 232.1,614.4 225.4,613.5" fill="#00f75c"/>
<polygon points="162.5,593.1 169.5,594.1 165.9,590.8 159.0,589.8" fill="#2df700"/>
<polygon points="324.1,652.1 330.4,653.0 326.0,649.0 319.7,648.2" fill="#00bcf7"/>
<polygon points="257.3,627.0 263.9,627.9 259.9,624.3 253.3,623.4" fill="#00f7a0"/>
<polygon points="190.6,602.7 197.4,603.7 193.8,600.3 186.9,599.4" fill="#00f704"/>
<polygon points="95.8,570.0 103.0,571.1 99.9,568.1 92.7,567.0" fill="#9af700"/>
<polygon points="285.3,637.1 291.8,638.0 287.6,634.2 281.1,633.4" fill="#00f7e4"/>
<polygon points="123.9,579.3 131.0,580.4 127.7,577.3 120.6,576.2" fill="#6cf700"/>
<polygon points="218.6,612.5 225.4,613.5 221.5,610.0 214.8,609.0" fill="#00f746"/>
<polygon points="152.0,588.8 159.0,589.8 155.5,586.6 148.5,585.6" fill="#3cf700"/>
<polygon points="313.3,647.4 319.7,648.2 315.3,644.3 309.0,643.5" fill="#00cff7"/>
<polygon points="246.6,622.5 253.3,623.4 249.3,619.8 242.7,618.9" fill="#00f789"/>
<polygon points="180.0,598.4 186.9,599.4 183.3,596.0 176.4,595.1" fill="#0cf700"/>
<polygon points="85.4,565.9 92.7,567.0 89.6,564.1 82.3,563.0" fill="#a8f700"/>
<polygon points="274.6,632.5 281.1,633.4 277.0,629.7 270.5,628.8" fill="#00f7cd"/>
<polygon points="208.0,608.1 214.8,609.0 211.0,605.6 204.3,604.7" fill="#00f731"/>
<polygon points="113.4,575.2 120.6,576.2 117.4,573.2 110.2,572.1" fill="#7af700"/>
<polygon points="302.5,642.7 309.0,643.5 304.7,639.7 298.3,638.8" fill="#00e2f7"/>
<polygon points="141.5,584.6 148.5,585.6 145.1,582.4 138.1,581.4" fill="#4cf700"/>
<polygon points="236.0,617.9 242.7,618.9 238.7,615.3 232.1,614.4" fill="#00f773"/>
<polygon points="169.5,594.1 176.4,595.1 172.9,591.8 165.9,590.8" fill="#1cf700"/>
<polygon points="330.4,653.0 336.7,653.8 332.3,649.8 326.0,649.0" fill="#00aaf7"/>
<polygon points="263.9,627.9 270.5,628.8 266.4,625.1 259.9,624.3" fill="#00f7b7"/>
<polygon points="75.0,561.9 82.3,563.0 79.3,560.1 72.0,559.0" fill="#b6f700"/>
<polygon points="197.4,603.7 204.3,604.7 200.6,601.3 193.8,600.3" fill="#00f71c"/>
<polygon points="103.0,571.1 110.2,572.1 107.0,569.1 99.9,568.1" fill="#89f700"/>
<polygon points="291.8,638.0 298.3,638.8 294.1,635.1 287.6,634.2" fill="#00f4f7"/>
<polygon points="131.0,580.4 138.1,581.4 134.8,578.3 127.7,577.3" fill="#5af700"/>
<polygon points="225.4,613.5 232.1,614.4 228.2,610.9 221.5,610.0" fill="#00f75e"/>
<polygon points="159.0,589.8 165.9,590.8 162.4,587.6 155.5,586.6" fill="#2bf700"/>
<polygon points="319.7,648.2 326.0,649.0 321.7,645.2 315.3,644.3" fill="#00bcf7"/>
<polygon points="253.3,623.4 259.9,624.3 255.9,620.7 249.3,619.8" fill="#00f7a1"/>
<polygon points="186.9,599.4 193.8,600.3 190.1,597.0 183.3,596.0" fill="#00f707"/>
<polygon points="92.7,567.0 99.9,568.1 96.8,565.1 89.6,564.1" fill="#97f700"/>
<polygon points="281.1,633.4 287.6,634.2 283.5,630.5 277.0,629.7" fill="#00f7e5"/>
<polygon points="214.8,609.0 221.5,610.0 217.8,606.6 211.0,605.6" fill="#00f748"/>
<polygon points="120.6,576.2 127.7,577.3 124.4,574.2 117.4,573.2" fill="#69f700"/>
<polygon points="309.0,643.5 315.3,644.3 311.0,640.5 304.7,639.7" fill="#00cff7"/>
<polygon points="148.5,585.6 155.5,586.6 152.1,583.4 145.1,582.4" fill="#3af700"/>
<polygon points="242.7,618.9 249.3,619.8 245.4,616.2 238.7,615.3" fill="#00f78b"/>
<polygon points="176.4,595.1 183.3,596.0 179.7,592.8 172.9,591.8" fill="#0bf700"/>
<polygon points="270.5,628.8 277.0,629.7 272.9,626.0 266.4,625.1" fill="#00f7ce"/>
<polygon points="82.3,563.0 89.6,564.1 86.5,561.2 79.3,560.1" fill="#a5f700"/>
<polygon points="204.3,604.7 211.0,605.6 207.3,602.2 200.6,601.3" fill="#00f733"/>
<polygon points="110.2,572.1 117.4,573.2 114.1,570.2 107.0,569.1" fill="#78f700"/>
<polygon points="298.3,638.8 304.7,639.7 300.4,635.9 294.1,635.1" fill="#00e1f7"/>
<polygon points="138.1,581.4 145.1,582.4 141.8,579.3 134.8,578.3" fill="#49f700"/>
<polygon points="232.1,614.4 238.7,615.3 234.9,611.8 228.2,610.9" fill="#00f775"/>
<polygon points="165.9,590.8 172.9,591.8 169.3,588.6 162.4,587.6" fill="#1af700"/>
<polygon points="326.0,649.0 332.3,649.8 327.9,646.0 321.7,645.2" fill="#00aaf7"/>
<polygon points="259.9,624.3 266.4,625.1 262.4,621.6 255.9,620.7" fill="#00f7b8"/>
<polygon points="72.0,559.0 79.3,560.1 76.3,557.2 69.1,556.2" fill="#b3f700"/>
<polygon points="193.8,600.3 200.6,601.3 196.9,598.0 190.1,597.0" fill="#00f71e"/>
<polygon points="99.9,568.1 107.0,569.1 103.9,566.2 96.8,565.1" fill="#86f700"/>
<polygon points="287.6,634.2 294.1,635.1 289.9,631.4 283.5,630.5" fill="#00f3f7"/>
<polygon points="221.5,610.0 228.2,610.9 224.4,607.5 217.8,606.6" fill="#00f75f"/>
<polygon points="127.7,577.3 134.8,578.3 131.5,575.2 124.4,574.2" fill="#58f700"/>
<polygon points="315.3,644.3 321.7,645.2 317.3,641.4 311.0,640.5" fill="#00bcf7"/>
<polygon points="155.5,586.6 162.4,587.6 159.0,584.4 152.1,583.4" fill="#29f700"/>
<polygon points="249.3,619.8 255.9,620.7 251.9,617.1 245.4,616.2" fill="#00f7a2"/>
<polygon points="183.3,596.0 190.1,597.0 186.5,593.7 179.7,592.8" fill="#00f709"/>
<polygon points="277.0,629.7 283.5,630.5 279.4,626.9 272.9,626.0" fill="#00f7e6"/>
<polygon points="89.6,564.1 96.8,565.1 93.7,562.2 86.5,561.2" fill="#94f700"/>
<polygon points="211.0,605.6 217.8,606.6 214.0,603.2 207.3,602.2" fill="#00f74a"/>
<polygon points="117.4,573.2 124.4,574.2 121.2,571.2 114.1,570.2" fill="#66f700"/>
<polygon points="304.7,639.7 311.0,640.5 306.8,636.8 300.4,635.9" fill="#00cff7"/>
<polygon points="145.1,582.4 152.1,583.4 148.7,580.3 141.8,579.3" fill="#38f700"/>
<polygon points="238.7,615.3 245.4,616.2 241.5,612.7 234.9,611.8" fill="#00f78c"/>
<polygon points="172.9,591.8 179.7,592.8 176.2,589.6 169.3,588.6" fill="#09f700"/>
<polygon points="266.4,625.1 272.9,626.0 268.9,622.4 262.4,621.6" fill="#00f7d0"/>
<polygon points="79.3,560.1 86.5,561.2 83.5,558.3 76.3,557.2" fill="#a2f700"/>
<polygon points="200.6,601.3 207.3,602.2 203.6,598.9 196.9,598.0" fill="#00f735"/>
<polygon points="107.0,569.1 114.1,570.2 111.0,567.2 103.9,566.2" fill="#75f700"/>
<polygon points="294.1,635.1 300.4,635.9 296.3,632.2 289.9,631.4" fill="#00e1f7"/>
<polygon points="228.2,610.9 234.9,611.8 231.0,608.4 224.4,607.5" fill="#00f777"/>
<polygon points="134.8,578.3 141.8,579.3 138.4,576.3 131.5,575.2" fill="#47f700"/>
<polygon points="321.7,645.2 327.9,646.0 323.6,642.2 317.3,641.4" fill="#00aaf7"/>
<polygon points="162.4,587.6 169.3,588.6 165.9,585.4 159.0,584.4" fill="#18f700"/>
<polygon points="255.9,620.7 262.4,621.6 258.4,618.0 251.9,617.1" fill="#00f7b9"/>
<polygon points="69.1,556.2 76.3,557.2 73.4,554.5 66.1,553.4" fill="#b0f700"/>
<polygon points="190.1,597.0 196.9,598.0 193.3,594.7 186.5,593.7" fill="#00f720"/>
<polygon points="96.8,565.1 103.9,566.2 100.8,563.3 93.7,562.2" fill="#83f700"/>
<polygon points="283.5,630.5 289.9,631.4 285.8,627.8 279.4,626.9" fill="#00f3f7"/>
<polygon points="217.8,606.6 224.4,607.5 220.7,604.1 214.0,603.2" fill="#00f761"/>
<polygon points="124.4,574.2 131.5,575.2 128.2,572.2 121.2,571.2" fill="#55f700"/>
<polygon points="311.0,640.5 317.3,641.4 313.1,637.6 306.8,636.8" fill="#00bcf7"/>
<polygon points="152.1,583.4 159.0,584.4 155.6,581.3 148.7,580.3" fill="#27f700"/>
<polygon points="245.4,616.2 251.9,617.1 248.0,613.7 241.5,612.7" fill="#00f7a4"/>
<polygon points="179.7,592.8 186.5,593.7 183.0,590.5 176.2,589.6" fill="#00f70c"/>
<polygon points="272.9,626.0 279.4,626.9 275.3,623.3 268.9,622.4" fill="#00f7e7"/>
<polygon points="86.5,561.2 93.7,562.2 90.6,559.4 83.5,558.3" fill="#91f700"/>
<polygon points="207.3,602.2 214.0,603.2 210.3,599.9 203.6,598.9" fill="#00f74c"/>
<polygon points="114.1,570.2 121.2,571.2 118.0,568.3 111.0,567.2" fill="#64f700"/>
<polygon points="300.4,635.9 306.8,636.8 302.6,633.1 296.3,632.2" fill="#00cef7"/>
<polygon points="234.9,611.8 241.5,612.7 237.6,609.3 231.0,608.4" fill="#00f78e"/>
<polygon points="141.8,579.3 148.7,580.3 145.3,577.3 138.4,576.3" fill="#35f700"/>
<polygon points="169.3,588.6 176.2,589.6 172.7,586.4 165.9,585.4" fill="#06f700"/>
<polygon points="262.4,621.6 268.9,622.4 264.9,618.9 258.4,618.0" fill="#00f7d1"/>
<polygon points="76.3,557.2 83.5,558.3 80.5,555.5 73.4,554.5" fill="#9ff700"/>
<polygon points="196.9,598.0 203.6,598.9 200.0,595.7 193.3,594.7" fill="#00f738"/>
<polygon points="103.9,566.2 111.0,567.2 107.8,564.3 100.8,563.3" fill="#72f700"/>
<polygon points="289.9,631.4 296.3,632.2 292.1,628.6 285.8,627.8" fill="#00e0f7"/>
<polygon points="224.4,607.5 231.0,608.4 227.2,605.1 220.7,604.1" fill="#00f779"/>
<polygon points="131.5,575.2 138.4,576.3 135.1,573.3 128.2,572.2" fill="#44f700"/>
<polygon points="317.3,641.4 323.6,642.2 319.3,638.4 313.1,637.6" fill="#00a9f7"/>
<polygon points="159.0,584.4 165.9,585.4 162.4,582.3 155.6,581.3" fill="#15f700"/>
<polygon points="251.9,617.1 258.4,618.0 254.5,614.6 248.0,613.7" fill="#00f7bb"/>
<polygon points="66.1,553.4 73.4,554.5 70.4,551.7 63.2,550.7" fill="#acf700"/>
<polygon points="186.5,593.7 193.3,594.7 189.7,591.5 183.0,590.5" fill="#00f723"/>
<polygon points="279.4,626.9 285.8,627.8 281.7,624.2 275.3,623.3" fill="#00f2f7"/>
<polygon points="93.7,562.2 100.8,563.3 97.7,560.5 90.6,559.4" fill="#80f700"/>
<polygon points="214.0,603.2 220.7,604.1 216.9,600.8 210.3,599.9" fill="#00f764"/>
<polygon points="121.2,571.2 128.2,572.2 125.0,569.3 118.0,568.3" fill="#52f700"/>
<polygon points="306.8,636.8 313.1,637.6 308.9,633.9 302.6,633.1" fill="#00bbf7"/>
<polygon points="241.5,612.7 248.0,613.7 244.1,610.2 237.6,609.3" fill="#00f7a5"/>
<polygon points="148.7,580.3 155.6,581.3 152.2,578.3 145.3,577.3" fill="#24f700"/>
<polygon points="176.2,589.6 183.0,590.5 179.4,587.4 172.7,586.4" fill="#00f70f"/>
<polygon points="268.9,622.4 275.3,623.3 271.3,619.8 264.9,618.9" fill="#00f7e8"/>
<polygon points="83.5,558.3 90.6,559.4 87.6,556.6 80.5,555.5" fill="#8ef700"/>
<polygon points="203.6,598.9 210.3,599.9 206.6,596.6 200.0,595.7" fill="#00f74f"/>
<polygon points="111.0,567.2 118.0,568.3 114.8,565.4 107.8,564.3" fill="#61f700"/>
<polygon points="296.3,632.2 302.6,633.1 298.4,629.5 292.1,628.6" fill="#00cdf7"/>
<polygon points="231.0,608.4 237.6,609.3 233.8,606.0 227.2,605.1" fill="#00f790"/>
<polygon points="138.4,576.3 145.3,577.3 142.0,574.3 135.1,573.3" fill="#33f700"/>
<polygon points="165.9,585.4 172.7,586.4 169.2,583.3 162.4,582.3" fill="#04f700"/>
<polygon points="258.4,618.0 264.9,618.9 260.9,615.5 254.5,614.6" fill="#00f7d2"/>
<polygon points="73.4,554.5 80.5,555.5 77.6,552.8 70.4,551.7" fill="#9bf700"/>
<polygon points="193.3,594.7 200.0,595.7 196.4,592.5 189.7,591.5" fill="#00f73a"/>
<polygon points="285.8,627.8 292.1,628.6 288.0,625.1 281.7,624.2" fill="#00dff7"/>
<polygon points="100.8,563.3 107.8,564.3 104.7,561.5 97.7,560.5" fill="#6ff700"/>
<polygon points="220.7,604.1 227.2,605.1 223.5,601.8 216.9,600.8" fill="#00f77b"/>
<polygon points="128.2,572.2 135.1,573.3 131.9,570.3 125.0,569.3" fill="#41f700"/>
<polygon points="313.1,637.6 319.3,638.4 315.1,634.8 308.9,633.9" fill="#00a9f7"/>
<polygon points="248.0,613.7 254.5,614.6 250.6,611.2 244.1,610.2" fill="#00f7bd"/>
<polygon points="155.6,581.3 162.4,582.3 159.0,579.3 152.2,578.3" fill="#13f700"/>
<polygon points="183.0,590.5 189.7,591.5 186.1,588.4 179.4,587.4" fill="#00f726"/>
<polygon points="63.2,550.7 70.4,551.7 67.5,549.1 60.4,548.0" fill="#a9f700"/>
<polygon points="275.3,623.3 281.7,624.2 277.7,620.7 271.3,619.8" fill="#00f1f7"/>
<polygon points="90.6,559.4 97.7,560.5 94.7,557.7 87.6,556.6" fill="#7cf700"/>
<polygon points="210.3,599.9 216.9,600.8 213.2,597.6 206.6,596.6" fill="#00f766"/>
<polygon points="118.0,568.3 125.0,569.3 121.8,566.4 114.8,565.4" fill="#4ff700"/>
<polygon points="302.6,633.1 308.9,633.9 304.7,630.3 298.4,629.5" fill="#00bbf7"/>
<polygon points="237.6,609.3 244.1,610.2 240.3,606.9 233.8,606.0" fill="#00f7a7"/>
<polygon points="145.3,577.3 152.2,578.3 148.9,575.3 142.0,574.3" fill="#22f700"/>
<polygon points="172.7,586.4 179.4,587.4 175.9,584.3 169.2,583.3" fill="#00f712"/>
<polygon points="264.9,618.9 271.3,619.8 267.3,616.3 260.9,615.5" fill="#00f7ea"/>
<polygon points="80.5,555.5 87.6,556.6 84.6,553.9 77.6,552.8" fill="#8af700"/>
<polygon points="200.0,595.7 206.6,596.6 203.0,593.4 196.4,592.5" fill="#00f751"/>
<polygon points="292.1,628.6 298.4,629.5 294.3,625.9 288.0,625.1" fill="#00cdf7"/>
<polygon points="107.8,564.3 114.8,565.4 111.7,562.6 104.7,561.5" fill="#5df700"/>
<polygon points="227.2,605.1 233.8,606.0 230.0,602.7 223.5,601.8" fill="#00f792"/>
<polygon points="135.1,573.3 142.0,574.3 138.8,571.4 131.9,570.3" fill="#30f700"/>
<polygon points="162.4,582.3 169.2,583.3 165.8,580.3 159.0,579.3" fill="#02f700"/>
<polygon points="254.5,614.6 260.9,615.5 257.0,612.1 250.6,611.2" fill="#00f7d4"/>
<polygon points="189.7,591.5 196.4,592.5 192.8,589.3 186.1,588.4" fill="#00f73d"/>
<polygon points="70.4,551.7 77.6,552.8 74.6,550.1 67.5,549.1" fill="#98f700"/>
<polygon points="281.7,624.2 288.0,625.1 284.0,621.6 277.7,620.7" fill="#00def7"/>
<polygon points="97.7,560.5 104.7,561.5 101.7,558.7 94.7,557.7" fill="#6bf700"/>
<polygon points="216.9,600.8 223.5,601.8 219.8,598.5 213.2,597.6" fill="#00f77d"/>
<polygon points="125.0,569.3 131.9,570.3 128.7,567.5 121.8,566.4" fill="#3ef700"/>
<polygon points="308.9,633.9 315.1,634.8 310.9,631.2 304.7,630.3" fill="#00a8f7"/>
<polygon points="244.1,610.2 250.6,611.2 246.7,607.8 240.3,606.9" fill="#00f7bf"/>
<polygon points="152.2,578.3 159.0,579.3 155.7,576.3 148.9,575.3" fill="#10f700"/>
<polygon points="179.4,587.4 186.1,588.4 182.6,585.3 175.9,584.3" fill="#00f729"/>
<polygon points="271.3,619.8 277.7,620.7 273.7,617.2 267.3,616.3" fill="#00f0f7"/>
<polygon points="60.4,548.0 67.5,549.1 64.7,546.4 57.6,545.4" fill="#a5f700"/>
<polygon points="87.6,556.6 94.7,557.7 91.7,555.0 84.6,553.9" fill="#79f700"/>
<polygon points="206.6,596.6 213.2,597.6 209.6,594.4 203.0,593.4" fill="#00f769"/>
<polygon points="298.4,629.5 304.7,630.3 300.5,626.8 294.3,625.9" fill="#00baf7"/>
<polygon points="114.8,565.4 121.8,566.4 118.6,563.6 111.7,562.6" fill="#4cf700"/>
<polygon points="233.8,606.0 240.3,606.9 236.5,603.6 230.0,602.7" fill="#00f7a9"/>
<polygon points="142.0,574.3 148.9,575.3 145.6,572.4 138.8,571.4" fill="#1ff700"/>
<polygon points="169.2,583.3 175.9,584.3 172.5,581.3 165.8,580.3" fill="#00f715"/>
<polygon points="260.9,615.5 267.3,616.3 263.4,613.0 257.0,612.1" fill="#00f7eb"/>
<polygon points="196.4,592.5 203.0,593.4 199.4,590.3 192.8,589.3" fill="#00f754"/>
<polygon points="77.6,552.8 84.6,553.9 81.7,551.2 74.6,550.1" fill="#86f700"/>
<polygon points="288.0,625.1 294.3,625.9 290.2,622.4 284.0,621.6" fill="#00ccf7"/>
<polygon points="104.7,561.5 111.7,562.6 108.6,559.8 101.7,558.7" fill="#5af700"/>
<polygon points="223.5,601.8 230.0,602.7 226.3,599.4 219.8,598.5" fill="#00f794"/>
<polygon points="131.9,570.3 138.8,571.4 135.5,568.5 128.7,567.5" fill="#2df700"/>
<polygon points="250.6,611.2 257.0,612.1 253.1,608.7 246.7,607.8" fill="#00f7d6"/>
<polygon points="159.0,579.3 165.8,580.3 162.4,577.3 155.7,576.3" fill="#00f701"/>
<polygon points="186.1,588.4 192.8,589.3 189.3,586.3 182.6,585.3" fill="#00f740"/>
<polygon points="277.7,620.7 284.0,621.6 280.0,618.1 273.7,617.2" fill="#00ddf7"/>
<polygon points="67.5,549.1 74.6,550.1 71.8,547.5 64.7,546.4" fill="#94f700"/>
<polygon points="94.7,557.7 101.7,558.7 98.6,556.0 91.7,555.0" fill="#68f700"/>
<polygon points="213.2,597.6 219.8,598.5 216.1,595.3 209.6,594.4" fill="#00f780"/>
<polygon points="304.7,630.3 310.9,631.2 306.7,627.6 300.5,626.8" fill="#00a7f7"/>
<polygon points="121.8,566.4 128.7,567.5 125.5,564.6 118.6,563.6" fill="#3bf700"/>
<polygon points="240.3,606.9 246.7,607.8 242.9,604.5 236.5,603.6" fill="#00f7c1"/>
<polygon points="148.9,575.3 155.7,576.3 152.3,573.4 145.6,572.4" fill="#0ef700"/>
<polygon points="175.9,584.3 182.6,585.3 179.2,582.3 172.5,581.3" fill="#00f72c"/>
<polygon points="267.3,616.3 273.7,617.2 269.7,613.8 263.4,613.0" fill="#00eef7"/>
<polygon points="57.6,545.4 64.7,546.4 61.9,543.9 54.8,542.8" fill="#a1f700"/>
<polygon points="203.0,593.4 209.6,594.4 206.0,591.3 199.4,590.3" fill="#00f76b"/>
<polygon points="84.6,553.9 91.7,555.0 88.7,552.3 81.7,551.2" fill="#75f700"/>
<polygon points="294.3,625.9 300.5,626.8 296.5,623.3 290.2,622.4" fill="#00b9f7"/>
<polygon points="111.7,562.6 118.6,563.6 115.5,560.8 108.6,559.8" fill="#49f700"/>
<polygon points="230.0,602.7 236.5,603.6 232.7,600.4 226.3,599.4" fill="#00f7ac"/>
<polygon points="138.8,571.4 145.6,572.4 142.3,569.5 135.5,568.5" fill="#1cf700"/>
<polygon points="257.0,612.1 263.4,613.0 259.5,609.6 253.1,608.7" fill="#00f7ed"/>
<polygon points="165.8,580.3 172.5,581.3 169.1,578.3 162.4,577.3" fill="#00f718"/>
<polygon points="192.8,589.3 199.4,590.3 195.9,587.2 189.3,586.3" fill="#00f757"/>
<polygon points="284.0,621.6 290.2,622.4 286.2,619.0 280.0,618.1" fill="#00cbf7"/>
<polygon points="74.6,550.1 81.7,551.2 78.8,548.6 71.8,547.5" fill="#83f700"/>
<polygon points="101.7,558.7 108.6,559.8 105.5,557.1 98.6,556.0" fill="#57f700"/>
<polygon points="219.8,598.5 226.3,599.4 222.6,596.3 216.1,595.3" fill="#00f797"/>
<polygon points="128.7,567.5 135.5,568.5 132.3,565.7 125.5,564.6" fill="#2af700"/>
<polygon points="246.7,607.8 253.1,608.7 249.3,605.4 242.9,604.5" fill="#00f7d8"/>
<polygon points="155.7,576.3 162.4,577.3 159.1,574.4 152.3,573.4" fill="#00f705"/>
<polygon points="182.6,585.3 189.3,586.3 185.8,583.2 179.2,582.3" fill="#00f743"/>
<polygon points="273.7,617.2 280.0,618.1 276.0,614.7 269.7,613.8" fill="#00dcf7"/>
<polygon points="64.7,546.4 71.8,547.5 68.9,545.0 61.9,543.9" fill="#90f700"/>
<polygon points="209.6,594.4 216.1,595.3 212.5,592.2 206.0,591.3" fill="#00f783"/>
<polygon points="91.7,555.0 98.6,556.0 95.6,553.3 88.7,552.3" fill="#64f700"/>
<polygon points="300.5,626.8 306.7,627.6 302.6,624.1 296.5,623.3" fill="#00a6f7"/>
<polygon points="118.6,563.6 125.5,564.6 122.3,561.9 115.5,560.8" fill="#38f700"/>
<polygon points="236.5,603.6 242.9,604.5 239.2,601.3 232.7,600.4" fill="#00f7c3"/>
<polygon points="145.6,572.4 152.3,573.4 149.0,570.5 142.3,569.5" fill="#0bf700"/>
<polygon points="263.4,613.0 269.7,613.8 265.8,610.5 259.5,609.6" fill="#00edf7"/>
<polygon points="172.5,581.3 179.2,582.3 175.7,579.3 169.1,578.3" fill="#00f72f"/>
<polygon points="54.8,542.8 61.9,543.9 59.1,541.4 52.0,540.3" fill="#9df700"/>
<polygon points="199.4,590.3 206.0,591.3 202.4,588.2 195.9,587.2" fill="#00f76e"/>
<polygon points="81.7,551.2 88.7,552.3 85.7,549.7 78.8,548.6" fill="#72f700"/>
<polygon points="290.2,622.4 296.5,623.3 292.4,619.9 286.2,619.0" fill="#00b8f7"/>
<polygon points="108.6,559.8 115.5,560.8 112.4,558.1 105.5,557.1" fill="#46f700"/>
<polygon points="226.3,599.4 232.7,600.4 229.0,597.2 222.6,596.3" fill="#00f7ae"/>
<polygon points="135.5,568.5 142.3,569.5 139.1,566.7 132.3,565.7" fill="#19f700"/>
<polygon points="253.1,608.7 259.5,609.6 255.6,606.3 249.3,605.4" fill="#00f7ef"/>
<polygon points="162.4,577.3 169.1,578.3 165.7,575.4 159.1,574.4" fill="#00f71c"/>
<polygon points="189.3,586.3 195.9,587.2 192.3,584.2 185.8,583.2" fill="#00f75a"/>
<polygon points="280.0,618.1 286.2,619.0 282.2,615.6 276.0,614.7" fill="#00c9f7"/>
<polygon points="71.8,547.5 78.8,548.6 75.9,546.0 68.9,545.0" fill="#7ff700"/>
<polygon points="98.6,556.0 105.5,557.1 102.5,554.4 95.6,553.3" fill="#53f700"/>
<polygon points="216.1,595.3 222.6,596.3 218.9,593.1 212.5,592.2" fill="#00f79a"/>
<polygon points="125.5,564.6 132.3,565.7 129.1,562.9 122.3,561.9" fill="#27f700"/>
<polygon points="242.9,604.5 249.3,605.4 245.5,602.2 239.2,601.3" fill="#00f7da"/>
<polygon points="152.3,573.4 159.1,574.4 155.7,571.5 149.0,570.5" fill="#00f709"/>
<polygon points="269.7,613.8 276.0,614.7 272.1,611.4 265.8,610.5" fill="#00daf7"/>
<polygon points="179.2,582.3 185.8,583.2 182.3,580.3 175.7,579.3" fill="#00f747"/>
<polygon points="61.9,543.9 68.9,545.0 66.1,542.4 59.1,541.4" fill="#8cf700"/>
<polygon points="206.0,591.3 212.5,592.2 208.9,589.1 202.4,588.2" fill="#00f785"/>
<polygon points="88.7,552.3 95.6,553.3 92.7,550.7 85.7,549.7" fill="#61f700"/>
<polygon points="296.5,623.3 302.6,624.1 298.6,620.7 292.4,619.9" fill="#00a5f7"/>
<polygon points="115.5,560.8 122.3,561.9 119.2,559.1 112.4,558.1" fill="#35f700"/>
<polygon points="232.7,600.4 239.2,601.3 235.4,598.1 229.0,597.2" fill="#00f7c5"/>
<polygon points="142.3,569.5 149.0,570.5 145.8,567.7 139.1,566.7" fill="#08f700"/>
<polygon points="259.5,609.6 265.8,610.5 261.9,607.2 255.6,606.3" fill="#00ebf7"/>
<polygon points="169.1,578.3 175.7,579.3 172.3,576.4 165.7,575.4" fill="#00f733"/>
<polygon points="195.9,587.2 202.4,588.2 198.9,585.2 192.3,584.2" fill="#00f771"/>
<polygon points="286.2,619.0 292.4,619.9 288.4,616.5 282.2,615.6" fill="#00b7f7"/>
<polygon points="78.8,548.6 85.7,549.7 82.8,547.1 75.9,546.0" fill="#6ef700"/>
<polygon points="105.5,557.1 112.4,558.1 109.4,555.4 102.5,554.4" fill="#42f700"/>
<polygon points="222.6,596.3 229.0,597.2 225.4,594.1 218.9,593.1" fill="#00f7b1"/>
<polygon points="132.3,565.7 139.1,566.7 135.9,563.9 129.1,562.9" fill="#16f700"/>
<polygon points="249.3,605.4 255.6,606.3 251.8,603.1 245.5,602.2" fill="#00f7f2"/>
<polygon points="159.1,574.4 165.7,575.4 162.4,572.5 155.7,571.5" fill="#00f720"/>
<polygon points="276.0,614.7 282.2,615.6 278.3,612.3 272.1,611.4" fill="#00c8f7"/>
<polygon points="185.8,583.2 192.3,584.2 188.9,581.2 182.3,580.3" fill="#00f75e"/>
<polygon points="68.9,545.0 75.9,546.0 73.0,543.5 66.1,542.4" fill="#7bf700"/>
<polygon points="212.5,592.2 218.9,593.1 215.3,590.1 208.9,589.1" fill="#00f79d"/>
<polygon points="95.6,553.3 102.5,554.4 99.5,551.8 92.7,550.7" fill="#50f700"/>
<polygon points="122.3,561.9 129.1,562.9 126.0,560.2 119.2,559.1" fill="#23f700"/>
<polygon points="239.2,601.3 245.5,602.2 241.8,599.0 235.4,598.1" fill="#00f7dd"/>
<polygon points="149.0,570.5 155.7,571.5 152.5,568.7 145.8,567.7" fill="#00f70d"/>
<polygon points="265.8,610.5 272.1,611.4 268.2,608.1 261.9,607.2" fill="#00d9f7"/>
<polygon points="175.7,579.3 182.3,580.3 178.9,577.3 172.3,576.4" fill="#00f74a"/>
<polygon points="202.4,588.2 208.9,589.1 205.3,586.1 198.9,585.2" fill="#00f789"/>
<polygon points="292.4,619.9 298.6,620.7 294.5,617.3 288.4,616.5" fill="#00a4f7"/>
<polygon points="85.7,549.7 92.7,550.7 89.7,548.2 82.8,547.1" fill="#5df700"/>
<polygon points="112.4,558.1 119.2,559.1 116.2,556.5 109.4,555.4" fill="#31f700"/>
<polygon points="229.0,597.2 235.4,598.1 231.7,595.0 225.4,594.1" fill="#00f7c8"/>
<polygon points="139.1,566.7 145.8,567.7 142.6,564.9 135.9,563.9" fill="#04f700"/>
<polygon points="255.6,606.3 261.9,607.2 258.1,604.0 251.8,603.1" fill="#00e9f7"/>
<polygon points="165.7,575.4 172.3,576.4 169.0,573.5 162.4,572.5" fill="#00f737"/>
<polygon points="282.2,615.6 288.4,616.5 284.4,613.2 278.3,612.3" fill="#00b5f7"/>
<polygon points="192.3,584.2 198.9,585.2 195.4,582.2 188.9,581.2" fill="#00f775"/>
<polygon points="75.9,546.0 82.8,547.1 80.0,544.6 73.0,543.5" fill="#6af700"/>
<polygon points="218.9,593.1 225.4,594.1 221.7,591.0 215.3,590.1" fill="#00f7b4"/>
<polygon points="102.5,554.4 109.4,555.4 106.3,552.8 99.5,551.8" fill="#3ef700"/>
<polygon points="129.1,562.9 135.9,563.9 132.7,561.2 126.0,560.2" fill="#12f700"/>
<polygon points="245.5,602.2 251.8,603.1 248.1,600.0 241.8,599.0" fill="#00f7f4"/>
<polygon points="155.7,571.5 162.4,572.5 159.1,569.7 152.5,568.7" fill="#00f724"/>
<polygon points="272.1,611.4 278.3,612.3 274.4,609.0 268.2,608.1" fill="#00c6f7"/>
<polygon points="182.3,580.3 188.9,581.2 185.4,578.3 178.9,577.3" fill="#00f761"/>
<polygon points="208.9,589.1 215.3,590.1 211.7,587.1 205.3,586.1" fill="#00f7a0"/>
<polygon points="92.7,550.7 99.5,551.8 96.6,549.2 89.7,548.2" fill="#4cf700"/>
<polygon points="119.2,559.1 126.0,560.2 122.9,557.5 116.2,556.5" fill="#20f700"/>
<polygon points="235.4,598.1 241.8,599.0 238.0,595.9 231.7,595.0" fill="#00f7df"/>
<polygon points="145.8,567.7 152.5,568.7 149.2,565.9 142.6,564.9" fill="#00f711"/>
<polygon points="261.9,607.2 268.2,608.1 264.3,604.9 258.1,604.0" fill="#00d7f7"/>
<polygon points="172.3,576.4 178.9,577.3 175.5,574.5 169.0,573.5" fill="#00f74e"/>
<polygon points="288.4,616.5 294.5,617.3 290.6,614.0 284.4,613.2" fill="#00a3f7"/>
<polygon points="198.9,585.2 205.3,586.1 201.8,583.1 195.4,582.2" fill="#00f78c"/>
<polygon points="82.8,547.1 89.7,548.2 86.8,545.6 80.0,544.6" fill="#59f700"/>
<polygon points="225.4,594.1 231.7,595.0 228.1,591.9 221.7,591.0" fill="#00f7cb"/>
<polygon points="109.4,555.4 116.2,556.5 113.1,553.9 106.3,552.8" fill="#2df700"/>
<polygon points="135.9,563.9 142.6,564.9 139.4,562.2 132.7,561.2" fill="#01f700"/>
<polygon points="251.8,603.1 258.1,604.0 254.3,600.9 248.1,600.0" fill="#00e8f7"/>
<polygon points="162.4,572.5 169.0,573.5 165.7,570.7 159.1,569.7" fill="#00f73b"/>
<polygon points="278.3,612.3 284.4,613.2 280.5,609.9 274.4,609.0" fill="#00b4f7"/>
<polygon points="188.9,581.2 195.4,582.2 191.9,579.3 185.4,578.3" fill="#00f778"/>
<polygon points="215.3,590.1 221.7,591.0 218.1,588.0 211.7,587.1" fill="#00f7b7"/>
<polygon points="99.5,551.8 106.3,552.8 103.4,550.3 96.6,549.2" fill="#3bf700"/>
<polygon points="126.0,560.2 132.7,561.2 129.6,558.5 122.9,557.5" fill="#0ff700"/>
<polygon points="241.8,599.0 248.1,600.0 244.3,596.8 238.0,595.9" fill="#00f7f7"/>
<polygon points="152.5,568.7 159.1,569.7 155.8,566.9 149.2,565.9" fill="#00f728"/>
<polygon points="268.2,608.1 274.4,609.0 270.5,605.8 264.3,604.9" fill="#00c5f7"/>
<polygon points="178.9,577.3 185.4,578.3 182.0,575.5 175.5,574.5" fill="#00f765"/>
<polygon points="205.3,586.1 211.7,587.1 208.2,584.1 201.8,583.1" fill="#00f7a3"/>
<polygon points="89.7,548.2 96.6,549.2 93.6,546.7 86.8,545.6" fill="#48f700"/>
<polygon points="231.7,595.0 238.0,595.9 234.4,592.9 228.1,591.9" fill="#00f7e2"/>
<polygon points="116.2,556.5 122.9,557.5 119.8,554.9 113.1,553.9" fill="#1cf700"/>
<polygon points="142.6,564.9 149.2,565.9 146.0,563.2 139.4,562.2" fill="#00f715"/>
<polygon points="258.1,604.0 264.3,604.9 260.5,601.8 254.3,600.9" fill="#00d5f7"/>
<polygon points="169.0,573.5 175.5,574.5 172.2,571.7 165.7,570.7" fill="#00f752"/>
<polygon points="284.4,613.2 290.6,614.0 286.6,610.8 280.5,609.9" fill="#00a1f7"/>
<polygon points="195.4,582.2 201.8,583.1 198.3,580.2 191.9,579.3" fill="#00f78f"/>
<polygon points="221.7,591.0 228.1,591.9 224.4,588.9 218.1,588.0" fill="#00f7ce"/>
<polygon points="106.3,552.8 113.1,553.9 110.1,551.3 103.4,550.3" fill="#2af700"/>
<polygon points="132.7,561.2 139.4,562.2 136.2,559.5 129.6,558.5" fill="#00f703"/>
<polygon points="248.1,600.0 254.3,600.9 250.5,597.8 244.3,596.8" fill="#00e6f7"/>
<polygon points="159.1,569.7 165.7,570.7 162.4,567.9 155.8,566.9" fill="#00f73f"/>
<polygon points="274.4,609.0 280.5,609.9 276.6,606.7 270.5,605.8" fill="#00b2f7"/>
<polygon points="185.4,578.3 191.9,579.3 188.5,576.4 182.0,575.5" fill="#00f77c"/>
<polygon points="211.7,587.1 218.1,588.0 214.6,585.0 208.2,584.1" fill="#00f7ba"/>
<polygon points="96.6,549.2 103.4,550.3 100.4,547.7 93.6,546.7" fill="#37f700"/>
<polygon points="238.0,595.9 244.3,596.8 240.6,593.8 234.4,592.9" fill="#00f6f7"/>
<polygon points="122.9,557.5 129.6,558.5 126.5,555.9 119.8,554.9" fill="#0bf700"/>
<polygon points="149.2,565.9 155.8,566.9 152.6,564.2 146.0,563.2" fill="#00f72c"/>
<polygon points="264.3,604.9 270.5,605.8 266.7,602.7 260.5,601.8" fill="#00c3f7"/>
<polygon points="175.5,574.5 182.0,575.5 178.7,572.6 172.2,571.7" fill="#00f769"/>
<polygon points="201.8,583.1 208.2,584.1 204.7,581.2 198.3,580.2" fill="#00f7a7"/>
<polygon points="228.1,591.9 234.4,592.9 230.7,589.9 224.4,588.9" fill="#00f7e5"/>
<polygon points="113.1,553.9 119.8,554.9 116.8,552.3 110.1,551.3" fill="#18f700"/>
<polygon points="139.4,562.2 146.0,563.2 142.8,560.6 136.2,559.5" fill="#00f71a"/>
<polygon points="254.3,600.9 260.5,601.8 256.7,598.7 250.5,597.8" fill="#00d3f7"/>
<polygon points="165.7,570.7 172.2,571.7 168.9,568.9 162.4,567.9" fill="#00f756"/>
<polygon points="280.5,609.9 286.6,610.8 282.7,607.6 276.6,606.7" fill="#00a0f7"/>
<polygon points="191.9,579.3 198.3,580.2 194.9,577.4 188.5,576.4" fill="#00f793"/>
<polygon points="218.1,588.0 224.4,588.9 220.9,586.0 214.6,585.0" fill="#00f7d1"/>
<polygon points="103.4,550.3 110.1,551.3 107.1,548.8 100.4,547.7" fill="#26f700"/>
<polygon points="244.3,596.8 250.5,597.8 246.8,594.7 240.6,593.8" fill="#00e3f7"/>
<polygon points="129.6,558.5 136.2,559.5 133.1,556.9 126.5,555.9" fill="#00f708"/>
<polygon points="155.8,566.9 162.4,567.9 159.1,565.2 152.6,564.2" fill="#00f743"/>
<polygon points="270.5,605.8 276.6,606.7 272.8,603.5 266.7,602.7" fill="#00b0f7"/>
<polygon points="182.0,575.5 188.5,576.4 185.1,573.6 178.7,572.6" fill="#00f780"/>
<polygon points="208.2,584.1 214.6,585.0 211.0,582.1 204.7,581.2" fill="#00f7be"/>
<polygon points="234.4,592.9 240.6,593.8 237.0,590.8 230.7,589.9" fill="#00f3f7"/>
<polygon points="119.8,554.9 126.5,555.9 123.4,553.4 116.8,552.3" fill="#07f700"/>
<polygon points="146.0,563.2 152.6,564.2 149.4,561.6 142.8,560.6" fill="#00f731"/>
<polygon points="260.5,601.8 266.7,602.7 262.9,599.6 256.7,598.7" fill="#00c1f7"/>
<polygon points="172.2,571.7 178.7,572.6 175.3,569.9 168.9,568.9" fill="#00f76d"/>
<polygon points="198.3,580.2 204.7,581.2 201.2,578.3 194.9,577.4" fill="#00f7aa"/>
<polygon points="224.4,588.9 230.7,589.9 227.1,586.9 220.9,586.0" fill="#00f7e8"/>
<polygon points="110.1,551.3 116.8,552.3 113.8,549.8 107.1,548.8" fill="#15f700"/>
<polygon points="250.5,597.8 256.7,598.7 253.0,595.6 246.8,594.7" fill="#00d1f7"/>
<polygon points="136.2,559.5 142.8,560.6 139.7,557.9 133.1,556.9" fill="#00f71f"/>
<polygon points="162.4,567.9 168.9,568.9 165.6,566.2 159.1,565.2" fill="#00f75a"/>
<polygon points="276.6,606.7 282.7,607.6 278.8,604.4 272.8,603.5" fill="#009ef7"/>
<polygon points="188.5,576.4 194.9,577.4 191.5,574.6 185.1,573.6" fill="#00f797"/>
<polygon points="214.6,585.0 220.9,586.0 217.3,583.1 211.0,582.1" fill="#00f7d5"/>
<polygon points="240.6,593.8 246.8,594.7 243.2,591.7 237.0,590.8" fill="#00e1f7"/>
<polygon points="126.5,555.9 133.1,556.9 130.0,554.4 123.4,553.4" fill="#00f70d"/>
<polygon points="152.6,564.2 159.1,565.2 155.9,562.6 149.4,561.6" fill="#00f748"/>
<polygon points="266.7,602.7 272.8,603.5 269.0,600.5 262.9,599.6" fill="#00aef7"/>
<polygon points="178.7,572.6 185.1,573.6 181.7,570.9 175.3,569.9" fill="#00f784"/>
<polygon points="204.7,581.2 211.0,582.1 207.5,579.3 201.2,578.3" fill="#00f7c1"/>
<polygon points="230.7,589.9 237.0,590.8 233.3,587.8 227.1,586.9" fill="#00f1f7"/>
<polygon points="116.8,552.3 123.4,553.4 120.4,550.8 113.8,549.8" fill="#03f700"/>
<polygon points="256.7,598.7 262.9,599.6 259.1,596.5 253.0,595.6" fill="#00bef7"/>
<polygon points="142.8,560.6 149.4,561.6 146.2,558.9 139.7,557.9" fill="#00f736"/>
<polygon points="168.9,568.9 175.3,569.9 172.0,567.2 165.6,566.2" fill="#00f771"/>
<polygon points="194.9,577.4 201.2,578.3 197.8,575.5 191.5,574.6" fill="#00f7ae"/>
<polygon points="220.9,586.0 227.1,586.9 223.6,584.0 217.3,583.1" fill="#00f7ec"/>
<polygon points="246.8,594.7 253.0,595.6 249.3,592.6 243.2,591.7" fill="#00cff7"/>
<polygon points="133.1,556.9 139.7,557.9 136.6,555.4 130.0,554.4" fill="#00f724"/>
<polygon points="159.1,565.2 165.6,566.2 162.3,563.5 155.9,562.6" fill="#00f75f"/>
<polygon points="272.8,603.5 278.8,604.4 275.0,601.3 269.0,600.5" fill="#009cf7"/>
<polygon points="185.1,573.6 191.5,574.6 188.1,571.8 181.7,570.9" fill="#00f79b"/>
<polygon points="211.0,582.1 217.3,583.1 213.8,580.2 207.5,579.3" fill="#00f7d8"/>
<polygon points="237.0,590.8 243.2,591.7 239.5,588.8 233.3,587.8" fill="#00def7"/>
<polygon points="123.4,553.4 130.0,554.4 127.0,551.9 120.4,550.8" fill="#00f712"/>
<polygon points="149.4,561.6 155.9,562.6 152.7,559.9 146.2,558.9" fill="#00f74d"/>
<polygon points="262.9,599.6 269.0,600.5 265.2,597.4 259.1,596.5" fill="#00acf7"/>
<polygon points="175.3,569.9 181.7,570.9 178.4,568.2 172.0,567.2" fill="#00f788"/>
<polygon points="201.2,578.3 207.5,579.3 204.1,576.5 197.8,575.5" fill="#00f7c5"/>
<polygon points="227.1,586.9 233.3,587.8 229.8,584.9 223.6,584.0" fill="#00eef7"/>
<polygon points="253.0,595.6 259.1,596.5 255.4,593.5 249.3,592.6" fill="#00bcf7"/>
<polygon points="139.7,557.9 146.2,558.9 143.1,556.4 136.6,555.4" fill="#00f73b"/>
<polygon points="165.6,566.2 172.0,567.2 168.8,564.5 162.3,563.5" fill="#00f776"/>
<polygon points="191.5,574.6 197.8,575.5 194.4,572.8 188.1,571.8" fill="#00f7b2"/>
<polygon points="217.3,583.1 223.6,584.0 220.0,581.2 213.8,580.2" fill="#00f7ef"/>
<polygon points="243.2,591.7 249.3,592.6 245.6,589.7 239.5,588.8" fill="#00ccf7"/>
<polygon points="130.0,554.4 136.6,555.4 133.5,552.9 127.0,551.9" fill="#00f729"/>
<polygon points="155.9,562.6 162.3,563.5 159.1,560.9 152.7,559.9" fill="#00f764"/>
<polygon points="269.0,600.5 275.0,601.3 271.2,598.3 265.2,597.4" fill="#009af7"/>
<polygon points="181.7,570.9 188.1,571.8 184.7,569.1 178.4,568.2" fill="#00f79f"/>
<polygon points="207.5,579.3 213.8,580.2 210.3,577.4 204.1,576.5" fill="#00f7dc"/>
<polygon points="233.3,587.8 239.5,588.8 235.9,585.9 229.8,584.9" fill="#00dcf7"/>
<polygon points="259.1,596.5 265.2,597.4 261.5,594.4 255.4,593.5" fill="#00aaf7"/>
<polygon points="146.2,558.9 152.7,559.9 149.5,557.4 143.1,556.4" fill="#00f752"/>
<polygon points="172.0,567.2 178.4,568.2 175.1,565.5 168.8,564.5" fill="#00f78d"/>
<polygon points="197.8,575.5 204.1,576.5 200.7,573.7 194.4,572.8" fill="#00f7c9"/>
<polygon points="223.6,584.0 229.8,584.9 226.2,582.1 220.0,581.2" fill="#00ebf7"/>
<polygon points="249.3,592.6 255.4,593.5 251.7,590.6 245.6,589.7" fill="#00baf7"/>
<polygon points="136.6,555.4 143.1,556.4 140.0,553.9 133.5,552.9" fill="#00f740"/>
<polygon points="162.3,563.5 168.8,564.5 165.5,561.9 159.1,560.9" fill="#00f77b"/>
<polygon points="188.1,571.8 194.4,572.8 191.0,570.1 184.7,569.1" fill="#00f7b6"/>
<polygon points="213.8,580.2 220.0,581.2 216.5,578.4 210.3,577.4" fill="#00f7f3"/>
<polygon points="239.5,588.8 245.6,589.7 242.0,586.8 235.9,585.9" fill="#00c9f7"/>
<polygon points="265.2,597.4 271.2,598.3 267.5,595.3 261.5,594.4" fill="#0097f7"/>
<polygon points="152.7,559.9 159.1,560.9 156.0,558.4 149.5,557.4" fill="#00f769"/>
<polygon points="178.4,568.2 184.7,569.1 181.4,566.5 175.1,565.5" fill="#00f7a4"/>
<polygon points="204.1,576.5 210.3,577.4 206.9,574.7 200.7,573.7" fill="#00f7e0"/>
<polygon points="229.8,584.9 235.9,585.9 232.4,583.0 226.2,582.1" fill="#00d9f7"/>
<polygon points="255.4,593.5 261.5,594.4 257.8,591.5 251.7,590.6" fill="#00a7f7"/>
<polygon points="143.1,556.4 149.5,557.4 146.4,554.9 140.0,553.9" fill="#00f757"/>
<polygon points="168.8,564.5 175.1,565.5 171.9,562.9 165.5,561.9" fill="#00f792"/>
<polygon points="194.4,572.8 200.7,573.7 197.3,571.0 191.0,570.1" fill="#00f7cd"/>
<polygon points="220.0,581.2 226.2,582.1 222.7,579.3 216.5,578.4" fill="#00e8f7"/>
<polygon points="245.6,589.7 251.7,590.6 248.1,587.7 242.0,586.8" fill="#00b7f7"/>
<polygon points="159.1,560.9 165.5,561.9 162.3,559.4 156.0,558.4" fill="#00f77f"/>
<polygon points="184.7,569.1 191.0,570.1 187.7,567.4 181.4,566.5" fill="#00f7bb"/>
<polygon points="210.3,577.4 216.5,578.4 213.1,575.6 206.9,574.7" fill="#00f7f7"/>
<polygon points="235.9,585.9 242.0,586.8 238.4,583.9 232.4,583.0" fill="#00c7f7"/>
<polygon points="261.5,594.4 267.5,595.3 263.8,592.4 257.8,591.5" fill="#0095f7"/>
<polygon points="149.5,557.4 156.0,558.4 152.8,555.9 146.4,554.9" fill="#00f76e"/>
<polygon points="175.1,565.5 181.4,566.5 178.2,563.9 171.9,562.9" fill="#00f7a8"/>
<polygon points="200.7,573.7 206.9,574.7 203.5,572.0 197.3,571.0" fill="#00f7e4"/>
<polygon points="226.2,582.1 232.4,583.0 228.8,580.2 222.7,579.3" fill="#00d6f7"/>
<polygon points="251.7,590.6 257.8,591.5 254.1,588.6 248.1,587.7" fill="#00a5f7"/>
<polygon points="165.5,561.9 171.9,562.9 168.7,560.3 162.3,559.4" fill="#00f796"/>
<polygon points="191.0,570.1 197.3,571.0 193.9,568.4 187.7,567.4" fill="#00f7d2"/>
<polygon points="216.5,578.4 222.7,579.3 219.2,576.6 213.1,575.6" fill="#00e5f7"/>
<polygon points="242.0,586.8 248.1,587.7 244.5,584.9 238.4,583.9" fill="#00b4f7"/>
<polygon points="156.0,558.4 162.3,559.4 159.2,556.9 152.8,555.9" fill="#00f785"/>
<polygon points="181.4,566.5 187.7,567.4 184.4,564.8 178.2,563.9" fill="#00f7bf"/>
<polygon points="206.9,574.7 213.1,575.6 209.7,572.9 203.5,572.0" fill="#00f4f7"/>
<polygon points="232.4,583.0 238.4,583.9 234.9,581.2 228.8,580.2" fill="#00c4f7"/>
<polygon points="257.8,591.5 263.8,592.4 260.1,589.5 254.1,588.6" fill="#0092f7"/>
<polygon points="171.9,562.9 178.2,563.9 174.9,561.3 168.7,560.3" fill="#00f7ad"/>
<polygon points="197.3,571.0 203.5,572.0 200.1,569.3 193.9,568.4" fill="#00f7e9"/>
<polygon points="222.7,579.3 228.8,580.2 225.3,577.5 219.2,576.6" fill="#00d3f7"/>
<polygon points="248.1,587.7 254.1,588.6 250.5,585.8 244.5,584.9" fill="#00a2f7"/>
<polygon points="162.3,559.4 168.7,560.3 165.5,557.8 159.2,556.9" fill="#00f79b"/>
<polygon points="187.7,567.4 193.9,568.4 190.6,565.8 184.4,564.8" fill="#00f7d6"/>
<polygon points="213.1,575.6 219.2,576.6 215.8,573.9 209.7,572.9" fill="#00e2f7"/>
<polygon points="238.4,583.9 244.5,584.9 240.9,582.1 234.9,581.2" fill="#00b1f7"/>
<polygon points="178.2,563.9 184.4,564.8 181.2,562.3 174.9,561.3" fill="#00f7c4"/>
<polygon points="203.5,572.0 209.7,572.9 206.3,570.3 200.1,569.3" fill="#00f1f7"/>
<polygon points="228.8,580.2 234.9,581.2 231.4,578.4 225.3,577.5" fill="#00c1f7"/>
<polygon points="254.1,588.6 260.1,589.5 256.5,586.7 250.5,585.8" fill="#0090f7"/>
<polygon points="168.7,560.3 174.9,561.3 171.7,558.8 165.5,557.8" fill="#00f7b2"/>
<polygon points="193.9,568.4 200.1,569.3 196.8,566.7 190.6,565.8" fill="#00f7ed"/>
<polygon points="219.2,576.6 225.3,577.5 221.9,574.8 215.8,573.9" fill="#00d0f7"/>
<polygon points="244.5,584.9 250.5,585.8 246.9,583.0 240.9,582.1" fill="#009ff7"/>
<polygon points="184.4,564.8 190.6,565.8 187.4,563.2 181.2,562.3" fill="#00f7db"/>
<polygon points="209.7,572.9 215.8,573.9 212.4,571.2 206.3,570.3" fill="#00def7"/>
<polygon points="234.9,581.2 240.9,582.1 237.4,579.3 231.4,578.4" fill="#00aef7"/>
<polygon points="174.9,561.3 181.2,562.3 177.9,559.8 171.7,558.8" fill="#00f7c9"/>
<polygon points="200.1,569.3 206.3,570.3 202.9,567.7 196.8,566.7" fill="#00edf7"/>
<polygon points="225.3,577.5 231.4,578.4 227.9,575.7 221.9,574.8" fill="#00bdf7"/>
<polygon points="250.5,585.8 256.5,586.7 252.9,583.9 246.9,583.0" fill="#008df7"/>
<polygon points="190.6,565.8 196.8,566.7 193.5,564.2 187.4,563.2" fill="#00f7f2"/>
<polygon points="215.8,573.9 221.9,574.8 218.4,572.2 212.4,571.2" fill="#00ccf7"/>
<polygon points="240.9,582.1 246.9,583.0 243.4,580.2 237.4,579.3" fill="#009cf7"/>
<polygon points="181.2,562.3 187.4,563.2 184.1,560.7 177.9,559.8" fill="#00f7e0"/>
<polygon points="206.3,570.3 212.4,571.2 209.0,568.6 202.9,567.7" fill="#00dbf7"/>
<polygon points="231.4,578.4 237.4,579.3 233.9,576.6 227.9,575.7" fill="#00abf7"/>
<polygon points="196.8,566.7 202.9,567.7 199.6,565.1 193.5,564.2" fill="#00e9f7"/>
<polygon points="221.9,574.8 227.9,575.7 224.5,573.1 218.4,572.2" fill="#00baf7"/>
<polygon points="246.9,583.0 252.9,583.9 249.3,581.2 243.4,580.2" fill="#008af7"/>
<polygon points="187.4,563.2 193.5,564.2 190.2,561.7 184.1,560.7" fill="#00f7f7"/>
<polygon points="212.4,571.2 218.4,572.2 215.1,569.6 209.0,568.6" fill="#00c9f7"/>
<polygon points="237.4,579.3 243.4,580.2 239.9,577.6 233.9,576.6" fill="#0099f7"/>
<polygon points="202.9,567.7 209.0,568.6 205.7,566.1 199.6,565.1" fill="#00d7f7"/>
<polygon points="227.9,575.7 233.9,576.6 230.4,574.0 224.5,573.1" fill="#00a8f7"/>
<polygon points="193.5,564.2 199.6,565.1 196.3,562.6 190.2,561.7" fill="#00e5f7"/>
<polygon points="218.4,572.2 224.5,573.1 221.1,570.5 215.1,569.6" fill="#00b6f7"/>
<polygon points="243.4,580.2 249.3,581.2 245.8,578.5 239.9,577.6" fill="#0086f7"/>
<polygon points="209.0,568.6 215.1,569.6 211.7,567.0 205.7,566.1" fill="#00c5f7"/>
<polygon points="233.9,576.6 239.9,577.6 236.4,574.9 230.4,574.0" fill="#0095f7"/>
<polygon points="199.6,565.1 205.7,566.1 202.4,563.6 196.3,562.6" fill="#00d3f7"/>
<polygon points="224.5,573.1 230.4,574.0 227.0,571.4 221.1,570.5" fill="#00a4f7"/>
<polygon points="215.1,569.6 221.1,570.5 217.7,567.9 211.7,567.0" fill="#00b3f7"/>
<polygon points="239.9,577.6 245.8,578.5 242.3,575.8 236.4,574.9" fill="#0083f7"/>
<polygon points="205.7,566.1 211.7,567.0 208.4,564.5 202.4,563.6" fill="#00c1f7"/>
<polygon points="230.4,574.0 236.4,574.9 232.9,572.3 227.0,571.4" fill="#0092f7"/>
<polygon points="221.1,570.5 227.0,571.4 223.6,568.9 217.7,567.9" fill="#00a0f7"/>
<polygon points="211.7,567.0 217.7,567.9 214.3,565.4 208.4,564.5" fill="#00aff7"/>
<polygon points="236.4,574.9 242.3,575.8 238.8,573.2 232.9,572.3" fill="#0080f7"/>
<polygon points="227.0,571.4 232.9,572.3 229.5,569.8 223.6,568.9" fill="#008ef7"/>
<polygon points="217.7,567.9 223.6,568.9 220.3,566.4 214.3,565.4" fill="#009df7"/>
<polygon points="232.9,572.3 238.8,573.2 235.4,570.7 229.5,569.8" fill="#007cf7"/>
<polygon points="223.6,568.9 229.5,569.8 226.1,567.3 220.3,566.4" fill="#008af7"/>
<polygon points="229.5,569.8 235.4,570.7 232.0,568.2 226.1,567.3" fill="#0078f7"/>
<path d="M143.0 633.1L139.2 628.9 M139.2 628.9L135.5 624.7 M135.5 624.7L131.8 620.7 M131.8 620.7L128.1 616.7 M128.1 616.7L124.5 612.7 M124.5 612.7L120.9 608.9 M120.9 608.9L117.4 605.1 M117.4 605.1L113.9 601.4 M113.9 601.4L110.4 597.7 M110.4 597.7L107.0 594.2 M107.0 594.2L103.6 590.6 M103.6 590.6L100.3 587.2 M100.3 587.2L97.0 583.8 M97.0 583.8L93.8 580.5 M93.8 580.5L90.5 577.3 M90.5 577.3L87.4 574.1 M87.4 574.1L84.2 570.9 M84.2 570.9L81.1 567.9 M81.1 567.9L78.1 564.9 M78.1 564.9L75.0 561.9 M75.0 561.9L72.0 559.0 M72.0 559.0L69.1 556.2 M69.1 556.2L66.1 553.4 M66.1 553.4L63.2 550.7 M63.2 550.7L60.4 548.0 M60.4 548.0L57.6 545.4 M57.6 545.4L54.8 542.8 M54.8 542.8L52.0 540.3 M151.0 634.1L147.1 629.9 M147.1 629.9L143.3 625.7 M143.3 625.7L139.6 621.7 M139.6 621.7L135.9 617.7 M135.9 617.7L132.2 613.7 M132.2 613.7L128.6 609.9 M128.6 609.9L125.0 606.1 M125.0 606.1L121.5 602.4 M121.5 602.4L118.0 598.8 M118.0 598.8L114.6 595.2 M114.6 595.2L111.2 591.7 M111.2 591.7L107.8 588.3 M107.8 588.3L104.5 584.9 M104.5 584.9L101.2 581.6 M101.2 581.6L98.0 578.3 M98.0 578.3L94.8 575.1 M94.8 575.1L91.6 572.0 M91.6 572.0L88.5 568.9 M88.5 568.9L85.4 565.9 M85.4 565.9L82.3 563.0 M82.3 563.0L79.3 560.1 M79.3 560.1L76.3 557.2 M76.3 557.2L73.4 554.5 M73.4 554.5L70.4 551.7 M70.4 551.7L67.5 549.1 M67.5 549.1L64.7 546.4 M64.7 546.4L61.9 543.9 M61.9 543.9L59.1 541.4 M158.8 635.1L154.9 630.8 M154.9 630.8L151.1 626.7 M151.1 626.7L147.3 622.6 M147.3 622.6L143.6 618.7 M143.6 618.7L139.9 614.7 M139.9 614.7L136.3 610.9 M136.3 610.9L132.7 607.1 M132.7 607.1L129.1 603.4 M129.1 603.4L125.6 599.8 M125.6 599.8L122.1 596.2 M122.1 596.2L118.7 592.7 M118.7 592.7L115.3 589.3 M115.3 589.3L112.0 585.9 M112.0 585.9L108.7 582.6 M108.7 582.6L105.4 579.4 M105.4 579.4L102.1 576.2 M102.1 576.2L98.9 573.1 M98.9 573.1L95.8 570.0 M95.8 570.0L92.7 567.0 M92.7 567.0L89.6 564.1 M89.6 564.1L86.5 561.2 M86.5 561.2L83.5 558.3 M83.5 558.3L80.5 555.5 M80.5 555.5L77.6 552.8 M77.6 552.8L74.6 550.1 M74.6 550.1L71.8 547.5 M71.8 547.5L68.9 545.0 M68.9 545.0L66.1 542.4 M166.6 636.0L162.7 631.8 M162.7 631.8L158.8 627.7 M158.8 627.7L155.0 623.6 M155.0 623.6L151.3 619.7 M151.3 619.7L147.5 615.7 M147.5 615.7L143.9 611.9 M143.9 611.9L140.2 608.1 M140.2 608.1L136.7 604.5 M136.7 604.5L133.1 600.8 M133.1 600.8L129.6 597.3 M129.6 597.3L126.2 593.8 M126.2 593.8L122.7 590.3 M122.7 590.3L119.4 587.0 M119.4 587.0L116.0 583.7 M116.0 583.7L112.7 580.4 M112.7 580.4L109.4 577.3 M109.4 577.3L106.2 574.1 M106.2 574.1L103.0 571.1 M103.0 571.1L99.9 568.1 M99.9 568.1L96.8 565.1 M96.8 565.1L93.7 562.2 M93.7 562.2L90.6 559.4 M90.6 559.4L87.6 556.6 M87.6 556.6L84.6 553.9 M84.6 553.9L81.7 551.2 M81.7 551.2L78.8 548.6 M78.8 548.6L75.9 546.0 M75.9 546.0L73.0 543.5 M174.3 637.0L170.4 632.8 M170.4 632.8L166.5 628.7 M166.5 628.7L162.6 624.6 M162.6 624.6L158.8 620.6 M158.8 620.6L155.1 616.7 M155.1 616.7L151.4 612.9 M151.4 612.9L147.7 609.2 M147.7 609.2L144.1 605.5 M144.1 605.5L140.6 601.8 M140.6 601.8L137.0 598.3 M137.0 598.3L133.5 594.8 M133.5 594.8L130.1 591.4 M130.1 591.4L126.7 588.0 M126.7 588.0L123.3 584.7 M123.3 584.7L120.0 581.5 M120.0 581.5L116.7 578.3 M116.7 578.3L113.4 575.2 M113.4 575.2L110.2 572.1 M110.2 572.1L107.0 569.1 M107.0 569.1L103.9 566.2 M103.9 566.2L100.8 563.3 M100.8 563.3L97.7 560.5 M97.7 560.5L94.7 557.7 M94.7 557.7L91.7 555.0 M91.7 555.0L88.7 552.3 M88.7 552.3L85.7 549.7 M85.7 549.7L82.8 547.1 M82.8 547.1L80.0 544.6 M181.9 637.9L178.0 633.7 M178.0 633.7L174.1 629.6 M174.1 629.6L170.2 625.6 M170.2 625.6L166.4 621.6 M166.4 621.6L162.6 617.7 M162.6 617.7L158.9 613.9 M158.9 613.9L155.2 610.1 M155.2 610.1L151.5 606.5 M151.5 606.5L147.9 602.9 M147.9 602.9L144.4 599.3 M144.4 599.3L140.9 595.8 M140.9 595.8L137.4 592.4 M137.4 592.4L134.0 589.0 M134.0 589.0L130.6 585.7 M130.6 585.7L127.2 582.5 M127.2 582.5L123.9 579.3 M123.9 579.3L120.6 576.2 M120.6 576.2L117.4 573.2 M117.4 573.2L114.1 570.2 M114.1 570.2L111.0 567.2 M111.0 567.2L107.8 564.3 M107.8 564.3L104.7 561.5 M104.7 561.5L101.7 558.7 M101.7 558.7L98.6 556.0 M98.6 556.0L95.6 553.3 M95.6 553.3L92.7 550.7 M92.7 550.7L89.7 548.2 M89.7 548.2L86.8 545.6 M189.5 638.9L185.5 634.7 M185.5 634.7L181.6 630.6 M181.6 630.6L177.7 626.5 M177.7 626.5L173.8 622.6 M173.8 622.6L170.0 618.7 M170.0 618.7L166.3 614.9 M166.3 614.9L162.6 611.1 M162.6 611.1L158.9 607.5 M158.9 607.5L155.3 603.9 M155.3 603.9L151.7 600.3 M151.7 600.3L148.1 596.8 M148.1 596.8L144.6 593.4 M144.6 593.4L141.2 590.1 M141.2 590.1L137.7 586.8 M137.7 586.8L134.4 583.5 M134.4 583.5L131.0 580.4 M131.0 580.4L127.7 577.3 M127.7 577.3L124.4 574.2 M124.4 574.2L121.2 571.2 M121.2 571.2L118.0 568.3 M118.0 568.3L114.8 565.4 M114.8 565.4L111.7 562.6 M111.7 562.6L108.6 559.8 M108.6 559.8L105.5 557.1 M105.5 557.1L102.5 554.4 M102.5 554.4L99.5 551.8 M99.5 551.8L96.6 549.2 M96.6 549.2L93.6 546.7 M197.0 639.8L193.0 635.6 M193.0 635.6L189.0 631.5 M189.0 631.5L185.1 627.5 M185.1 627.5L181.2 623.5 M181.2 623.5L177.4 619.7 M177.4 619.7L173.6 615.9 M173.6 615.9L169.9 612.1 M169.9 612.1L166.2 608.5 M166.2 608.5L162.5 604.8 M162.5 604.8L158.9 601.3 M158.9 601.3L155.3 597.8 M155.3 597.8L151.8 594.4 M151.8 594.4L148.3 591.1 M148.3 591.1L144.9 587.8 M144.9 587.8L141.5 584.6 M141.5 584.6L138.1 581.4 M138.1 581.4L134.8 578.3 M134.8 578.3L131.5 575.2 M131.5 575.2L128.2 572.2 M128.2 572.2L125.0 569.3 M125.0 569.3L121.8 566.4 M121.8 566.4L118.6 563.6 M118.6 563.6L115.5 560.8 M115.5 560.8L112.4 558.1 M112.4 558.1L109.4 555.4 M109.4 555.4L106.3 552.8 M106.3 552.8L103.4 550.3 M103.4 550.3L100.4 547.7 M204.5 640.7L200.4 636.5 M200.4 636.5L196.4 632.5 M196.4 632.5L192.5 628.4 M192.5 628.4L188.6 624.5 M188.6 624.5L184.7 620.6 M184.7 620.6L180.9 616.8 M180.9 616.8L177.1 613.1 M177.1 613.1L173.4 609.4 M173.4 609.4L169.7 605.8 M169.7 605.8L166.1 602.3 M166.1 602.3L162.5 598.8 M162.5 598.8L158.9 595.4 M158.9 595.4L155.4 592.1 M155.4 592.1L152.0 588.8 M152.0 588.8L148.5 585.6 M148.5 585.6L145.1 582.4 M145.1 582.4L141.8 579.3 M141.8 579.3L138.4 576.3 M138.4 576.3L135.1 573.3 M135.1 573.3L131.9 570.3 M131.9 570.3L128.7 567.5 M128.7 567.5L125.5 564.6 M125.5 564.6L122.3 561.9 M122.3 561.9L119.2 559.1 M119.2 559.1L116.2 556.5 M116.2 556.5L113.1 553.9 M113.1 553.9L110.1 551.3 M110.1 551.3L107.1 548.8 M211.8 641.6L207.8 637.5 M207.8 637.5L203.8 633.4 M203.8 633.4L199.8 629.4 M199.8 629.4L195.9 625.4 M195.9 625.4L192.0 621.6 M192.0 621.6L188.1 617.8 M188.1 617.8L184.3 614.1 M184.3 614.1L180.6 610.4 M180.6 610.4L176.9 606.8 M176.9 606.8L173.2 603.3 M173.2 603.3L169.6 599.8 M169.6 599.8L166.0 596.4 M166.0 596.4L162.5 593.1 M162.5 593.1L159.0 589.8 M159.0 589.8L155.5 586.6 M155.5 586.6L152.1 583.4 M152.1 583.4L148.7 580.3 M148.7 580.3L145.3 577.3 M145.3 577.3L142.0 574.3 M142.0 574.3L138.8 571.4 M138.8 571.4L135.5 568.5 M135.5 568.5L132.3 565.7 M132.3 565.7L129.1 562.9 M129.1 562.9L126.0 560.2 M126.0 560.2L122.9 557.5 M122.9 557.5L119.8 554.9 M119.8 554.9L116.8 552.3 M116.8 552.3L113.8 549.8 M219.2 642.5L215.1 638.4 M215.1 638.4L211.0 634.3 M211.0 634.3L207.0 630.3 M207.0 630.3L203.1 626.4 M203.1 626.4L199.2 622.5 M199.2 622.5L195.3 618.7 M195.3 618.7L191.5 615.0 M191.5 615.0L187.7 611.4 M187.7 611.4L184.0 607.8 M184.0 607.8L180.3 604.3 M180.3 604.3L176.6 600.8 M176.6 600.8L173.0 597.4 M173.0 597.4L169.5 594.1 M169.5 594.1L165.9 590.8 M165.9 590.8L162.4 587.6 M162.4 587.6L159.0 584.4 M159.0 584.4L155.6 581.3 M155.6 581.3L152.2 578.3 M152.2 578.3L148.9 575.3 M148.9 575.3L145.6 572.4 M145.6 572.4L142.3 569.5 M142.3 569.5L139.1 566.7 M139.1 566.7L135.9 563.9 M135.9 563.9L132.7 561.2 M132.7 561.2L129.6 558.5 M129.6 558.5L126.5 555.9 M126.5 555.9L123.4 553.4 M123.4 553.4L120.4 550.8 M226.4 643.4L222.3 639.3 M222.3 639.3L218.2 635.2 M218.2 635.2L214.2 631.2 M214.2 631.2L210.2 627.3 M210.2 627.3L206.3 623.5 M206.3 623.5L202.4 619.7 M202.4 619.7L198.6 616.0 M198.6 616.0L194.8 612.3 M194.8 612.3L191.0 608.8 M191.0 608.8L187.3 605.2 M187.3 605.2L183.6 601.8 M183.6 601.8L180.0 598.4 M180.0 598.4L176.4 595.1 M176.4 595.1L172.9 591.8 M172.9 591.8L169.3 588.6 M169.3 588.6L165.9 585.4 M165.9 585.4L162.4 582.3 M162.4 582.3L159.0 579.3 M159.0 579.3L155.7 576.3 M155.7 576.3L152.3 573.4 M152.3 573.4L149.0 570.5 M149.0 570.5L145.8 567.7 M145.8 567.7L142.6 564.9 M142.6 564.9L139.4 562.2 M139.4 562.2L136.2 559.5 M136.2 559.5L133.1 556.9 M133.1 556.9L130.0 554.4 M130.0 554.4L127.0 551.9 M233.6 644.3L229.5 640.2 M229.5 640.2L225.4 636.1 M225.4 636.1L221.3 632.2 M221.3 632.2L217.3 628.2 M217.3 628.2L213.4 624.4 M213.4 624.4L209.5 620.6 M209.5 620.6L205.6 616.9 M205.6 616.9L201.8 613.3 M201.8 613.3L198.0 609.7 M198.0 609.7L194.3 606.2 M194.3 606.2L190.6 602.7 M190.6 602.7L186.9 599.4 M186.9 599.4L183.3 596.0 M183.3 596.0L179.7 592.8 M179.7 592.8L176.2 589.6 M176.2 589.6L172.7 586.4 M172.7 586.4L169.2 583.3 M169.2 583.3L165.8 580.3 M165.8 580.3L162.4 577.3 M162.4 577.3L159.1 574.4 M159.1 574.4L155.7 571.5 M155.7 571.5L152.5 568.7 M152.5 568.7L149.2 565.9 M149.2 565.9L146.0 563.2 M146.0 563.2L142.8 560.6 M142.8 560.6L139.7 557.9 M139.7 557.9L136.6 555.4 M136.6 555.4L133.5 552.9 M240.8 645.2L236.6 641.1 M236.6 641.1L232.5 637.0 M232.5 637.0L228.4 633.1 M228.4 633.1L224.4 629.2 M224.4 629.2L220.4 625.3 M220.4 625.3L216.5 621.6 M216.5 621.6L212.6 617.9 M212.6 617.9L208.7 614.2 M208.7 614.2L204.9 610.7 M204.9 610.7L201.2 607.2 M201.2 607.2L197.4 603.7 M197.4 603.7L193.8 600.3 M193.8 600.3L190.1 597.0 M190.1 597.0L186.5 593.7 M186.5 593.7L183.0 590.5 M183.0 590.5L179.4 587.4 M179.4 587.4L175.9 584.3 M175.9 584.3L172.5 581.3 M172.5 581.3L169.1 578.3 M169.1 578.3L165.7 575.4 M165.7 575.4L162.4 572.5 M162.4 572.5L159.1 569.7 M159.1 569.7L155.8 566.9 M155.8 566.9L152.6 564.2 M152.6 564.2L149.4 561.6 M149.4 561.6L146.2 558.9 M146.2 558.9L143.1 556.4 M143.1 556.4L140.0 553.9 M247.9 646.1L243.7 642.0 M243.7 642.0L239.5 637.9 M239.5 637.9L235.4 634.0 M235.4 634.0L231.4 630.1 M231.4 630.1L227.4 626.3 M227.4 626.3L223.4 622.5 M223.4 622.5L219.5 618.8 M219.5 618.8L215.6 615.2 M215.6 615.2L211.8 611.6 M211.8 611.6L208.0 608.1 M208.0 608.1L204.3 604.7 M204.3 604.7L200.6 601.3 M200.6 601.3L196.9 598.0 M196.9 598.0L193.3 594.7 M193.3 594.7L189.7 591.5 M189.7 591.5L186.1 588.4 M186.1 588.4L182.6 585.3 M182.6 585.3L179.2 582.3 M179.2 582.3L175.7 579.3 M175.7 579.3L172.3 576.4 M172.3 576.4L169.0 573.5 M169.0 573.5L165.7 570.7 M165.7 570.7L162.4 567.9 M162.4 567.9L159.1 565.2 M159.1 565.2L155.9 562.6 M155.9 562.6L152.7 559.9 M152.7 559.9L149.5 557.4 M149.5 557.4L146.4 554.9 M254.9 647.0L250.7 642.9 M250.7 642.9L246.5 638.8 M246.5 638.8L242.4 634.9 M242.4 634.9L238.3 631.0 M238.3 631.0L234.3 627.2 M234.3 627.2L230.3 623.4 M230.3 623.4L226.4 619.7 M226.4 619.7L222.5 616.1 M222.5 616.1L218.6 612.5 M218.6 612.5L214.8 609.0 M214.8 609.0L211.0 605.6 M211.0 605.6L207.3 602.2 M207.3 602.2L203.6 598.9 M203.6 598.9L200.0 595.7 M200.0 595.7L196.4 592.5 M196.4 592.5L192.8 589.3 M192.8 589.3L189.3 586.3 M189.3 586.3L185.8 583.2 M185.8 583.2L182.3 580.3 M182.3 580.3L178.9 577.3 M178.9 577.3L175.5 574.5 M175.5 574.5L172.2 571.7 M172.2 571.7L168.9 568.9 M168.9 568.9L165.6 566.2 M165.6 566.2L162.3 563.5 M162.3 563.5L159.1 560.9 M159.1 560.9L156.0 558.4 M156.0 558.4L152.8 555.9 M261.8 647.8L257.6 643.7 M257.6 643.7L253.4 639.7 M253.4 639.7L249.3 635.8 M249.3 635.8L245.2 631.9 M245.2 631.9L241.1 628.1 M241.1 628.1L237.1 624.3 M237.1 624.3L233.2 620.6 M233.2 620.6L229.3 617.0 M229.3 617.0L225.4 613.5 M225.4 613.5L221.5 610.0 M221.5 610.0L217.8 606.6 M217.8 606.6L214.0 603.2 M214.0 603.2L210.3 599.9 M210.3 599.9L206.6 596.6 M206.6 596.6L203.0 593.4 M203.0 593.4L199.4 590.3 M199.4 590.3L195.9 587.2 M195.9 587.2L192.3 584.2 M192.3 584.2L188.9 581.2 M188.9 581.2L185.4 578.3 M185.4 578.3L182.0 575.5 M182.0 575.5L178.7 572.6 M178.7 572.6L175.3 569.9 M175.3 569.9L172.0 567.2 M172.0 567.2L168.8 564.5 M168.8 564.5L165.5 561.9 M165.5 561.9L162.3 559.4 M162.3 559.4L159.2 556.9 M268.8 648.7L264.5 644.6 M264.5 644.6L260.3 640.6 M260.3 640.6L256.1 636.7 M256.1 636.7L252.0 632.8 M252.0 632.8L247.9 629.0 M247.9 629.0L243.9 625.2 M243.9 625.2L239.9 621.6 M239.9 621.6L236.0 617.9 M236.0 617.9L232.1 614.4 M232.1 614.4L228.2 610.9 M228.2 610.9L224.4 607.5 M224.4 607.5L220.7 604.1 M220.7 604.1L216.9 600.8 M216.9 600.8L213.2 597.6 M213.2 597.6L209.6 594.4 M209.6 594.4L206.0 591.3 M206.0 591.3L202.4 588.2 M202.4 588.2L198.9 585.2 M198.9 585.2L195.4 582.2 M195.4 582.2L191.9 579.3 M191.9 579.3L188.5 576.4 M188.5 576.4L185.1 573.6 M185.1 573.6L181.7 570.9 M181.7 570.9L178.4 568.2 M178.4 568.2L175.1 565.5 M175.1 565.5L171.9 562.9 M171.9 562.9L168.7 560.3 M168.7 560.3L165.5 557.8 M275.6 649.5L271.3 645.5 M271.3 645.5L267.1 641.5 M267.1 641.5L262.9 637.5 M262.9 637.5L258.8 633.7 M258.8 633.7L254.7 629.9 M254.7 629.9L250.6 626.1 M250.6 626.1L246.6 622.5 M246.6 622.5L242.7 618.9 M242.7 618.9L238.7 615.3 M238.7 615.3L234.9 611.8 M234.9 611.8L231.0 608.4 M231.0 608.4L227.2 605.1 M227.2 605.1L223.5 601.8 M223.5 601.8L219.8 598.5 M219.8 598.5L216.1 595.3 M216.1 595.3L212.5 592.2 M212.5 592.2L208.9 589.1 M208.9 589.1L205.3 586.1 M205.3 586.1L201.8 583.1 M201.8 583.1L198.3 580.2 M198.3 580.2L194.9 577.4 M194.9 577.4L191.5 574.6 M191.5 574.6L188.1 571.8 M188.1 571.8L184.7 569.1 M184.7 569.1L181.4 566.5 M181.4 566.5L178.2 563.9 M178.2 563.9L174.9 561.3 M174.9 561.3L171.7 558.8 M282.4 650.4L278.1 646.3 M278.1 646.3L273.9 642.3 M273.9 642.3L269.6 638.4 M269.6 638.4L265.5 634.5 M265.5 634.5L261.4 630.8 M261.4 630.8L257.3 627.0 M257.3 627.0L253.3 623.4 M253.3 623.4L249.3 619.8 M249.3 619.8L245.4 616.2 M245.4 616.2L241.5 612.7 M241.5 612.7L237.6 609.3 M237.6 609.3L233.8 606.0 M233.8 606.0L230.0 602.7 M230.0 602.7L226.3 599.4 M226.3 599.4L222.6 596.3 M222.6 596.3L218.9 593.1 M218.9 593.1L215.3 590.1 M215.3 590.1L211.7 587.1 M211.7 587.1L208.2 584.1 M208.2 584.1L204.7 581.2 M204.7 581.2L201.2 578.3 M201.2 578.3L197.8 575.5 M197.8 575.5L194.4 572.8 M194.4 572.8L191.0 570.1 M191.0 570.1L187.7 567.4 M187.7 567.4L184.4 564.8 M184.4 564.8L181.2 562.3 M181.2 562.3L177.9 559.8 M289.2 651.2L284.8 647.2 M284.8 647.2L280.6 643.2 M280.6 643.2L276.3 639.3 M276.3 639.3L272.1 635.4 M272.1 635.4L268.0 631.6 M268.0 631.6L263.9 627.9 M263.9 627.9L259.9 624.3 M259.9 624.3L255.9 620.7 M255.9 620.7L251.9 617.1 M251.9 617.1L248.0 613.7 M248.0 613.7L244.1 610.2 M244.1 610.2L240.3 606.9 M240.3 606.9L236.5 603.6 M236.5 603.6L232.7 600.4 M232.7 600.4L229.0 597.2 M229.0 597.2L225.4 594.1 M225.4 594.1L221.7 591.0 M221.7 591.0L218.1 588.0 M218.1 588.0L214.6 585.0 M214.6 585.0L211.0 582.1 M211.0 582.1L207.5 579.3 M207.5 579.3L204.1 576.5 M204.1 576.5L200.7 573.7 M200.7 573.7L197.3 571.0 M197.3 571.0L193.9 568.4 M193.9 568.4L190.6 565.8 M190.6 565.8L187.4 563.2 M187.4 563.2L184.1 560.7 M295.8 652.1L291.5 648.0 M291.5 648.0L287.2 644.0 M287.2 644.0L283.0 640.1 M283.0 640.1L278.8 636.3 M278.8 636.3L274.6 632.5 M274.6 632.5L270.5 628.8 M270.5 628.8L266.4 625.1 M266.4 625.1L262.4 621.6 M262.4 621.6L258.4 618.0 M258.4 618.0L254.5 614.6 M254.5 614.6L250.6 611.2 M250.6 611.2L246.7 607.8 M246.7 607.8L242.9 604.5 M242.9 604.5L239.2 601.3 M239.2 601.3L235.4 598.1 M235.4 598.1L231.7 595.0 M231.7 595.0L228.1 591.9 M228.1 591.9L224.4 588.9 M224.4 588.9L220.9 586.0 M220.9 586.0L217.3 583.1 M217.3 583.1L213.8 580.2 M213.8 580.2L210.3 577.4 M210.3 577.4L206.9 574.7 M206.9 574.7L203.5 572.0 M203.5 572.0L200.1 569.3 M200.1 569.3L196.8 566.7 M196.8 566.7L193.5 564.2 M193.5 564.2L190.2 561.7 M302.5 652.9L298.1 648.9 M298.1 648.9L293.8 644.9 M293.8 644.9L289.5 641.0 M289.5 641.0L285.3 637.1 M285.3 637.1L281.1 633.4 M281.1 633.4L277.0 629.7 M277.0 629.7L272.9 626.0 M272.9 626.0L268.9 622.4 M268.9 622.4L264.9 618.9 M264.9 618.9L260.9 615.5 M260.9 615.5L257.0 612.1 M257.0 612.1L253.1 608.7 M253.1 608.7L249.3 605.4 M249.3 605.4L245.5 602.2 M245.5 602.2L241.8 599.0 M241.8 599.0L238.0 595.9 M238.0 595.9L234.4 592.9 M234.4 592.9L230.7 589.9 M230.7 589.9L227.1 586.9 M227.1 586.9L223.6 584.0 M223.6 584.0L220.0 581.2 M220.0 581.2L216.5 578.4 M216.5 578.4L213.1 575.6 M213.1 575.6L209.7 572.9 M209.7 572.9L206.3 570.3 M206.3 570.3L202.9 567.7 M202.9 567.7L199.6 565.1 M199.6 565.1L196.3 562.6 M309.1 653.7L304.7 649.7 M304.7 649.7L300.3 645.7 M300.3 645.7L296.1 641.8 M296.1 641.8L291.8 638.0 M291.8 638.0L287.6 634.2 M287.6 634.2L283.5 630.5 M283.5 630.5L279.4 626.9 M279.4 626.9L275.3 623.3 M275.3 623.3L271.3 619.8 M271.3 619.8L267.3 616.3 M267.3 616.3L263.4 613.0 M263.4 613.0L259.5 609.6 M259.5 609.6L255.6 606.3 M255.6 606.3L251.8 603.1 M251.8 603.1L248.1 600.0 M248.1 600.0L244.3 596.8 M244.3 596.8L240.6 593.8 M240.6 593.8L237.0 590.8 M237.0 590.8L233.3 587.8 M233.3 587.8L229.8 584.9 M229.8 584.9L226.2 582.1 M226.2 582.1L222.7 579.3 M222.7 579.3L219.2 576.6 M219.2 576.6L215.8 573.9 M215.8 573.9L212.4 571.2 M212.4 571.2L209.0 568.6 M209.0 568.6L205.7 566.1 M205.7 566.1L202.4 563.6 M315.6 654.5L311.2 650.5 M311.2 650.5L306.8 646.6 M306.8 646.6L302.5 642.7 M302.5 642.7L298.3 638.8 M298.3 638.8L294.1 635.1 M294.1 635.1L289.9 631.4 M289.9 631.4L285.8 627.8 M285.8 627.8L281.7 624.2 M281.7 624.2L277.7 620.7 M277.7 620.7L273.7 617.2 M273.7 617.2L269.7 613.8 M269.7 613.8L265.8 610.5 M265.8 610.5L261.9 607.2 M261.9 607.2L258.1 604.0 M258.1 604.0L254.3 600.9 M254.3 600.9L250.5 597.8 M250.5 597.8L246.8 594.7 M246.8 594.7L243.2 591.7 M243.2 591.7L239.5 588.8 M239.5 588.8L235.9 585.9 M235.9 585.9L232.4 583.0 M232.4 583.0L228.8 580.2 M228.8 580.2L225.3 577.5 M225.3 577.5L221.9 574.8 M221.9 574.8L218.4 572.2 M218.4 572.2L215.1 569.6 M215.1 569.6L211.7 567.0 M211.7 567.0L208.4 564.5 M322.1 655.3L317.6 651.3 M317.6 651.3L313.3 647.4 M313.3 647.4L309.0 643.5 M309.0 643.5L304.7 639.7 M304.7 639.7L300.4 635.9 M300.4 635.9L296.3 632.2 M296.3 632.2L292.1 628.6 M292.1 628.6L288.0 625.1 M288.0 625.1L284.0 621.6 M284.0 621.6L280.0 618.1 M280.0 618.1L276.0 614.7 M276.0 614.7L272.1 611.4 M272.1 611.4L268.2 608.1 M268.2 608.1L264.3 604.9 M264.3 604.9L260.5 601.8 M260.5 601.8L256.7 598.7 M256.7 598.7L253.0 595.6 M253.0 595.6L249.3 592.6 M249.3 592.6L245.6 589.7 M245.6 589.7L242.0 586.8 M242.0 586.8L238.4 583.9 M238.4 583.9L234.9 581.2 M234.9 581.2L231.4 578.4 M231.4 578.4L227.9 575.7 M227.9 575.7L224.5 573.1 M224.5 573.1L221.1 570.5 M221.1 570.5L217.7 567.9 M217.7 567.9L214.3 565.4 M328.5 656.2L324.1 652.1 M324.1 652.1L319.7 648.2 M319.7 648.2L315.3 644.3 M315.3 644.3L311.0 640.5 M311.0 640.5L306.8 636.8 M306.8 636.8L302.6 633.1 M302.6 633.1L298.4 629.5 M298.4 629.5L294.3 625.9 M294.3 625.9L290.2 622.4 M290.2 622.4L286.2 619.0 M286.2 619.0L282.2 615.6 M282.2 615.6L278.3 612.3 M278.3 612.3L274.4 609.0 M274.4 609.0L270.5 605.8 M270.5 605.8L266.7 602.7 M266.7 602.7L262.9 599.6 M262.9 599.6L259.1 596.5 M259.1 596.5L255.4 593.5 M255.4 593.5L251.7 590.6 M251.7 590.6L248.1 587.7 M248.1 587.7L244.5 584.9 M244.5 584.9L240.9 582.1 M240.9 582.1L237.4 579.3 M237.4 579.3L233.9 576.6 M233.9 576.6L230.4 574.0 M230.4 574.0L227.0 571.4 M227.0 571.4L223.6 568.9 M223.6 568.9L220.3 566.4 M334.9 657.0L330.4 653.0 M330.4 653.0L326.0 649.0 M326.0 649.0L321.7 645.2 M321.7 645.2L317.3 641.4 M317.3 641.4L313.1 637.6 M313.1 637.6L308.9 633.9 M308.9 633.9L304.7 630.3 M304.7 630.3L300.5 626.8 M300.5 626.8L296.5 623.3 M296.5 623.3L292.4 619.9 M292.4 619.9L288.4 616.5 M288.4 616.5L284.4 613.2 M284.4 613.2L280.5 609.9 M280.5 609.9L276.6 606.7 M276.6 606.7L272.8 603.5 M272.8 603.5L269.0 600.5 M269.0 600.5L265.2 597.4 M265.2 597.4L261.5 594.4 M261.5 594.4L257.8 591.5 M257.8 591.5L254.1 588.6 M254.1 588.6L250.5 585.8 M250.5 585.8L246.9 583.0 M246.9 583.0L243.4 580.2 M243.4 580.2L239.9 577.6 M239.9 577.6L236.4 574.9 M236.4 574.9L232.9 572.3 M232.9 572.3L229.5 569.8 M229.5 569.8L226.1 567.3 M341.2 657.7L336.7 653.8 M336.7 653.8L332.3 649.8 M332.3 649.8L327.9 646.0 M327.9 646.0L323.6 642.2 M323.6 642.2L319.3 638.4 M319.3 638.4L315.1 634.8 M315.1 634.8L310.9 631.2 M310.9 631.2L306.7 627.6 M306.7 627.6L302.6 624.1 M302.6 624.1L298.6 620.7 M298.6 620.7L294.5 617.3 M294.5 617.3L290.6 614.0 M290.6 614.0L286.6 610.8 M286.6 610.8L282.7 607.6 M282.7 607.6L278.8 604.4 M278.8 604.4L275.0 601.3 M275.0 601.3L271.2 598.3 M271.2 598.3L267.5 595.3 M267.5 595.3L263.8 592.4 M263.8 592.4L260.1 589.5 M260.1 589.5L256.5 586.7 M256.5 586.7L252.9 583.9 M252.9 583.9L249.3 581.2 M249.3 581.2L245.8 578.5 M245.8 578.5L242.3 575.8 M242.3 575.8L238.8 573.2 M238.8 573.2L235.4 570.7 M235.4 570.7L232.0 568.2" fill="none" stroke="#111" stroke-opacity="0.60" stroke-width="0.6" stroke-linecap="round"/>
<path d="M143.0 633.1L151.0 634.1 M151.0 634.1L158.8 635.1 M158.8 635.1L166.6 636.0 M166.6 636.0L174.3 637.0 M174.3 637.0L181.9 637.9 M181.9 637.9L189.5 638.9 M189.5 638.9L197.0 639.8 M197.0 639.8L204.5 640.7 M204.5 640.7L211.8 641.6 M211.8 641.6L219.2 642.5 M219.2 642.5L226.4 643.4 M226.4 643.4L233.6 644.3 M233.6 644.3L240.8 645.2 M240.8 645.2L247.9 646.1 M247.9 646.1L254.9 647.0 M254.9 647.0L261.8 647.8 M261.8 647.8L268.8 648.7 M268.8 648.7L275.6 649.5 M275.6 649.5L282.4 650.4 M282.4 650.4L289.2 651.2 M289.2 651.2L295.8 652.1 M295.8 652.1L302.5 652.9 M302.5 652.9L309.1 653.7 M309.1 653.7L315.6 654.5 M315.6 654.5L322.1 655.3 M322.1 655.3L328.5 656.2 M328.5 656.2L334.9 657.0 M334.9 657.0L341.2 657.7 M139.2 628.9L147.1 629.9 M147.1 629.9L154.9 630.8 M154.9 630.8L162.7 631.8 M162.7 631.8L170.4 632.8 M170.4 632.8L178.0 633.7 M178.0 633.7L185.5 634.7 M185.5 634.7L193.0 635.6 M193.0 635.6L200.4 636.5 M200.4 636.5L207.8 637.5 M207.8 637.5L215.1 638.4 M215.1 638.4L222.3 639.3 M222.3 639.3L229.5 640.2 M229.5 640.2L236.6 641.1 M236.6 641.1L243.7 642.0 M243.7 642.0L250.7 642.9 M250.7 642.9L257.6 643.7 M257.6 643.7L264.5 644.6 M264.5 644.6L271.3 645.5 M271.3 645.5L278.1 646.3 M278.1 646.3L284.8 647.2 M284.8 647.2L291.5 648.0 M291.5 648.0L298.1 648.9 M298.1 648.9L304.7 649.7 M304.7 649.7L311.2 650.5 M311.2 650.5L317.6 651.3 M317.6 651.3L324.1 652.1 M324.1 652.1L330.4 653.0 M330.4 653.0L336.7 653.8 M135.5 624.7L143.3 625.7 M143.3 625.7L151.1 626.7 M151.1 626.7L158.8 627.7 M158.8 627.7L166.5 628.7 M166.5 628.7L174.1 629.6 M174.1 629.6L181.6 630.6 M181.6 630.6L189.0 631.5 M189.0 631.5L196.4 632.5 M196.4 632.5L203.8 633.4 M203.8 633.4L211.0 634.3 M211.0 634.3L218.2 635.2 M218.2 635.2L225.4 636.1 M225.4 636.1L232.5 637.0 M232.5 637.0L239.5 637.9 M239.5 637.9L246.5 638.8 M246.5 638.8L253.4 639.7 M253.4 639.7L260.3 640.6 M260.3 640.6L267.1 641.5 M267.1 641.5L273.9 642.3 M273.9 642.3L280.6 643.2 M280.6 643.2L287.2 644.0 M287.2 644.0L293.8 644.9 M293.8 644.9L300.3 645.7 M300.3 645.7L306.8 646.6 M306.8 646.6L313.3 647.4 M313.3 647.4L319.7 648.2 M319.7 648.2L326.0 649.0 M326.0 649.0L332.3 649.8 M131.8 620.7L139.6 621.7 M139.6 621.7L147.3 622.6 M147.3 622.6L155.0 623.6 M155.0 623.6L162.6 624.6 M162.6 624.6L170.2 625.6 M170.2 625.6L177.7 626.5 M177.7 626.5L185.1 627.5 M185.1 627.5L192.5 628.4 M192.5 628.4L199.8 629.4 M199.8 629.4L207.0 630.3 M207.0 630.3L214.2 631.2 M214.2 631.2L221.3 632.2 M221.3 632.2L228.4 633.1 M228.4 633.1L235.4 634.0 M235.4 634.0L242.4 634.9 M242.4 634.9L249.3 635.8 M249.3 635.8L256.1 636.7 M256.1 636.7L262.9 637.5 M262.9 637.5L269.6 638.4 M269.6 638.4L276.3 639.3 M276.3 639.3L283.0 640.1 M283.0 640.1L289.5 641.0 M289.5 641.0L296.1 641.8 M296.1 641.8L302.5 642.7 M302.5 642.7L309.0 643.5 M309.0 643.5L315.3 644.3 M315.3 644.3L321.7 645.2 M321.7 645.2L327.9 646.0 M128.1 616.7L135.9 617.7 M135.9 617.7L143.6 618.7 M143.6 618.7L151.3 619.7 M151.3 619.7L158.8 620.6 M158.8 620.6L166.4 621.6 M166.4 621.6L173.8 622.6 M173.8 622.6L181.2 623.5 M181.2 623.5L188.6 624.5 M188.6 624.5L195.9 625.4 M195.9 625.4L203.1 626.4 M203.1 626.4L210.2 627.3 M210.2 627.3L217.3 628.2 M217.3 628.2L224.4 629.2 M224.4 629.2L231.4 630.1 M231.4 630.1L238.3 631.0 M238.3 631.0L245.2 631.9 M245.2 631.9L252.0 632.8 M252.0 632.8L258.8 633.7 M258.8 633.7L265.5 634.5 M265.5 634.5L272.1 635.4 M272.1 635.4L278.8 636.3 M278.8 636.3L285.3 637.1 M285.3 637.1L291.8 638.0 M291.8 638.0L298.3 638.8 M298.3 638.8L304.7 639.7 M304.7 639.7L311.0 640.5 M311.0 640.5L317.3 641.4 M317.3 641.4L323.6 642.2 M124.5 612.7L132.2 613.7 M132.2 613.7L139.9 614.7 M139.9 614.7L147.5 615.7 M147.5 615.7L155.1 616.7 M155.1 616.7L162.6 617.7 M162.6 617.7L170.0 618.7 M170.0 618.7L177.4 619.7 M177.4 619.7L184.7 620.6 M184.7 620.6L192.0 621.6 M192.0 621.6L199.2 622.5 M199.2 622.5L206.3 623.5 M206.3 623.5L213.4 624.4 M213.4 624.4L220.4 625.3 M220.4 625.3L227.4 626.3 M227.4 626.3L234.3 627.2 M234.3 627.2L241.1 628.1 M241.1 628.1L247.9 629.0 M247.9 629.0L254.7 629.9 M254.7 629.9L261.4 630.8 M261.4 630.8L268.0 631.6 M268.0 631.6L274.6 632.5 M274.6 632.5L281.1 633.4 M281.1 633.4L287.6 634.2 M287.6 634.2L294.1 635.1 M294.1 635.1L300.4 635.9 M300.4 635.9L306.8 636.8 M306.8 636.8L313.1 637.6 M313.1 637.6L319.3 638.4 M120.9 608.9L128.6 609.9 M128.6 609.9L136.3 610.9 M136.3 610.9L143.9 611.9 M143.9 611.9L151.4 612.9 M151.4 612.9L158.9 613.9 M158.9 613.9L166.3 614.9 M166.3 614.9L173.6 615.9 M173.6 615.9L180.9 616.8 M180.9 616.8L188.1 617.8 M188.1 617.8L195.3 618.7 M195.3 618.7L202.4 619.7 M202.4 619.7L209.5 620.6 M209.5 620.6L216.5 621.6 M216.5 621.6L223.4 622.5 M223.4 622.5L230.3 623.4 M230.3 623.4L237.1 624.3 M237.1 624.3L243.9 625.2 M243.9 625.2L250.6 626.1 M250.6 626.1L257.3 627.0 M257.3 627.0L263.9 627.9 M263.9 627.9L270.5 628.8 M270.5 628.8L277.0 629.7 M277.0 629.7L283.5 630.5 M283.5 630.5L289.9 631.4 M289.9 631.4L296.3 632.2 M296.3 632.2L302.6 633.1 M302.6 633.1L308.9 633.9 M308.9 633.9L315.1 634.8 M117.4 605.1L125.0 606.1 M125.0 606.1L132.7 607.1 M132.7 607.1L140.2 608.1 M140.2 608.1L147.7 609.2 M147.7 609.2L155.2 610.1 M155.2 610.1L162.6 611.1 M162.6 611.1L169.9 612.1 M169.9 612.1L177.1 613.1 M177.1 613.1L184.3 614.1 M184.3 614.1L191.5 615.0 M191.5 615.0L198.6 616.0 M198.6 616.0L205.6 616.9 M205.6 616.9L212.6 617.9 M212.6 617.9L219.5 618.8 M219.5 618.8L226.4 619.7 M226.4 619.7L233.2 620.6 M233.2 620.6L239.9 621.6 M239.9 621.6L246.6 622.5 M246.6 622.5L253.3 623.4 M253.3 623.4L259.9 624.3 M259.9 624.3L266.4 625.1 M266.4 625.1L272.9 626.0 M272.9 626.0L279.4 626.9 M279.4 626.9L285.8 627.8 M285.8 627.8L292.1 628.6 M292.1 628.6L298.4 629.5 M298.4 629.5L304.7 630.3 M304.7 630.3L310.9 631.2 M113.9 601.4L121.5 602.4 M121.5 602.4L129.1 603.4 M129.1 603.4L136.7 604.5 M136.7 604.5L144.1 605.5 M144.1 605.5L151.5 606.5 M151.5 606.5L158.9 607.5 M158.9 607.5L166.2 608.5 M166.2 608.5L173.4 609.4 M173.4 609.4L180.6 610.4 M180.6 610.4L187.7 611.4 M187.7 611.4L194.8 612.3 M194.8 612.3L201.8 613.3 M201.8 613.3L208.7 614.2 M208.7 614.2L215.6 615.2 M215.6 615.2L222.5 616.1 M222.5 616.1L229.3 617.0 M229.3 617.0L236.0 617.9 M236.0 617.9L242.7 618.9 M242.7 618.9L249.3 619.8 M249.3 619.8L255.9 620.7 M255.9 620.7L262.4 621.6 M262.4 621.6L268.9 622.4 M268.9 622.4L275.3 623.3 M275.3 623.3L281.7 624.2 M281.7 624.2L288.0 625.1 M288.0 625.1L294.3 625.9 M294.3 625.9L300.5 626.8 M300.5 626.8L306.7 627.6 M110.4 597.7L118.0 598.8 M118.0 598.8L125.6 599.8 M125.6 599.8L133.1 600.8 M133.1 600.8L140.6 601.8 M140.6 601.8L147.9 602.9 M147.9 602.9L155.3 603.9 M155.3 603.9L162.5 604.8 M162.5 604.8L169.7 605.8 M169.7 605.8L176.9 606.8 M176.9 606.8L184.0 607.8 M184.0 607.8L191.0 608.8 M191.0 608.8L198.0 609.7 M198.0 609.7L204.9 610.7 M204.9 610.7L211.8 611.6 M211.8 611.6L218.6 612.5 M218.6 612.5L225.4 613.5 M225.4 613.5L232.1 614.4 M232.1 614.4L238.7 615.3 M238.7 615.3L245.4 616.2 M245.4 616.2L251.9 617.1 M251.9 617.1L258.4 618.0 M258.4 618.0L264.9 618.9 M264.9 618.9L271.3 619.8 M271.3 619.8L277.7 620.7 M277.7 620.7L284.0 621.6 M284.0 621.6L290.2 622.4 M290.2 622.4L296.5 623.3 M296.5 623.3L302.6 624.1 M107.0 594.2L114.6 595.2 M114.6 595.2L122.1 596.2 M122.1 596.2L129.6 597.3 M129.6 597.3L137.0 598.3 M137.0 598.3L144.4 599.3 M144.4 599.3L151.7 600.3 M151.7 600.3L158.9 601.3 M158.9 601.3L166.1 602.3 M166.1 602.3L173.2 603.3 M173.2 603.3L180.3 604.3 M180.3 604.3L187.3 605.2 M187.3 605.2L194.3 606.2 M194.3 606.2L201.2 607.2 M201.2 607.2L208.0 608.1 M208.0 608.1L214.8 609.0 M214.8 609.0L221.5 610.0 M221.5 610.0L228.2 610.9 M228.2 610.9L234.9 611.8 M234.9 611.8L241.5 612.7 M241.5 612.7L248.0 613.7 M248.0 613.7L254.5 614.6 M254.5 614.6L260.9 615.5 M260.9 615.5L267.3 616.3 M267.3 616.3L273.7 617.2 M273.7 617.2L280.0 618.1 M280.0 618.1L286.2 619.0 M286.2 619.0L292.4 619.9 M292.4 619.9L298.6 620.7 M103.6 590.6L111.2 591.7 M111.2 591.7L118.7 592.7 M118.7 592.7L126.2 593.8 M126.2 593.8L133.5 594.8 M133.5 594.8L140.9 595.8 M140.9 595.8L148.1 596.8 M148.1 596.8L155.3 597.8 M155.3 597.8L162.5 598.8 M162.5 598.8L169.6 599.8 M169.6 599.8L176.6 600.8 M176.6 600.8L183.6 601.8 M183.6 601.8L190.6 602.7 M190.6 602.7L197.4 603.7 M197.4 603.7L204.3 604.7 M204.3 604.7L211.0 605.6 M211.0 605.6L217.8 606.6 M217.8 606.6L224.4 607.5 M224.4 607.5L231.0 608.4 M231.0 608.4L237.6 609.3 M237.6 609.3L244.1 610.2 M244.1 610.2L250.6 611.2 M250.6 611.2L257.0 612.1 M257.0 612.1L263.4 613.0 M263.4 613.0L269.7 613.8 M269.7 613.8L276.0 614.7 M276.0 614.7L282.2 615.6 M282.2 615.6L288.4 616.5 M288.4 616.5L294.5 617.3 M100.3 587.2L107.8 588.3 M107.8 588.3L115.3 589.3 M115.3 589.3L122.7 590.3 M122.7 590.3L130.1 591.4 M130.1 591.4L137.4 592.4 M137.4 592.4L144.6 593.4 M144.6 593.4L151.8 594.4 M151.8 594.4L158.9 595.4 M158.9 595.4L166.0 596.4 M166.0 596.4L173.0 597.4 M173.0 597.4L180.0 598.4 M180.0 598.4L186.9 599.4 M186.9 599.4L193.8 600.3 M193.8 600.3L200.6 601.3 M200.6 601.3L207.3 602.2 M207.3 602.2L214.0 603.2 M214.0 603.2L220.7 604.1 M220.7 604.1L227.2 605.1 M227.2 605.1L233.8 606.0 M233.8 606.0L240.3 606.9 M240.3 606.9L246.7 607.8 M246.7 607.8L253.1 608.7 M253.1 608.7L259.5 609.6 M259.5 609.6L265.8 610.5 M265.8 610.5L272.1 611.4 M272.1 611.4L278.3 612.3 M278.3 612.3L284.4 613.2 M284.4 613.2L290.6 614.0 M97.0 583.8L104.5 584.9 M104.5 584.9L112.0 585.9 M112.0 585.9L119.4 587.0 M119.4 587.0L126.7 588.0 M126.7 588.0L134.0 589.0 M134.0 589.0L141.2 590.1 M141.2 590.1L148.3 591.1 M148.3 591.1L155.4 592.1 M155.4 592.1L162.5 593.1 M162.5 593.1L169.5 594.1 M169.5 594.1L176.4 595.1 M176.4 595.1L183.3 596.0 M183.3 596.0L190.1 597.0 M190.1 597.0L196.9 598.0 M196.9 598.0L203.6 598.9 M203.6 598.9L210.3 599.9 M210.3 599.9L216.9 600.8 M216.9 600.8L223.5 601.8 M223.5 601.8L230.0 602.7 M230.0 602.7L236.5 603.6 M236.5 603.6L242.9 604.5 M242.9 604.5L249.3 605.4 M249.3 605.4L255.6 606.3 M255.6 606.3L261.9 607.2 M261.9 607.2L268.2 608.1 M268.2 608.1L274.4 609.0 M274.4 609.0L280.5 609.9 M280.5 609.9L286.6 610.8 M93.8 580.5L101.2 581.6 M101.2 581.6L108.7 582.6 M108.7 582.6L116.0 583.7 M116.0 583.7L123.3 584.7 M123.3 584.7L130.6 585.7 M130.6 585.7L137.7 586.8 M137.7 586.8L144.9 587.8 M144.9 587.8L152.0 588.8 M152.0 588.8L159.0 589.8 M159.0 589.8L165.9 590.8 M165.9 590.8L172.9 591.8 M172.9 591.8L179.7 592.8 M179.7 592.8L186.5 593.7 M186.5 593.7L193.3 594.7 M193.3 594.7L200.0 595.7 M200.0 595.7L206.6 596.6 M206.6 596.6L213.2 597.6 M213.2 597.6L219.8 598.5 M219.8 598.5L226.3 599.4 M226.3 599.4L232.7 600.4 M232.7 600.4L239.2 601.3 M239.2 601.3L245.5 602.2 M245.5 602.2L251.8 603.1 M251.8 603.1L258.1 604.0 M258.1 604.0L264.3 604.9 M264.3 604.9L270.5 605.8 M270.5 605.8L276.6 606.7 M276.6 606.7L282.7 607.6 M90.5 577.3L98.0 578.3 M98.0 578.3L105.4 579.4 M105.4 579.4L112.7 580.4 M112.7 580.4L120.0 581.5 M120.0 581.5L127.2 582.5 M127.2 582.5L134.4 583.5 M134.4 583.5L141.5 584.6 M141.5 584.6L148.5 585.6 M148.5 585.6L155.5 586.6 M155.5 586.6L162.4 587.6 M162.4 587.6L169.3 588.6 M169.3 588.6L176.2 589.6 M176.2 589.6L183.0 590.5 M183.0 590.5L189.7 591.5 M189.7 591.5L196.4 592.5 M196.4 592.5L203.0 593.4 M203.0 593.4L209.6 594.4 M209.6 594.4L216.1 595.3 M216.1 595.3L222.6 596.3 M222.6 596.3L229.0 597.2 M229.0 597.2L235.4 598.1 M235.4 598.1L241.8 599.0 M241.8 599.0L248.1 600.0 M248.1 600.0L254.3 600.9 M254.3 600.9L260.5 601.8 M260.5 601.8L266.7 602.7 M266.7 602.7L272.8 603.5 M272.8 603.5L278.8 604.4 M87.4 574.1L94.8 575.1 M94.8 575.1L102.1 576.2 M102.1 576.2L109.4 577.3 M109.4 577.3L116.7 578.3 M116.7 578.3L123.9 579.3 M123.9 579.3L131.0 580.4 M131.0 580.4L138.1 581.4 M138.1 581.4L145.1 582.4 M145.1 582.4L152.1 583.4 M152.1 583.4L159.0 584.4 M159.0 584.4L165.9 585.4 M165.9 585.4L172.7 586.4 M172.7 586.4L179.4 587.4 M179.4 587.4L186.1 588.4 M186.1 588.4L192.8 589.3 M192.8 589.3L199.4 590.3 M199.4 590.3L206.0 591.3 M206.0 591.3L212.5 592.2 M212.5 592.2L218.9 593.1 M218.9 593.1L225.4 594.1 M225.4 594.1L231.7 595.0 M231.7 595.0L238.0 595.9 M238.0 595.9L244.3 596.8 M244.3 596.8L250.5 597.8 M250.5 597.8L256.7 598.7 M256.7 598.7L262.9 599.6 M262.9 599.6L269.0 600.5 M269.0 600.5L275.0 601.3 M84.2 570.9L91.6 572.0 M91.6 572.0L98.9 573.1 M98.9 573.1L106.2 574.1 M106.2 574.1L113.4 575.2 M113.4 575.2L120.6 576.2 M120.6 576.2L127.7 577.3 M127.7 577.3L134.8 578.3 M134.8 578.3L141.8 579.3 M141.8 579.3L148.7 580.3 M148.7 580.3L155.6 581.3 M155.6 581.3L162.4 582.3 M162.4 582.3L169.2 583.3 M169.2 583.3L175.9 584.3 M175.9 584.3L182.6 585.3 M182.6 585.3L189.3 586.3 M189.3 586.3L195.9 587.2 M195.9 587.2L202.4 588.2 M202.4 588.2L208.9 589.1 M208.9 589.1L215.3 590.1 M215.3 590.1L221.7 591.0 M221.7 591.0L228.1 591.9 M228.1 591.9L234.4 592.9 M234.4 592.9L240.6 593.8 M240.6 593.8L246.8 594.7 M246.8 594.7L253.0 595.6 M253.0 595.6L259.1 596.5 M259.1 596.5L265.2 597.4 M265.2 597.4L271.2 598.3 M81.1 567.9L88.5 568.9 M88.5 568.9L95.8 570.0 M95.8 570.0L103.0 571.1 M103.0 571.1L110.2 572.1 M110.2 572.1L117.4 573.2 M117.4 573.2L124.4 574.2 M124.4 574.2L131.5 575.2 M131.5 575.2L138.4 576.3 M138.4 576.3L145.3 577.3 M145.3 577.3L152.2 578.3 M152.2 578.3L159.0 579.3 M159.0 579.3L165.8 580.3 M165.8 580.3L172.5 581.3 M172.5 581.3L179.2 582.3 M179.2 582.3L185.8 583.2 M185.8 583.2L192.3 584.2 M192.3 584.2L198.9 585.2 M198.9 585.2L205.3 586.1 M205.3 586.1L211.7 587.1 M211.7 587.1L218.1 588.0 M218.1 588.0L224.4 588.9 M224.4 588.9L230.7 589.9 M230.7 589.9L237.0 590.8 M237.0 590.8L243.2 591.7 M243.2 591.7L249.3 592.6 M249.3 592.6L255.4 593.5 M255.4 593.5L261.5 594.4 M261.5 594.4L267.5 595.3 M78.1 564.9L85.4 565.9 M85.4 565.9L92.7 567.0 M92.7 567.0L99.9 568.1 M99.9 568.1L107.0 569.1 M107.0 569.1L114.1 570.2 M114.1 570.2L121.2 571.2 M121.2 571.2L128.2 572.2 M128.2 572.2L135.1 573.3 M135.1 573.3L142.0 574.3 M142.0 574.3L148.9 575.3 M148.9 575.3L155.7 576.3 M155.7 576.3L162.4 577.3 M162.4 577.3L169.1 578.3 M169.1 578.3L175.7 579.3 M175.7 579.3L182.3 580.3 M182.3 580.3L188.9 581.2 M188.9 581.2L195.4 582.2 M195.4 582.2L201.8 583.1 M201.8 583.1L208.2 584.1 M208.2 584.1L214.6 585.0 M214.6 585.0L220.9 586.0 M220.9 586.0L227.1 586.9 M227.1 586.9L233.3 587.8 M233.3 587.8L239.5 588.8 M239.5 588.8L245.6 589.7 M245.6 589.7L251.7 590.6 M251.7 590.6L257.8 591.5 M257.8 591.5L263.8 592.4 M75.0 561.9L82.3 563.0 M82.3 563.0L89.6 564.1 M89.6 564.1L96.8 565.1 M96.8 565.1L103.9 566.2 M103.9 566.2L111.0 567.2 M111.0 567.2L118.0 568.3 M118.0 568.3L125.0 569.3 M125.0 569.3L131.9 570.3 M131.9 570.3L138.8 571.4 M138.8 571.4L145.6 572.4 M145.6 572.4L152.3 573.4 M152.3 573.4L159.1 574.4 M159.1 574.4L165.7 575.4 M165.7 575.4L172.3 576.4 M172.3 576.4L178.9 577.3 M178.9 577.3L185.4 578.3 M185.4 578.3L191.9 579.3 M191.9 579.3L198.3 580.2 M198.3 580.2L204.7 581.2 M204.7 581.2L211.0 582.1 M211.0 582.1L217.3 583.1 M217.3 583.1L223.6 584.0 M223.6 584.0L229.8 584.9 M229.8 584.9L235.9 585.9 M235.9 585.9L242.0 586.8 M242.0 586.8L248.1 587.7 M248.1 587.7L254.1 588.6 M254.1 588.6L260.1 589.5 M72.0 559.0L79.3 560.1 M79.3 560.1L86.5 561.2 M86.5 561.2L93.7 562.2 M93.7 562.2L100.8 563.3 M100.8 563.3L107.8 564.3 M107.8 564.3L114.8 565.4 M114.8 565.4L121.8 566.4 M121.8 566.4L128.7 567.5 M128.7 567.5L135.5 568.5 M135.5 568.5L142.3 569.5 M142.3 569.5L149.0 570.5 M149.0 570.5L155.7 571.5 M155.7 571.5L162.4 572.5 M162.4 572.5L169.0 573.5 M169.0 573.5L175.5 574.5 M175.5 574.5L182.0 575.5 M182.0 575.5L188.5 576.4 M188.5 576.4L194.9 577.4 M194.9 577.4L201.2 578.3 M201.2 578.3L207.5 579.3 M207.5 579.3L213.8 580.2 M213.8 580.2L220.0 581.2 M220.0 581.2L226.2 582.1 M226.2 582.1L232.4 583.0 M232.4 583.0L238.4 583.9 M238.4 583.9L244.5 584.9 M244.5 584.9L250.5 585.8 M250.5 585.8L256.5 586.7 M69.1 556.2L76.3 557.2 M76.3 557.2L83.5 558.3 M83.5 558.3L90.6 559.4 M90.6 559.4L97.7 560.5 M97.7 560.5L104.7 561.5 M104.7 561.5L111.7 562.6 M111.7 562.6L118.6 563.6 M118.6 563.6L125.5 564.6 M125.5 564.6L132.3 565.7 M132.3 565.7L139.1 566.7 M139.1 566.7L145.8 567.7 M145.8 567.7L152.5 568.7 M152.5 568.7L159.1 569.7 M159.1 569.7L165.7 570.7 M165.7 570.7L172.2 571.7 M172.2 571.7L178.7 572.6 M178.7 572.6L185.1 573.6 M185.1 573.6L191.5 574.6 M191.5 574.6L197.8 575.5 M197.8 575.5L204.1 576.5 M204.1 576.5L210.3 577.4 M210.3 577.4L216.5 578.4 M216.5 578.4L222.7 579.3 M222.7 579.3L228.8 580.2 M228.8 580.2L234.9 581.2 M234.9 581.2L240.9 582.1 M240.9 582.1L246.9 583.0 M246.9 583.0L252.9 583.9 M66.1 553.4L73.4 554.5 M73.4 554.5L80.5 555.5 M80.5 555.5L87.6 556.6 M87.6 556.6L94.7 557.7 M94.7 557.7L101.7 558.7 M101.7 558.7L108.6 559.8 M108.6 559.8L115.5 560.8 M115.5 560.8L122.3 561.9 M122.3 561.9L129.1 562.9 M129.1 562.9L135.9 563.9 M135.9 563.9L142.6 564.9 M142.6 564.9L149.2 565.9 M149.2 565.9L155.8 566.9 M155.8 566.9L162.4 567.9 M162.4 567.9L168.9 568.9 M168.9 568.9L175.3 569.9 M175.3 569.9L181.7 570.9 M181.7 570.9L188.1 571.8 M188.1 571.8L194.4 572.8 M194.4 572.8L200.7 573.7 M200.7 573.7L206.9 574.7 M206.9 574.7L213.1 575.6 M213.1 575.6L219.2 576.6 M219.2 576.6L225.3 577.5 M225.3 577.5L231.4 578.4 M231.4 578.4L237.4 579.3 M237.4 579.3L243.4 580.2 M243.4 580.2L249.3 581.2 M63.2 550.7L70.4 551.7 M70.4 551.7L77.6 552.8 M77.6 552.8L84.6 553.9 M84.6 553.9L91.7 555.0 M91.7 555.0L98.6 556.0 M98.6 556.0L105.5 557.1 M105.5 557.1L112.4 558.1 M112.4 558.1L119.2 559.1 M119.2 559.1L126.0 560.2 M126.0 560.2L132.7 561.2 M132.7 561.2L139.4 562.2 M139.4 562.2L146.0 563.2 M146.0 563.2L152.6 564.2 M152.6 564.2L159.1 565.2 M159.1 565.2L165.6 566.2 M165.6 566.2L172.0 567.2 M172.0 567.2L178.4 568.2 M178.4 568.2L184.7 569.1 M184.7 569.1L191.0 570.1 M191.0 570.1L197.3 571.0 M197.3 571.0L203.5 572.0 M203.5 572.0L209.7 572.9 M209.7 572.9L215.8 573.9 M215.8 573.9L221.9 574.8 M221.9 574.8L227.9 575.7 M227.9 575.7L233.9 576.6 M233.9 576.6L239.9 577.6 M239.9 577.6L245.8 578.5 M60.4 548.0L67.5 549.1 M67.5 549.1L74.6 550.1 M74.6 550.1L81.7 551.2 M81.7 551.2L88.7 552.3 M88.7 552.3L95.6 553.3 M95.6 553.3L102.5 554.4 M102.5 554.4L109.4 555.4 M109.4 555.4L116.2 556.5 M116.2 556.5L122.9 557.5 M122.9 557.5L129.6 558.5 M129.6 558.5L136.2 559.5 M136.2 559.5L142.8 560.6 M142.8 560.6L149.4 561.6 M149.4 561.6L155.9 562.6 M155.9 562.6L162.3 563.5 M162.3 563.5L168.8 564.5 M168.8 564.5L175.1 565.5 M175.1 565.5L181.4 566.5 M181.4 566.5L187.7 567.4 M187.7 567.4L193.9 568.4 M193.9 568.4L200.1 569.3 M200.1 569.3L206.3 570.3 M206.3 570.3L212.4 571.2 M212.4 571.2L218.4 572.2 M218.4 572.2L224.5 573.1 M224.5 573.1L230.4 574.0 M230.4 574.0L236.4 574.9 M236.4 574.9L242.3 575.8 M57.6 545.4L64.7 546.4 M64.7 546.4L71.8 547.5 M71.8 547.5L78.8 548.6 M78.8 548.6L85.7 549.7 M85.7 549.7L92.7 550.7 M92.7 550.7L99.5 551.8 M99.5 551.8L106.3 552.8 M106.3 552.8L113.1 553.9 M113.1 553.9L119.8 554.9 M119.8 554.9L126.5 555.9 M126.5 555.9L133.1 556.9 M133.1 556.9L139.7 557.9 M139.7 557.9L146.2 558.9 M146.2 558.9L152.7 559.9 M152.7 559.9L159.1 560.9 M159.1 560.9L165.5 561.9 M165.5 561.9L171.9 562.9 M171.9 562.9L178.2 563.9 M178.2 563.9L184.4 564.8 M184.4 564.8L190.6 565.8 M190.6 565.8L196.8 566.7 M196.8 566.7L202.9 567.7 M202.9 567.7L209.0 568.6 M209.0 568.6L215.1 569.6 M215.1 569.6L221.1 570.5 M221.1 570.5L227.0 571.4 M227.0 571.4L232.9 572.3 M232.9 572.3L238.8 573.2 M54.8 542.8L61.9 543.9 M61.9 543.9L68.9 545.0 M68.9 545.0L75.9 546.0 M75.9 546.0L82.8 547.1 M82.8 547.1L89.7 548.2 M89.7 548.2L96.6 549.2 M96.6 549.2L103.4 550.3 M103.4 550.3L110.1 551.3 M110.1 551.3L116.8 552.3 M116.8 552.3L123.4 553.4 M123.4 553.4L130.0 554.4 M130.0 554.4L136.6 555.4 M136.6 555.4L143.1 556.4 M143.1 556.4L149.5 557.4 M149.5 557.4L156.0 558.4 M156.0 558.4L162.3 559.4 M162.3 559.4L168.7 560.3 M168.7 560.3L174.9 561.3 M174.9 561.3L181.2 562.3 M181.2 562.3L187.4 563.2 M187.4 563.2L193.5 564.2 M193.5 564.2L199.6 565.1 M199.6 565.1L205.7 566.1 M205.7 566.1L211.7 567.0 M211.7 567.0L217.7 567.9 M217.7 567.9L223.6 568.9 M223.6 568.9L229.5 569.8 M229.5 569.8L235.4 570.7 M52.0 540.3L59.1 541.4 M59.1 541.4L66.1 542.4 M66.1 542.4L73.0 543.5 M73.0 543.5L80.0 544.6 M80.0 544.6L86.8 545.6 M86.8 545.6L93.6 546.7 M93.6 546.7L100.4 547.7 M100.4 547.7L107.1 548.8 M107.1 548.8L113.8 549.8 M113.8 549.8L120.4 550.8 M120.4 550.8L127.0 551.9 M127.0 551.9L133.5 552.9 M133.5 552.9L140.0 553.9 M140.0 553.9L146.4 554.9 M146.4 554.9L152.8 555.9 M152.8 555.9L159.2 556.9 M159.2 556.9L165.5 557.8 M165.5 557.8L171.7 558.8 M171.7 558.8L177.9 559.8 M177.9 559.8L184.1 560.7 M184.1 560.7L190.2 561.7 M190.2 561.7L196.3 562.6 M196.3 562.6L202.4 563.6 M202.4 563.6L208.4 564.5 M208.4 564.5L214.3 565.4 M214.3 565.4L220.3 566.4 M220.3 566.4L226.1 567.3 M226.1 567.3L232.0 568.2" fill="none" stroke="#111" stroke-opacity="0.80" stroke-width="1.0" stroke-linecap="round"/>
<circle cx="122.8" cy="249.3" r="3.0" fill="#c80000" stroke="#600000" stroke-width="0.8"/>
<circle cx="186.3" cy="116.6" r="3.0" fill="#c80000" stroke="#600000" stroke-width="0.8"/>
<line x1="340.8" y1="220" x2="340.5" y2="228" stroke="#555" stroke-width="0.8"/>
<circle cx="340.4" cy="231.0" r="3.0" fill="#f4c4c4" stroke="#9a6060" stroke-width="0.8"/>
<circle cx="231.5" cy="565.2" r="3.3" fill="#c80000" stroke="#600000" stroke-width="0.8"/>
<circle cx="192.5" cy="595.7" r="2.4" fill="#c80000" stroke="#600000" stroke-width="0.8"/>
<line x1="143.2" y1="632.5" x2="143" y2="647" stroke="#444" stroke-width="0.9"/>
<circle cx="142.9" cy="650.2" r="3.0" fill="#f4c4c4" stroke="#9a6060" stroke-width="0.8"/>
<circle cx="339.8" cy="657.2" r="3.0" fill="#c80000" stroke="#600000" stroke-width="0.8"/>
<rect x="415.8" y="22.8" width="289.7" height="328.4" fill="none" stroke="#6a6a6a" stroke-width="1.6"/>
<line x1="408.8" y1="334.7" x2="415.8" y2="334.7" stroke="#6a6a6a" stroke-width="1.4"/>
<text x="405.8" y="339.0" font-family="Liberation Serif" font-weight="bold" font-size="12.8" text-anchor="end" fill="#111">25</text>
<line x1="408.8" y1="260.8" x2="415.8" y2="260.8" stroke="#6a6a6a" stroke-width="1.4"/>
<text x="405.8" y="265.1" font-family="Liberation Serif" font-weight="bold" font-size="12.8" text-anchor="end" fill="#111">30</text>
<line x1="408.8" y1="186.8" x2="415.8" y2="186.8" stroke="#6a6a6a" stroke-width="1.4"/>
<text x="405.8" y="191.1" font-family="Liberation Serif" font-weight="bold" font-size="12.8" text-anchor="end" fill="#111">35</text>
<line x1="408.8" y1="112.8" x2="415.8" y2="112.8" stroke="#6a6a6a" stroke-width="1.4"/>
<text x="405.8" y="117.1" font-family="Liberation Serif" font-weight="bold" font-size="12.8" text-anchor="end" fill="#111">40</text>
<line x1="408.8" y1="38.9" x2="415.8" y2="38.9" stroke="#6a6a6a" stroke-width="1.4"/>
<text x="405.8" y="43.2" font-family="Liberation Serif" font-weight="bold" font-size="12.8" text-anchor="end" fill="#111">45</text>
<line x1="429.7" y1="351.2" x2="429.7" y2="358.2" stroke="#6a6a6a" stroke-width="1.4"/>
<text x="428.7" y="370.7" font-family="Liberation Serif" font-weight="bold" font-size="12.8" text-anchor="middle" fill="#111">25</text>
<line x1="495.4" y1="351.2" x2="495.4" y2="358.2" stroke="#6a6a6a" stroke-width="1.4"/>
<text x="494.4" y="370.7" font-family="Liberation Serif" font-weight="bold" font-size="12.8" text-anchor="middle" fill="#111">30</text>
<line x1="561.1" y1="351.2" x2="561.1" y2="358.2" stroke="#6a6a6a" stroke-width="1.4"/>
<text x="560.1" y="370.7" font-family="Liberation Serif" font-weight="bold" font-size="12.8" text-anchor="middle" fill="#111">35</text>
<line x1="626.8" y1="351.2" x2="626.8" y2="358.2" stroke="#6a6a6a" stroke-width="1.4"/>
<text x="625.8" y="370.7" font-family="Liberation Serif" font-weight="bold" font-size="12.8" text-anchor="middle" fill="#111">40</text>
<line x1="692.5" y1="351.2" x2="692.5" y2="358.2" stroke="#6a6a6a" stroke-width="1.4"/>
<text x="691.5" y="370.7" font-family="Liberation Serif" font-weight="bold" font-size="12.8" text-anchor="middle" fill="#111">45</text>
<line x1="429.7" y1="334.7" x2="692.5" y2="38.9" stroke="#666" stroke-width="1.2"/>
<rect x="686.8" y="38.8" width="5.6" height="5.6" fill="#e00000" stroke="#333" stroke-width="0.8"/>
<rect x="652.1" y="87.6" width="5.6" height="5.6" fill="#ffa500" stroke="#333" stroke-width="0.8"/>
<rect x="638.8" y="111.5" width="5.6" height="5.6" fill="#ffff00" stroke="#333" stroke-width="0.8"/>
<rect x="619.1" y="117.7" width="5.6" height="5.6" fill="#a0ff00" stroke="#333" stroke-width="0.8"/>
<rect x="602.2" y="129.3" width="5.6" height="5.6" fill="#50e000" stroke="#333" stroke-width="0.8"/>
<rect x="562.2" y="173.6" width="5.6" height="5.6" fill="#00e080" stroke="#333" stroke-width="0.8"/>
<rect x="520.2" y="201.3" width="5.6" height="5.6" fill="#00a0f0" stroke="#333" stroke-width="0.8"/>
<rect x="493.3" y="224.7" width="5.6" height="5.6" fill="#0020e0" stroke="#333" stroke-width="0.8"/>
<rect x="485.6" y="300.4" width="5.6" height="5.6" fill="#0000e0" stroke="#333" stroke-width="0.8"/>
<text x="683.0" y="43.0" font-family="Liberation Sans" font-size="5" fill="#888">5</text>
<rect x="421.2" y="459.0" width="282.5" height="345.9" fill="none" stroke="#6a6a6a" stroke-width="1.6"/>
<line x1="414.2" y1="787.6" x2="421.2" y2="787.6" stroke="#6a6a6a" stroke-width="1.4"/>
<text x="411.2" y="791.6" font-family="Liberation Serif" font-weight="bold" font-size="11.8" text-anchor="end" fill="#111">15</text>
<line x1="414.2" y1="735.8" x2="421.2" y2="735.8" stroke="#6a6a6a" stroke-width="1.4"/>
<text x="411.2" y="739.8" font-family="Liberation Serif" font-weight="bold" font-size="11.8" text-anchor="end" fill="#111">20</text>
<line x1="414.2" y1="683.9" x2="421.2" y2="683.9" stroke="#6a6a6a" stroke-width="1.4"/>
<text x="411.2" y="687.9" font-family="Liberation Serif" font-weight="bold" font-size="11.8" text-anchor="end" fill="#111">25</text>
<line x1="414.2" y1="632.1" x2="421.2" y2="632.1" stroke="#6a6a6a" stroke-width="1.4"/>
<text x="411.2" y="636.1" font-family="Liberation Serif" font-weight="bold" font-size="11.8" text-anchor="end" fill="#111">30</text>
<line x1="414.2" y1="580.2" x2="421.2" y2="580.2" stroke="#6a6a6a" stroke-width="1.4"/>
<text x="411.2" y="584.2" font-family="Liberation Serif" font-weight="bold" font-size="11.8" text-anchor="end" fill="#111">35</text>
<line x1="414.2" y1="528.4" x2="421.2" y2="528.4" stroke="#6a6a6a" stroke-width="1.4"/>
<text x="411.2" y="532.4" font-family="Liberation Serif" font-weight="bold" font-size="11.8" text-anchor="end" fill="#111">40</text>
<line x1="414.2" y1="476.5" x2="421.2" y2="476.5" stroke="#6a6a6a" stroke-width="1.4"/>
<text x="411.2" y="480.5" font-family="Liberation Serif" font-weight="bold" font-size="11.8" text-anchor="end" fill="#111">45</text>
<line x1="435.1" y1="804.9" x2="435.1" y2="811.9" stroke="#6a6a6a" stroke-width="1.4"/>
<text x="434.1" y="825.9" font-family="Liberation Serif" font-weight="bold" font-size="11.8" text-anchor="middle" fill="#111">15</text>
<line x1="477.5" y1="804.9" x2="477.5" y2="811.9" stroke="#6a6a6a" stroke-width="1.4"/>
<text x="476.5" y="825.9" font-family="Liberation Serif" font-weight="bold" font-size="11.8" text-anchor="middle" fill="#111">20</text>
<line x1="519.8" y1="804.9" x2="519.8" y2="811.9" stroke="#6a6a6a" stroke-width="1.4"/>
<text x="518.8" y="825.9" font-family="Liberation Serif" font-weight="bold" font-size="11.8" text-anchor="middle" fill="#111">25</text>
<line x1="562.2" y1="804.9" x2="562.2" y2="811.9" stroke="#6a6a6a" stroke-width="1.4"/>
<text x="561.2" y="825.9" font-family="Liberation Serif" font-weight="bold" font-size="11.8" text-anchor="middle" fill="#111">30</text>
<line x1="604.5" y1="804.9" x2="604.5" y2="811.9" stroke="#6a6a6a" stroke-width="1.4"/>
<text x="603.5" y="825.9" font-family="Liberation Serif" font-weight="bold" font-size="11.8" text-anchor="middle" fill="#111">35</text>
<line x1="646.9" y1="804.9" x2="646.9" y2="811.9" stroke="#6a6a6a" stroke-width="1.4"/>
<text x="645.9" y="825.9" font-family="Liberation Serif" font-weight="bold" font-size="11.8" text-anchor="middle" fill="#111">40</text>
<line x1="689.2" y1="804.9" x2="689.2" y2="811.9" stroke="#6a6a6a" stroke-width="1.4"/>
<text x="688.2" y="825.9" font-family="Liberation Serif" font-weight="bold" font-size="11.8" text-anchor="middle" fill="#111">45</text>
<line x1="435.1" y1="787.6" x2="689.2" y2="476.5" stroke="#666" stroke-width="1.2"/>
<rect x="653.2" y="544.2" width="5.6" height="5.6" fill="#ff8000" stroke="#333" stroke-width="0.8"/>
<rect x="583.2" y="571.2" width="5.6" height="5.6" fill="#ff8000" stroke="#333" stroke-width="0.8"/>
<rect x="569.7" y="593.7" width="5.6" height="5.6" fill="#ff8000" stroke="#333" stroke-width="0.8"/>
<rect x="555.2" y="647.7" width="5.6" height="5.6" fill="#ff8000" stroke="#333" stroke-width="0.8"/>
<rect x="541.2" y="651.2" width="5.6" height="5.6" fill="#ff8000" stroke="#333" stroke-width="0.8"/>
<rect x="525.7" y="675.2" width="5.6" height="5.6" fill="#ff8000" stroke="#333" stroke-width="0.8"/>
<rect x="492.2" y="712.7" width="5.6" height="5.6" fill="#ff8000" stroke="#333" stroke-width="0.8"/>
<rect x="482.7" y="729.7" width="5.6" height="5.6" fill="#ff8000" stroke="#333" stroke-width="0.8"/>
<rect x="458.7" y="740.2" width="5.6" height="5.6" fill="#ff8000" stroke="#333" stroke-width="0.8"/>
<text x="537.0" y="657.0" font-family="Liberation Sans" font-size="5" fill="#888">5</text>
<text transform="translate(19.95 20.45) rotate(0.00)" font-family="Liberation Sans" font-weight="bold" font-size="24.00" text-anchor="middle" fill="#000" textLength="31.3" lengthAdjust="spacingAndGlyphs">(a)</text>
<text transform="translate(16.80 436.70) rotate(0.00)" font-family="Liberation Sans" font-weight="bold" font-size="25.00" text-anchor="middle" fill="#000" textLength="34.0" lengthAdjust="spacingAndGlyphs">(b)</text>
<text transform="translate(171.95 16.85) rotate(0.00)" font-family="Liberation Serif" font-weight="bold" font-size="18.00" text-anchor="middle" fill="#111" textLength="26.5" lengthAdjust="spacingAndGlyphs">AC</text>
<text transform="translate(158.05 432.05) rotate(0.00)" font-family="Liberation Serif" font-weight="bold" font-size="17.50" text-anchor="middle" fill="#111" textLength="23.5" lengthAdjust="spacingAndGlyphs">AC</text>
<text transform="translate(17.70 141.60) rotate(-90.00)" font-family="Liberation Serif" font-weight="bold" font-size="17.00" text-anchor="middle" fill="#1a1a28" textLength="120.0" lengthAdjust="spacingAndGlyphs">Bio-oil yield (%)</text>
<text transform="translate(26.25 563.15) rotate(-90.00)" font-family="Liberation Serif" font-weight="bold" font-size="15.50" text-anchor="middle" fill="#1a1a28" textLength="152.4" lengthAdjust="spacingAndGlyphs">Biochar yield (%)</text>
<text transform="translate(381.90 190.85) rotate(-90.00)" font-family="Liberation Serif" font-weight="bold" font-size="15.50" text-anchor="middle" fill="#111" textLength="70.5" lengthAdjust="spacingAndGlyphs">Predicted</text>
<text transform="translate(387.30 635.40) rotate(-90.00)" font-family="Liberation Serif" font-weight="bold" font-size="15.50" text-anchor="middle" fill="#111" textLength="72.0" lengthAdjust="spacingAndGlyphs">Predicted</text>
<text transform="translate(564.40 18.45) rotate(0.00)" font-family="Liberation Serif" font-weight="bold" font-size="16.00" text-anchor="middle" fill="#111" textLength="133.0" lengthAdjust="spacingAndGlyphs">Predicted Vs. Actual</text>
<text transform="translate(553.95 451.15) rotate(0.00)" font-family="Liberation Serif" font-weight="bold" font-size="16.00" text-anchor="middle" fill="#111" textLength="123.5" lengthAdjust="spacingAndGlyphs">Predicted Vs. Actual</text>
<text transform="translate(562.15 391.25) rotate(0.00)" font-family="Liberation Serif" font-weight="bold" font-size="16.00" text-anchor="middle" fill="#111" textLength="41.5" lengthAdjust="spacingAndGlyphs">Actual</text>
<text transform="translate(556.60 844.30) rotate(0.00)" font-family="Liberation Serif" font-weight="bold" font-size="16.00" text-anchor="middle" fill="#111" textLength="39.0" lengthAdjust="spacingAndGlyphs">Actual</text>
<text transform="translate(56.85 329.65) rotate(-114.00)" font-family="Liberation Serif" font-weight="bold" font-size="17.50" text-anchor="middle" fill="#111" textLength="147.2" lengthAdjust="spacingAndGlyphs">Additive Ratios (%)</text>
<text transform="translate(71.50 782.40) rotate(-125.00)" font-family="Liberation Serif" font-weight="bold" font-size="16.50" text-anchor="middle" fill="#111" textLength="149.3" lengthAdjust="spacingAndGlyphs">Additive Ratios (%)</text>
<text transform="translate(272.25 380.30) rotate(-19.10)" font-family="Liberation Serif" font-weight="bold" font-size="17.00" text-anchor="middle" fill="#111" textLength="167.1" lengthAdjust="spacingAndGlyphs">Microwave Power (W)</text>
<text transform="translate(261.65 829.50) rotate(-19.50)" font-family="Liberation Serif" font-weight="bold" font-size="16.50" text-anchor="middle" fill="#111" textLength="166.1" lengthAdjust="spacingAndGlyphs">Microwave Power (W)</text>
<text x="26.0" y="48.0" font-family="Liberation Sans" font-size="8" text-anchor="middle" fill="#5a5a5a">50</text>
<text x="28.0" y="78.5" font-family="Liberation Sans" font-size="8" text-anchor="middle" fill="#5a5a5a">45</text>
<text x="30.0" y="108.5" font-family="Liberation Sans" font-size="8" text-anchor="middle" fill="#5a5a5a">40</text>
<text x="32.0" y="138.5" font-family="Liberation Sans" font-size="8" text-anchor="middle" fill="#5a5a5a">35</text>
<text x="34.0" y="168.5" font-family="Liberation Sans" font-size="8" text-anchor="middle" fill="#5a5a5a">30</text>
<text x="36.0" y="199.5" font-family="Liberation Sans" font-size="8" text-anchor="middle" fill="#5a5a5a">25</text>
<text x="40.0" y="257.5" font-family="Liberation Sans" font-size="9" text-anchor="middle" fill="#5a5a5a">30</text>
<text x="58.7" y="292.5" font-family="Liberation Sans" font-size="9" text-anchor="middle" fill="#5a5a5a">25</text>
<text x="78.7" y="327.5" font-family="Liberation Sans" font-size="9" text-anchor="middle" fill="#5a5a5a">20</text>
<text x="98.7" y="363.7" font-family="Liberation Sans" font-size="9" text-anchor="middle" fill="#5a5a5a">15</text>
<text x="118.7" y="400.0" font-family="Liberation Sans" font-size="9" text-anchor="middle" fill="#5a5a5a">10</text>
<text x="139.4" y="400.0" font-family="Liberation Sans" font-size="9" text-anchor="middle" fill="#5a5a5a">500</text>
<text x="189.0" y="381.0" font-family="Liberation Sans" font-size="9" text-anchor="middle" fill="#5a5a5a">600</text>
<text x="241.6" y="364.4" font-family="Liberation Sans" font-size="9" text-anchor="middle" fill="#5a5a5a">700</text>
<text x="292.0" y="346.5" font-family="Liberation Sans" font-size="9" text-anchor="middle" fill="#5a5a5a">800</text>
<text x="344.0" y="329.8" font-family="Liberation Sans" font-size="9" text-anchor="middle" fill="#5a5a5a">900</text>
<text x="40.3" y="464.5" font-family="Liberation Sans" font-size="8" text-anchor="middle" fill="#5a5a5a">45</text>
<text x="41.6" y="494.9" font-family="Liberation Sans" font-size="8" text-anchor="middle" fill="#5a5a5a">40</text>
<text x="43.0" y="525.5" font-family="Liberation Sans" font-size="8" text-anchor="middle" fill="#5a5a5a">35</text>
<text x="44.5" y="555.5" font-family="Liberation Sans" font-size="8" text-anchor="middle" fill="#5a5a5a">30</text>
<text x="45.5" y="586.5" font-family="Liberation Sans" font-size="8" text-anchor="middle" fill="#5a5a5a">25</text>
<text x="47.0" y="616.5" font-family="Liberation Sans" font-size="8" text-anchor="middle" fill="#5a5a5a">20</text>
<text x="48.5" y="647.5" font-family="Liberation Sans" font-size="8" text-anchor="middle" fill="#5a5a5a">15</text>
<text x="51.3" y="716.6" font-family="Liberation Sans" font-size="9" text-anchor="middle" fill="#5a5a5a">30</text>
<text x="72.6" y="748.6" font-family="Liberation Sans" font-size="9" text-anchor="middle" fill="#5a5a5a">25</text>
<text x="94.0" y="780.6" font-family="Liberation Sans" font-size="9" text-anchor="middle" fill="#5a5a5a">20</text>
<text x="115.3" y="812.6" font-family="Liberation Sans" font-size="9" text-anchor="middle" fill="#5a5a5a">15</text>
<text x="138.0" y="843.3" font-family="Liberation Sans" font-size="9" text-anchor="middle" fill="#5a5a5a">10</text>
<text x="157.3" y="843.3" font-family="Liberation Sans" font-size="9" text-anchor="middle" fill="#5a5a5a">500</text>
<text x="203.7" y="825.0" font-family="Liberation Sans" font-size="9" text-anchor="middle" fill="#5a5a5a">600</text>
<text x="250.0" y="810.0" font-family="Liberation Sans" font-size="9" text-anchor="middle" fill="#5a5a5a">700</text>
<text x="297.6" y="788.0" font-family="Liberation Sans" font-size="9" text-anchor="middle" fill="#5a5a5a">800</text>
<text x="345.5" y="770.6" font-family="Liberation Sans" font-size="9" text-anchor="middle" fill="#5a5a5a">900</text>
</svg></body></html>
